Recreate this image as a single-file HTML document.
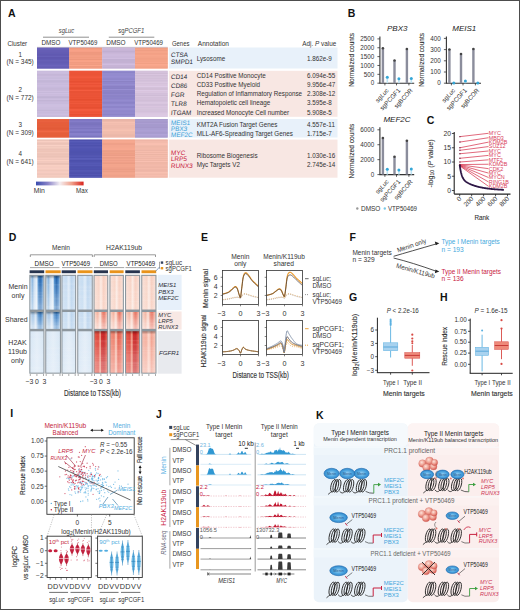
<!DOCTYPE html>
<html><head><meta charset="utf-8"><style>
html,body{margin:0;padding:0;background:#fff;}
svg{display:block;}
svg text{font-family:"Liberation Sans", sans-serif;}
</style></head><body>
<svg width="520" height="610" viewBox="0 0 520 610">
<rect x="0" y="0" width="520" height="610" fill="#fff"/>
<text x="8" y="17" font-size="10.5" fill="#111" font-weight="bold">A</text>
<text x="66.5" y="33" font-size="6.3" fill="#444" text-anchor="middle" font-style="italic" textLength="15.5" lengthAdjust="spacingAndGlyphs">sgLuc</text>
<line x1="43" y1="37.2" x2="89" y2="37.2" stroke="#444" stroke-width="0.6"/>
<text x="131.2" y="32.8" font-size="6.5" fill="#444" text-anchor="middle" textLength="26" lengthAdjust="spacingAndGlyphs">sg<tspan font-style="italic">PCGF1</tspan></text>
<line x1="108.8" y1="37.2" x2="154.3" y2="37.2" stroke="#444" stroke-width="0.6"/>
<text x="7.4" y="46.4" font-size="6.3" fill="#333" textLength="19.8" lengthAdjust="spacingAndGlyphs">Cluster</text>
<text x="41.5" y="45" font-size="6.3" fill="#333" textLength="19" lengthAdjust="spacingAndGlyphs">DMSO</text>
<text x="68.5" y="45" font-size="6.3" fill="#333" textLength="28.9" lengthAdjust="spacingAndGlyphs">VTP50469</text>
<text x="106.3" y="45" font-size="6.3" fill="#333" textLength="19.3" lengthAdjust="spacingAndGlyphs">DMSO</text>
<text x="134.2" y="45" font-size="6.3" fill="#333" textLength="28.8" lengthAdjust="spacingAndGlyphs">VTP50469</text>
<text x="172" y="46" font-size="6.3" fill="#333" textLength="17.4" lengthAdjust="spacingAndGlyphs">Genes</text>
<text x="197.8" y="46" font-size="6.3" fill="#333" textLength="31.2" lengthAdjust="spacingAndGlyphs">Annotation</text>
<text x="302.3" y="46.3" font-size="6.3" fill="#333" textLength="33.9" lengthAdjust="spacingAndGlyphs">Adj. <tspan font-style="italic">P</tspan> value</text>
<text x="20.2" y="56.6" font-size="6.3" fill="#333" text-anchor="middle">1</text>
<text x="20.2" y="63.8" font-size="6.3" fill="#333" text-anchor="middle" textLength="27.2" lengthAdjust="spacingAndGlyphs">(N = 345)</text>
<text x="20.2" y="92.3" font-size="6.3" fill="#333" text-anchor="middle">2</text>
<text x="20.2" y="100" font-size="6.3" fill="#333" text-anchor="middle" textLength="27.2" lengthAdjust="spacingAndGlyphs">(N = 772)</text>
<text x="20.2" y="126.5" font-size="6.3" fill="#333" text-anchor="middle">3</text>
<text x="20.2" y="134.6" font-size="6.3" fill="#333" text-anchor="middle" textLength="27.2" lengthAdjust="spacingAndGlyphs">(N = 309)</text>
<text x="20.2" y="156.2" font-size="6.3" fill="#333" text-anchor="middle">4</text>
<text x="20.2" y="164.4" font-size="6.3" fill="#333" text-anchor="middle" textLength="27.2" lengthAdjust="spacingAndGlyphs">(N = 641)</text>
<rect x="37.00" y="47.50" width="32.30" height="21.00" fill="#665fb6"/>
<rect x="37.00" y="47.50" width="32.30" height="1.00" fill="#6e67be" opacity="0.9"/>
<rect x="37.00" y="48.50" width="32.30" height="1.30" fill="#6962b9" opacity="0.9"/>
<rect x="37.00" y="49.80" width="32.30" height="0.60" fill="#6c65bc" opacity="0.9"/>
<rect x="37.00" y="50.40" width="32.30" height="0.60" fill="#645db4" opacity="0.9"/>
<rect x="37.00" y="51.00" width="32.30" height="0.60" fill="#6d66bd" opacity="0.9"/>
<rect x="37.00" y="51.60" width="32.30" height="0.80" fill="#5e57ae" opacity="0.9"/>
<rect x="37.00" y="52.40" width="32.30" height="1.30" fill="#655eb5" opacity="0.9"/>
<rect x="37.00" y="53.70" width="32.30" height="0.80" fill="#5f58af" opacity="0.9"/>
<rect x="37.00" y="54.50" width="32.30" height="1.30" fill="#5e57ae" opacity="0.9"/>
<rect x="37.00" y="55.80" width="32.30" height="0.60" fill="#6e67be" opacity="0.9"/>
<rect x="37.00" y="56.40" width="32.30" height="0.60" fill="#6760b7" opacity="0.9"/>
<rect x="37.00" y="57.00" width="32.30" height="1.30" fill="#5e57ae" opacity="0.9"/>
<rect x="37.00" y="58.30" width="32.30" height="0.80" fill="#5e57ae" opacity="0.9"/>
<rect x="37.00" y="59.10" width="32.30" height="0.80" fill="#625bb2" opacity="0.9"/>
<rect x="37.00" y="59.90" width="32.30" height="0.80" fill="#6760b7" opacity="0.9"/>
<rect x="37.00" y="60.70" width="32.30" height="1.00" fill="#6760b7" opacity="0.9"/>
<rect x="37.00" y="61.70" width="32.30" height="0.80" fill="#5f58af" opacity="0.9"/>
<rect x="37.00" y="62.50" width="32.30" height="0.80" fill="#645db4" opacity="0.9"/>
<rect x="37.00" y="63.30" width="32.30" height="0.60" fill="#6760b7" opacity="0.9"/>
<rect x="37.00" y="63.90" width="32.30" height="0.80" fill="#665fb6" opacity="0.9"/>
<rect x="37.00" y="64.70" width="32.30" height="1.30" fill="#6b64bb" opacity="0.9"/>
<rect x="37.00" y="66.00" width="32.30" height="1.30" fill="#6861b8" opacity="0.9"/>
<rect x="37.00" y="67.30" width="32.30" height="1.20" fill="#645db4" opacity="0.9"/>
<rect x="69.30" y="47.50" width="33.00" height="21.00" fill="#f49e84"/>
<rect x="69.30" y="47.50" width="33.00" height="0.80" fill="#f9a389" opacity="0.9"/>
<rect x="69.30" y="48.30" width="33.00" height="0.80" fill="#ec967c" opacity="0.9"/>
<rect x="69.30" y="49.10" width="33.00" height="1.00" fill="#f49e84" opacity="0.9"/>
<rect x="69.30" y="50.10" width="33.00" height="1.00" fill="#f8a288" opacity="0.9"/>
<rect x="69.30" y="51.10" width="33.00" height="1.00" fill="#f6a086" opacity="0.9"/>
<rect x="69.30" y="52.10" width="33.00" height="0.60" fill="#ed977d" opacity="0.9"/>
<rect x="69.30" y="52.70" width="33.00" height="1.30" fill="#ee987e" opacity="0.9"/>
<rect x="69.30" y="54.00" width="33.00" height="1.00" fill="#ee987e" opacity="0.9"/>
<rect x="69.30" y="55.00" width="33.00" height="1.30" fill="#f39d83" opacity="0.9"/>
<rect x="69.30" y="56.30" width="33.00" height="0.60" fill="#f9a389" opacity="0.9"/>
<rect x="69.30" y="56.90" width="33.00" height="1.00" fill="#f19b81" opacity="0.9"/>
<rect x="69.30" y="57.90" width="33.00" height="1.00" fill="#f6a086" opacity="0.9"/>
<rect x="69.30" y="58.90" width="33.00" height="1.30" fill="#ec967c" opacity="0.9"/>
<rect x="69.30" y="60.20" width="33.00" height="0.60" fill="#fca68c" opacity="0.9"/>
<rect x="69.30" y="60.80" width="33.00" height="1.30" fill="#f8a288" opacity="0.9"/>
<rect x="69.30" y="62.10" width="33.00" height="0.60" fill="#ec967c" opacity="0.9"/>
<rect x="69.30" y="62.70" width="33.00" height="1.00" fill="#f7a187" opacity="0.9"/>
<rect x="69.30" y="63.70" width="33.00" height="1.30" fill="#f09a80" opacity="0.9"/>
<rect x="69.30" y="65.00" width="33.00" height="1.30" fill="#fba58b" opacity="0.9"/>
<rect x="69.30" y="66.30" width="33.00" height="1.00" fill="#eb957b" opacity="0.9"/>
<rect x="69.30" y="67.30" width="33.00" height="1.20" fill="#f19b81" opacity="0.9"/>
<rect x="102.30" y="47.50" width="32.70" height="21.00" fill="#c8b6d8"/>
<rect x="102.30" y="47.50" width="32.70" height="0.60" fill="#c8b6d8" opacity="0.9"/>
<rect x="102.30" y="48.10" width="32.70" height="0.80" fill="#cdbbdd" opacity="0.9"/>
<rect x="102.30" y="48.90" width="32.70" height="0.80" fill="#ccbadc" opacity="0.9"/>
<rect x="102.30" y="49.70" width="32.70" height="1.30" fill="#c6b4d6" opacity="0.9"/>
<rect x="102.30" y="51.00" width="32.70" height="1.30" fill="#c0aed0" opacity="0.9"/>
<rect x="102.30" y="52.30" width="32.70" height="1.30" fill="#c6b4d6" opacity="0.9"/>
<rect x="102.30" y="53.60" width="32.70" height="1.00" fill="#cfbddf" opacity="0.9"/>
<rect x="102.30" y="54.60" width="32.70" height="1.30" fill="#cfbddf" opacity="0.9"/>
<rect x="102.30" y="55.90" width="32.70" height="1.00" fill="#ccbadc" opacity="0.9"/>
<rect x="102.30" y="56.90" width="32.70" height="1.00" fill="#cbb9db" opacity="0.9"/>
<rect x="102.30" y="57.90" width="32.70" height="1.30" fill="#d0bee0" opacity="0.9"/>
<rect x="102.30" y="59.20" width="32.70" height="0.80" fill="#c0aed0" opacity="0.9"/>
<rect x="102.30" y="60.00" width="32.70" height="0.80" fill="#c3b1d3" opacity="0.9"/>
<rect x="102.30" y="60.80" width="32.70" height="0.80" fill="#bfadcf" opacity="0.9"/>
<rect x="102.30" y="61.60" width="32.70" height="0.80" fill="#c4b2d4" opacity="0.9"/>
<rect x="102.30" y="62.40" width="32.70" height="0.60" fill="#c2b0d2" opacity="0.9"/>
<rect x="102.30" y="63.00" width="32.70" height="1.00" fill="#cab8da" opacity="0.9"/>
<rect x="102.30" y="64.00" width="32.70" height="1.00" fill="#d0bee0" opacity="0.9"/>
<rect x="102.30" y="65.00" width="32.70" height="0.60" fill="#c7b5d7" opacity="0.9"/>
<rect x="102.30" y="65.60" width="32.70" height="1.30" fill="#c6b4d6" opacity="0.9"/>
<rect x="102.30" y="66.90" width="32.70" height="1.30" fill="#c1afd1" opacity="0.9"/>
<rect x="102.30" y="68.20" width="32.70" height="0.30" fill="#c0aed0" opacity="0.9"/>
<rect x="135.00" y="47.50" width="32.70" height="21.00" fill="#f4a388"/>
<rect x="135.00" y="47.50" width="32.70" height="0.60" fill="#fdac91" opacity="0.9"/>
<rect x="135.00" y="48.10" width="32.70" height="1.30" fill="#ee9d82" opacity="0.9"/>
<rect x="135.00" y="49.40" width="32.70" height="1.00" fill="#f6a58a" opacity="0.9"/>
<rect x="135.00" y="50.40" width="32.70" height="0.60" fill="#eb9a7f" opacity="0.9"/>
<rect x="135.00" y="51.00" width="32.70" height="0.80" fill="#f5a489" opacity="0.9"/>
<rect x="135.00" y="51.80" width="32.70" height="1.00" fill="#f6a58a" opacity="0.9"/>
<rect x="135.00" y="52.80" width="32.70" height="0.60" fill="#fbaa8f" opacity="0.9"/>
<rect x="135.00" y="53.40" width="32.70" height="1.30" fill="#ee9d82" opacity="0.9"/>
<rect x="135.00" y="54.70" width="32.70" height="1.00" fill="#fcab90" opacity="0.9"/>
<rect x="135.00" y="55.70" width="32.70" height="1.00" fill="#f4a388" opacity="0.9"/>
<rect x="135.00" y="56.70" width="32.70" height="0.60" fill="#faa98e" opacity="0.9"/>
<rect x="135.00" y="57.30" width="32.70" height="1.30" fill="#f4a388" opacity="0.9"/>
<rect x="135.00" y="58.60" width="32.70" height="1.00" fill="#ed9c81" opacity="0.9"/>
<rect x="135.00" y="59.60" width="32.70" height="0.60" fill="#f8a78c" opacity="0.9"/>
<rect x="135.00" y="60.20" width="32.70" height="1.00" fill="#f4a388" opacity="0.9"/>
<rect x="135.00" y="61.20" width="32.70" height="0.80" fill="#f4a388" opacity="0.9"/>
<rect x="135.00" y="62.00" width="32.70" height="0.80" fill="#fcab90" opacity="0.9"/>
<rect x="135.00" y="62.80" width="32.70" height="1.00" fill="#ee9d82" opacity="0.9"/>
<rect x="135.00" y="63.80" width="32.70" height="0.60" fill="#f9a88d" opacity="0.9"/>
<rect x="135.00" y="64.40" width="32.70" height="1.00" fill="#fdac91" opacity="0.9"/>
<rect x="135.00" y="65.40" width="32.70" height="0.60" fill="#f8a78c" opacity="0.9"/>
<rect x="135.00" y="66.00" width="32.70" height="1.00" fill="#f4a388" opacity="0.9"/>
<rect x="135.00" y="67.00" width="32.70" height="0.80" fill="#f1a085" opacity="0.9"/>
<rect x="135.00" y="67.80" width="32.70" height="0.70" fill="#f5a489" opacity="0.9"/>
<rect x="37.00" y="70.80" width="32.30" height="46.00" fill="#c8badb"/>
<rect x="37.00" y="70.80" width="32.30" height="1.00" fill="#cabcdd" opacity="0.9"/>
<rect x="37.00" y="71.80" width="32.30" height="0.80" fill="#cec0e1" opacity="0.9"/>
<rect x="37.00" y="72.60" width="32.30" height="1.30" fill="#ccbedf" opacity="0.9"/>
<rect x="37.00" y="73.90" width="32.30" height="0.80" fill="#c3b5d6" opacity="0.9"/>
<rect x="37.00" y="74.70" width="32.30" height="1.30" fill="#c5b7d8" opacity="0.9"/>
<rect x="37.00" y="76.00" width="32.30" height="0.60" fill="#d1c3e4" opacity="0.9"/>
<rect x="37.00" y="76.60" width="32.30" height="1.00" fill="#c8badb" opacity="0.9"/>
<rect x="37.00" y="77.60" width="32.30" height="0.80" fill="#cbbdde" opacity="0.9"/>
<rect x="37.00" y="78.40" width="32.30" height="1.00" fill="#c7b9da" opacity="0.9"/>
<rect x="37.00" y="79.40" width="32.30" height="1.00" fill="#d0c2e3" opacity="0.9"/>
<rect x="37.00" y="80.40" width="32.30" height="1.00" fill="#c0b2d3" opacity="0.9"/>
<rect x="37.00" y="81.40" width="32.30" height="0.60" fill="#c3b5d6" opacity="0.9"/>
<rect x="37.00" y="82.00" width="32.30" height="0.80" fill="#c5b7d8" opacity="0.9"/>
<rect x="37.00" y="82.80" width="32.30" height="1.30" fill="#cabcdd" opacity="0.9"/>
<rect x="37.00" y="84.10" width="32.30" height="0.60" fill="#c8badb" opacity="0.9"/>
<rect x="37.00" y="84.70" width="32.30" height="1.00" fill="#cdbfe0" opacity="0.9"/>
<rect x="37.00" y="85.70" width="32.30" height="0.60" fill="#cec0e1" opacity="0.9"/>
<rect x="37.00" y="86.30" width="32.30" height="0.60" fill="#cfc1e2" opacity="0.9"/>
<rect x="37.00" y="86.90" width="32.30" height="0.80" fill="#c8badb" opacity="0.9"/>
<rect x="37.00" y="87.70" width="32.30" height="0.80" fill="#c7b9da" opacity="0.9"/>
<rect x="37.00" y="88.50" width="32.30" height="1.00" fill="#c1b3d4" opacity="0.9"/>
<rect x="37.00" y="89.50" width="32.30" height="1.30" fill="#c7b9da" opacity="0.9"/>
<rect x="37.00" y="90.80" width="32.30" height="0.60" fill="#ccbedf" opacity="0.9"/>
<rect x="37.00" y="91.40" width="32.30" height="0.80" fill="#d1c3e4" opacity="0.9"/>
<rect x="37.00" y="92.20" width="32.30" height="0.60" fill="#c2b4d5" opacity="0.9"/>
<rect x="37.00" y="92.80" width="32.30" height="1.30" fill="#cec0e1" opacity="0.9"/>
<rect x="37.00" y="94.10" width="32.30" height="0.80" fill="#cabcdd" opacity="0.9"/>
<rect x="37.00" y="94.90" width="32.30" height="1.30" fill="#cbbdde" opacity="0.9"/>
<rect x="37.00" y="96.20" width="32.30" height="1.00" fill="#c2b4d5" opacity="0.9"/>
<rect x="37.00" y="97.20" width="32.30" height="0.80" fill="#bfb1d2" opacity="0.9"/>
<rect x="37.00" y="98.00" width="32.30" height="0.60" fill="#c8badb" opacity="0.9"/>
<rect x="37.00" y="98.60" width="32.30" height="0.80" fill="#c7b9da" opacity="0.9"/>
<rect x="37.00" y="99.40" width="32.30" height="0.80" fill="#cec0e1" opacity="0.9"/>
<rect x="37.00" y="100.20" width="32.30" height="0.80" fill="#c0b2d3" opacity="0.9"/>
<rect x="37.00" y="101.00" width="32.30" height="0.80" fill="#c4b6d7" opacity="0.9"/>
<rect x="37.00" y="101.80" width="32.30" height="0.80" fill="#cdbfe0" opacity="0.9"/>
<rect x="37.00" y="102.60" width="32.30" height="1.00" fill="#c4b6d7" opacity="0.9"/>
<rect x="37.00" y="103.60" width="32.30" height="1.30" fill="#cec0e1" opacity="0.9"/>
<rect x="37.00" y="104.90" width="32.30" height="0.60" fill="#cfc1e2" opacity="0.9"/>
<rect x="37.00" y="105.50" width="32.30" height="1.00" fill="#cfc1e2" opacity="0.9"/>
<rect x="37.00" y="106.50" width="32.30" height="1.30" fill="#cec0e1" opacity="0.9"/>
<rect x="37.00" y="107.80" width="32.30" height="0.80" fill="#c9bbdc" opacity="0.9"/>
<rect x="37.00" y="108.60" width="32.30" height="0.60" fill="#cfc1e2" opacity="0.9"/>
<rect x="37.00" y="109.20" width="32.30" height="0.80" fill="#cabcdd" opacity="0.9"/>
<rect x="37.00" y="110.00" width="32.30" height="0.80" fill="#c2b4d5" opacity="0.9"/>
<rect x="37.00" y="110.80" width="32.30" height="1.30" fill="#cabcdd" opacity="0.9"/>
<rect x="37.00" y="112.10" width="32.30" height="0.60" fill="#c9bbdc" opacity="0.9"/>
<rect x="37.00" y="112.70" width="32.30" height="1.00" fill="#cbbdde" opacity="0.9"/>
<rect x="37.00" y="113.70" width="32.30" height="1.30" fill="#cdbfe0" opacity="0.9"/>
<rect x="37.00" y="115.00" width="32.30" height="0.60" fill="#cfc1e2" opacity="0.9"/>
<rect x="37.00" y="115.60" width="32.30" height="0.60" fill="#c3b5d6" opacity="0.9"/>
<rect x="37.00" y="116.20" width="32.30" height="0.60" fill="#c0b2d3" opacity="0.9"/>
<rect x="69.30" y="70.80" width="33.00" height="46.00" fill="#ec5538"/>
<rect x="69.30" y="70.80" width="33.00" height="0.60" fill="#ec5538" opacity="0.9"/>
<rect x="69.30" y="71.40" width="33.00" height="0.60" fill="#f15a3d" opacity="0.9"/>
<rect x="69.30" y="72.00" width="33.00" height="0.60" fill="#eb5437" opacity="0.9"/>
<rect x="69.30" y="72.60" width="33.00" height="0.80" fill="#ef583b" opacity="0.9"/>
<rect x="69.30" y="73.40" width="33.00" height="1.30" fill="#ec5538" opacity="0.9"/>
<rect x="69.30" y="74.70" width="33.00" height="1.30" fill="#ec5538" opacity="0.9"/>
<rect x="69.30" y="76.00" width="33.00" height="0.80" fill="#f0593c" opacity="0.9"/>
<rect x="69.30" y="76.80" width="33.00" height="1.00" fill="#f45d40" opacity="0.9"/>
<rect x="69.30" y="77.80" width="33.00" height="0.80" fill="#f25b3e" opacity="0.9"/>
<rect x="69.30" y="78.60" width="33.00" height="0.80" fill="#ea5336" opacity="0.9"/>
<rect x="69.30" y="79.40" width="33.00" height="1.30" fill="#eb5437" opacity="0.9"/>
<rect x="69.30" y="80.70" width="33.00" height="0.60" fill="#ef583b" opacity="0.9"/>
<rect x="69.30" y="81.30" width="33.00" height="1.30" fill="#e44d30" opacity="0.9"/>
<rect x="69.30" y="82.60" width="33.00" height="1.00" fill="#f15a3d" opacity="0.9"/>
<rect x="69.30" y="83.60" width="33.00" height="0.80" fill="#f45d40" opacity="0.9"/>
<rect x="69.30" y="84.40" width="33.00" height="1.00" fill="#e64f32" opacity="0.9"/>
<rect x="69.30" y="85.40" width="33.00" height="0.80" fill="#f45d40" opacity="0.9"/>
<rect x="69.30" y="86.20" width="33.00" height="0.80" fill="#f0593c" opacity="0.9"/>
<rect x="69.30" y="87.00" width="33.00" height="0.60" fill="#ea5336" opacity="0.9"/>
<rect x="69.30" y="87.60" width="33.00" height="1.30" fill="#e64f32" opacity="0.9"/>
<rect x="69.30" y="88.90" width="33.00" height="0.80" fill="#e64f32" opacity="0.9"/>
<rect x="69.30" y="89.70" width="33.00" height="1.30" fill="#f55e41" opacity="0.9"/>
<rect x="69.30" y="91.00" width="33.00" height="1.30" fill="#e95235" opacity="0.9"/>
<rect x="69.30" y="92.30" width="33.00" height="0.80" fill="#e95235" opacity="0.9"/>
<rect x="69.30" y="93.10" width="33.00" height="0.60" fill="#f0593c" opacity="0.9"/>
<rect x="69.30" y="93.70" width="33.00" height="0.60" fill="#e95235" opacity="0.9"/>
<rect x="69.30" y="94.30" width="33.00" height="1.30" fill="#eb5437" opacity="0.9"/>
<rect x="69.30" y="95.60" width="33.00" height="0.60" fill="#ea5336" opacity="0.9"/>
<rect x="69.30" y="96.20" width="33.00" height="1.00" fill="#ec5538" opacity="0.9"/>
<rect x="69.30" y="97.20" width="33.00" height="0.60" fill="#e54e31" opacity="0.9"/>
<rect x="69.30" y="97.80" width="33.00" height="0.80" fill="#f45d40" opacity="0.9"/>
<rect x="69.30" y="98.60" width="33.00" height="0.60" fill="#e54e31" opacity="0.9"/>
<rect x="69.30" y="99.20" width="33.00" height="1.00" fill="#e44d30" opacity="0.9"/>
<rect x="69.30" y="100.20" width="33.00" height="0.80" fill="#e85134" opacity="0.9"/>
<rect x="69.30" y="101.00" width="33.00" height="0.80" fill="#f25b3e" opacity="0.9"/>
<rect x="69.30" y="101.80" width="33.00" height="1.00" fill="#ea5336" opacity="0.9"/>
<rect x="69.30" y="102.80" width="33.00" height="1.30" fill="#f0593c" opacity="0.9"/>
<rect x="69.30" y="104.10" width="33.00" height="0.60" fill="#e85134" opacity="0.9"/>
<rect x="69.30" y="104.70" width="33.00" height="0.80" fill="#eb5437" opacity="0.9"/>
<rect x="69.30" y="105.50" width="33.00" height="0.60" fill="#e85134" opacity="0.9"/>
<rect x="69.30" y="106.10" width="33.00" height="0.60" fill="#ee573a" opacity="0.9"/>
<rect x="69.30" y="106.70" width="33.00" height="1.00" fill="#e54e31" opacity="0.9"/>
<rect x="69.30" y="107.70" width="33.00" height="0.80" fill="#e44d30" opacity="0.9"/>
<rect x="69.30" y="108.50" width="33.00" height="0.60" fill="#eb5437" opacity="0.9"/>
<rect x="69.30" y="109.10" width="33.00" height="1.00" fill="#f55e41" opacity="0.9"/>
<rect x="69.30" y="110.10" width="33.00" height="1.30" fill="#f45d40" opacity="0.9"/>
<rect x="69.30" y="111.40" width="33.00" height="1.00" fill="#ee573a" opacity="0.9"/>
<rect x="69.30" y="112.40" width="33.00" height="0.60" fill="#ec5538" opacity="0.9"/>
<rect x="69.30" y="113.00" width="33.00" height="0.80" fill="#f45d40" opacity="0.9"/>
<rect x="69.30" y="113.80" width="33.00" height="0.80" fill="#e85134" opacity="0.9"/>
<rect x="69.30" y="114.60" width="33.00" height="0.80" fill="#e75033" opacity="0.9"/>
<rect x="69.30" y="115.40" width="33.00" height="1.00" fill="#ee573a" opacity="0.9"/>
<rect x="69.30" y="116.40" width="33.00" height="0.40" fill="#e85134" opacity="0.9"/>
<rect x="102.30" y="70.80" width="32.70" height="46.00" fill="#9188cc"/>
<rect x="102.30" y="70.80" width="32.70" height="0.80" fill="#8d84c8" opacity="0.9"/>
<rect x="102.30" y="71.60" width="32.70" height="0.60" fill="#9a91d5" opacity="0.9"/>
<rect x="102.30" y="72.20" width="32.70" height="0.60" fill="#887fc3" opacity="0.9"/>
<rect x="102.30" y="72.80" width="32.70" height="0.80" fill="#9188cc" opacity="0.9"/>
<rect x="102.30" y="73.60" width="32.70" height="0.80" fill="#9990d4" opacity="0.9"/>
<rect x="102.30" y="74.40" width="32.70" height="0.60" fill="#948bcf" opacity="0.9"/>
<rect x="102.30" y="75.00" width="32.70" height="1.30" fill="#948bcf" opacity="0.9"/>
<rect x="102.30" y="76.30" width="32.70" height="1.30" fill="#9990d4" opacity="0.9"/>
<rect x="102.30" y="77.60" width="32.70" height="1.00" fill="#948bcf" opacity="0.9"/>
<rect x="102.30" y="78.60" width="32.70" height="0.80" fill="#8e85c9" opacity="0.9"/>
<rect x="102.30" y="79.40" width="32.70" height="0.80" fill="#8f86ca" opacity="0.9"/>
<rect x="102.30" y="80.20" width="32.70" height="1.00" fill="#9a91d5" opacity="0.9"/>
<rect x="102.30" y="81.20" width="32.70" height="0.80" fill="#887fc3" opacity="0.9"/>
<rect x="102.30" y="82.00" width="32.70" height="1.00" fill="#9087cb" opacity="0.9"/>
<rect x="102.30" y="83.00" width="32.70" height="0.60" fill="#8a81c5" opacity="0.9"/>
<rect x="102.30" y="83.60" width="32.70" height="1.30" fill="#988fd3" opacity="0.9"/>
<rect x="102.30" y="84.90" width="32.70" height="1.00" fill="#938ace" opacity="0.9"/>
<rect x="102.30" y="85.90" width="32.70" height="1.00" fill="#8980c4" opacity="0.9"/>
<rect x="102.30" y="86.90" width="32.70" height="0.80" fill="#8b82c6" opacity="0.9"/>
<rect x="102.30" y="87.70" width="32.70" height="1.30" fill="#887fc3" opacity="0.9"/>
<rect x="102.30" y="89.00" width="32.70" height="1.00" fill="#9990d4" opacity="0.9"/>
<rect x="102.30" y="90.00" width="32.70" height="1.00" fill="#8c83c7" opacity="0.9"/>
<rect x="102.30" y="91.00" width="32.70" height="1.00" fill="#8c83c7" opacity="0.9"/>
<rect x="102.30" y="92.00" width="32.70" height="0.80" fill="#887fc3" opacity="0.9"/>
<rect x="102.30" y="92.80" width="32.70" height="1.30" fill="#8a81c5" opacity="0.9"/>
<rect x="102.30" y="94.10" width="32.70" height="1.00" fill="#9188cc" opacity="0.9"/>
<rect x="102.30" y="95.10" width="32.70" height="0.80" fill="#8c83c7" opacity="0.9"/>
<rect x="102.30" y="95.90" width="32.70" height="0.60" fill="#8a81c5" opacity="0.9"/>
<rect x="102.30" y="96.50" width="32.70" height="0.60" fill="#8b82c6" opacity="0.9"/>
<rect x="102.30" y="97.10" width="32.70" height="0.60" fill="#8f86ca" opacity="0.9"/>
<rect x="102.30" y="97.70" width="32.70" height="1.00" fill="#8d84c8" opacity="0.9"/>
<rect x="102.30" y="98.70" width="32.70" height="0.80" fill="#8a81c5" opacity="0.9"/>
<rect x="102.30" y="99.50" width="32.70" height="0.80" fill="#948bcf" opacity="0.9"/>
<rect x="102.30" y="100.30" width="32.70" height="1.30" fill="#968dd1" opacity="0.9"/>
<rect x="102.30" y="101.60" width="32.70" height="1.30" fill="#8b82c6" opacity="0.9"/>
<rect x="102.30" y="102.90" width="32.70" height="0.80" fill="#8980c4" opacity="0.9"/>
<rect x="102.30" y="103.70" width="32.70" height="1.30" fill="#958cd0" opacity="0.9"/>
<rect x="102.30" y="105.00" width="32.70" height="0.80" fill="#988fd3" opacity="0.9"/>
<rect x="102.30" y="105.80" width="32.70" height="0.60" fill="#978ed2" opacity="0.9"/>
<rect x="102.30" y="106.40" width="32.70" height="0.80" fill="#8a81c5" opacity="0.9"/>
<rect x="102.30" y="107.20" width="32.70" height="0.60" fill="#8a81c5" opacity="0.9"/>
<rect x="102.30" y="107.80" width="32.70" height="1.00" fill="#9990d4" opacity="0.9"/>
<rect x="102.30" y="108.80" width="32.70" height="1.30" fill="#978ed2" opacity="0.9"/>
<rect x="102.30" y="110.10" width="32.70" height="0.60" fill="#938ace" opacity="0.9"/>
<rect x="102.30" y="110.70" width="32.70" height="0.80" fill="#9188cc" opacity="0.9"/>
<rect x="102.30" y="111.50" width="32.70" height="0.60" fill="#9087cb" opacity="0.9"/>
<rect x="102.30" y="112.10" width="32.70" height="0.60" fill="#958cd0" opacity="0.9"/>
<rect x="102.30" y="112.70" width="32.70" height="0.60" fill="#948bcf" opacity="0.9"/>
<rect x="102.30" y="113.30" width="32.70" height="0.60" fill="#958cd0" opacity="0.9"/>
<rect x="102.30" y="113.90" width="32.70" height="1.30" fill="#8d84c8" opacity="0.9"/>
<rect x="102.30" y="115.20" width="32.70" height="0.60" fill="#978ed2" opacity="0.9"/>
<rect x="102.30" y="115.80" width="32.70" height="0.80" fill="#958cd0" opacity="0.9"/>
<rect x="135.00" y="70.80" width="32.70" height="46.00" fill="#d6c3dc"/>
<rect x="135.00" y="70.80" width="32.70" height="0.80" fill="#d1bed7" opacity="0.9"/>
<rect x="135.00" y="71.60" width="32.70" height="1.30" fill="#d6c3dc" opacity="0.9"/>
<rect x="135.00" y="72.90" width="32.70" height="1.30" fill="#cebbd4" opacity="0.9"/>
<rect x="135.00" y="74.20" width="32.70" height="1.00" fill="#dbc8e1" opacity="0.9"/>
<rect x="135.00" y="75.20" width="32.70" height="0.80" fill="#cebbd4" opacity="0.9"/>
<rect x="135.00" y="76.00" width="32.70" height="0.80" fill="#d3c0d9" opacity="0.9"/>
<rect x="135.00" y="76.80" width="32.70" height="1.00" fill="#d8c5de" opacity="0.9"/>
<rect x="135.00" y="77.80" width="32.70" height="0.80" fill="#cdbad3" opacity="0.9"/>
<rect x="135.00" y="78.60" width="32.70" height="0.60" fill="#d6c3dc" opacity="0.9"/>
<rect x="135.00" y="79.20" width="32.70" height="0.60" fill="#d9c6df" opacity="0.9"/>
<rect x="135.00" y="79.80" width="32.70" height="1.30" fill="#d2bfd8" opacity="0.9"/>
<rect x="135.00" y="81.10" width="32.70" height="1.00" fill="#d5c2db" opacity="0.9"/>
<rect x="135.00" y="82.10" width="32.70" height="1.30" fill="#dbc8e1" opacity="0.9"/>
<rect x="135.00" y="83.40" width="32.70" height="0.80" fill="#d3c0d9" opacity="0.9"/>
<rect x="135.00" y="84.20" width="32.70" height="0.60" fill="#decbe4" opacity="0.9"/>
<rect x="135.00" y="84.80" width="32.70" height="0.60" fill="#d2bfd8" opacity="0.9"/>
<rect x="135.00" y="85.40" width="32.70" height="0.60" fill="#dcc9e2" opacity="0.9"/>
<rect x="135.00" y="86.00" width="32.70" height="1.30" fill="#dfcce5" opacity="0.9"/>
<rect x="135.00" y="87.30" width="32.70" height="1.30" fill="#d1bed7" opacity="0.9"/>
<rect x="135.00" y="88.60" width="32.70" height="0.80" fill="#cebbd4" opacity="0.9"/>
<rect x="135.00" y="89.40" width="32.70" height="0.60" fill="#d0bdd6" opacity="0.9"/>
<rect x="135.00" y="90.00" width="32.70" height="1.00" fill="#decbe4" opacity="0.9"/>
<rect x="135.00" y="91.00" width="32.70" height="0.80" fill="#d8c5de" opacity="0.9"/>
<rect x="135.00" y="91.80" width="32.70" height="1.00" fill="#ddcae3" opacity="0.9"/>
<rect x="135.00" y="92.80" width="32.70" height="1.00" fill="#d1bed7" opacity="0.9"/>
<rect x="135.00" y="93.80" width="32.70" height="1.30" fill="#d4c1da" opacity="0.9"/>
<rect x="135.00" y="95.10" width="32.70" height="0.80" fill="#cdbad3" opacity="0.9"/>
<rect x="135.00" y="95.90" width="32.70" height="1.30" fill="#d9c6df" opacity="0.9"/>
<rect x="135.00" y="97.20" width="32.70" height="1.30" fill="#d2bfd8" opacity="0.9"/>
<rect x="135.00" y="98.50" width="32.70" height="0.80" fill="#d4c1da" opacity="0.9"/>
<rect x="135.00" y="99.30" width="32.70" height="1.30" fill="#d3c0d9" opacity="0.9"/>
<rect x="135.00" y="100.60" width="32.70" height="1.00" fill="#cdbad3" opacity="0.9"/>
<rect x="135.00" y="101.60" width="32.70" height="1.00" fill="#dcc9e2" opacity="0.9"/>
<rect x="135.00" y="102.60" width="32.70" height="0.60" fill="#decbe4" opacity="0.9"/>
<rect x="135.00" y="103.20" width="32.70" height="0.80" fill="#dac7e0" opacity="0.9"/>
<rect x="135.00" y="104.00" width="32.70" height="1.00" fill="#d2bfd8" opacity="0.9"/>
<rect x="135.00" y="105.00" width="32.70" height="0.60" fill="#d4c1da" opacity="0.9"/>
<rect x="135.00" y="105.60" width="32.70" height="0.60" fill="#d3c0d9" opacity="0.9"/>
<rect x="135.00" y="106.20" width="32.70" height="1.30" fill="#dbc8e1" opacity="0.9"/>
<rect x="135.00" y="107.50" width="32.70" height="0.60" fill="#d2bfd8" opacity="0.9"/>
<rect x="135.00" y="108.10" width="32.70" height="0.60" fill="#dcc9e2" opacity="0.9"/>
<rect x="135.00" y="108.70" width="32.70" height="1.00" fill="#d8c5de" opacity="0.9"/>
<rect x="135.00" y="109.70" width="32.70" height="0.80" fill="#d1bed7" opacity="0.9"/>
<rect x="135.00" y="110.50" width="32.70" height="1.00" fill="#d5c2db" opacity="0.9"/>
<rect x="135.00" y="111.50" width="32.70" height="1.00" fill="#d0bdd6" opacity="0.9"/>
<rect x="135.00" y="112.50" width="32.70" height="1.00" fill="#dbc8e1" opacity="0.9"/>
<rect x="135.00" y="113.50" width="32.70" height="1.30" fill="#ddcae3" opacity="0.9"/>
<rect x="135.00" y="114.80" width="32.70" height="1.30" fill="#ddcae3" opacity="0.9"/>
<rect x="135.00" y="116.10" width="32.70" height="0.70" fill="#dac7e0" opacity="0.9"/>
<rect x="37.00" y="119.00" width="32.30" height="18.50" fill="#e8613e"/>
<rect x="37.00" y="119.00" width="32.30" height="0.60" fill="#f06946" opacity="0.9"/>
<rect x="37.00" y="119.60" width="32.30" height="1.30" fill="#e7603d" opacity="0.9"/>
<rect x="37.00" y="120.90" width="32.30" height="0.80" fill="#eb6441" opacity="0.9"/>
<rect x="37.00" y="121.70" width="32.30" height="1.00" fill="#e8613e" opacity="0.9"/>
<rect x="37.00" y="122.70" width="32.30" height="0.80" fill="#e25b38" opacity="0.9"/>
<rect x="37.00" y="123.50" width="32.30" height="1.30" fill="#e55e3b" opacity="0.9"/>
<rect x="37.00" y="124.80" width="32.30" height="1.00" fill="#e45d3a" opacity="0.9"/>
<rect x="37.00" y="125.80" width="32.30" height="1.00" fill="#e65f3c" opacity="0.9"/>
<rect x="37.00" y="126.80" width="32.30" height="0.80" fill="#e45d3a" opacity="0.9"/>
<rect x="37.00" y="127.60" width="32.30" height="1.30" fill="#e15a37" opacity="0.9"/>
<rect x="37.00" y="128.90" width="32.30" height="0.80" fill="#e05936" opacity="0.9"/>
<rect x="37.00" y="129.70" width="32.30" height="1.30" fill="#e9623f" opacity="0.9"/>
<rect x="37.00" y="131.00" width="32.30" height="1.30" fill="#ef6845" opacity="0.9"/>
<rect x="37.00" y="132.30" width="32.30" height="1.30" fill="#e7603d" opacity="0.9"/>
<rect x="37.00" y="133.60" width="32.30" height="0.80" fill="#e35c39" opacity="0.9"/>
<rect x="37.00" y="134.40" width="32.30" height="0.80" fill="#e55e3b" opacity="0.9"/>
<rect x="37.00" y="135.20" width="32.30" height="0.60" fill="#e55e3b" opacity="0.9"/>
<rect x="37.00" y="135.80" width="32.30" height="1.00" fill="#e45d3a" opacity="0.9"/>
<rect x="37.00" y="136.80" width="32.30" height="0.70" fill="#ef6845" opacity="0.9"/>
<rect x="69.30" y="119.00" width="33.00" height="18.50" fill="#8079c4"/>
<rect x="69.30" y="119.00" width="33.00" height="1.30" fill="#7e77c2" opacity="0.9"/>
<rect x="69.30" y="120.30" width="33.00" height="0.80" fill="#7e77c2" opacity="0.9"/>
<rect x="69.30" y="121.10" width="33.00" height="1.00" fill="#857ec9" opacity="0.9"/>
<rect x="69.30" y="122.10" width="33.00" height="1.30" fill="#7c75c0" opacity="0.9"/>
<rect x="69.30" y="123.40" width="33.00" height="1.00" fill="#7972bd" opacity="0.9"/>
<rect x="69.30" y="124.40" width="33.00" height="0.80" fill="#7972bd" opacity="0.9"/>
<rect x="69.30" y="125.20" width="33.00" height="0.80" fill="#7e77c2" opacity="0.9"/>
<rect x="69.30" y="126.00" width="33.00" height="1.30" fill="#7f78c3" opacity="0.9"/>
<rect x="69.30" y="127.30" width="33.00" height="1.00" fill="#867fca" opacity="0.9"/>
<rect x="69.30" y="128.30" width="33.00" height="0.60" fill="#7972bd" opacity="0.9"/>
<rect x="69.30" y="128.90" width="33.00" height="1.30" fill="#847dc8" opacity="0.9"/>
<rect x="69.30" y="130.20" width="33.00" height="1.30" fill="#8881cc" opacity="0.9"/>
<rect x="69.30" y="131.50" width="33.00" height="1.30" fill="#7770bb" opacity="0.9"/>
<rect x="69.30" y="132.80" width="33.00" height="1.30" fill="#8881cc" opacity="0.9"/>
<rect x="69.30" y="134.10" width="33.00" height="1.30" fill="#8982cd" opacity="0.9"/>
<rect x="69.30" y="135.40" width="33.00" height="0.80" fill="#857ec9" opacity="0.9"/>
<rect x="69.30" y="136.20" width="33.00" height="0.80" fill="#7a73be" opacity="0.9"/>
<rect x="69.30" y="137.00" width="33.00" height="0.50" fill="#8881cc" opacity="0.9"/>
<rect x="102.30" y="119.00" width="32.70" height="18.50" fill="#f0bcad"/>
<rect x="102.30" y="119.00" width="32.70" height="1.30" fill="#e9b5a6" opacity="0.9"/>
<rect x="102.30" y="120.30" width="32.70" height="0.60" fill="#e7b3a4" opacity="0.9"/>
<rect x="102.30" y="120.90" width="32.70" height="0.80" fill="#ebb7a8" opacity="0.9"/>
<rect x="102.30" y="121.70" width="32.70" height="0.60" fill="#f3bfb0" opacity="0.9"/>
<rect x="102.30" y="122.30" width="32.70" height="1.00" fill="#f8c4b5" opacity="0.9"/>
<rect x="102.30" y="123.30" width="32.70" height="1.00" fill="#f1bdae" opacity="0.9"/>
<rect x="102.30" y="124.30" width="32.70" height="1.30" fill="#f4c0b1" opacity="0.9"/>
<rect x="102.30" y="125.60" width="32.70" height="0.60" fill="#e9b5a6" opacity="0.9"/>
<rect x="102.30" y="126.20" width="32.70" height="1.00" fill="#f0bcad" opacity="0.9"/>
<rect x="102.30" y="127.20" width="32.70" height="0.80" fill="#eebaab" opacity="0.9"/>
<rect x="102.30" y="128.00" width="32.70" height="0.80" fill="#f5c1b2" opacity="0.9"/>
<rect x="102.30" y="128.80" width="32.70" height="0.60" fill="#e7b3a4" opacity="0.9"/>
<rect x="102.30" y="129.40" width="32.70" height="1.00" fill="#f9c5b6" opacity="0.9"/>
<rect x="102.30" y="130.40" width="32.70" height="1.00" fill="#f8c4b5" opacity="0.9"/>
<rect x="102.30" y="131.40" width="32.70" height="0.80" fill="#f0bcad" opacity="0.9"/>
<rect x="102.30" y="132.20" width="32.70" height="0.80" fill="#f1bdae" opacity="0.9"/>
<rect x="102.30" y="133.00" width="32.70" height="0.60" fill="#f8c4b5" opacity="0.9"/>
<rect x="102.30" y="133.60" width="32.70" height="1.00" fill="#e8b4a5" opacity="0.9"/>
<rect x="102.30" y="134.60" width="32.70" height="0.80" fill="#f0bcad" opacity="0.9"/>
<rect x="102.30" y="135.40" width="32.70" height="1.30" fill="#e8b4a5" opacity="0.9"/>
<rect x="102.30" y="136.70" width="32.70" height="0.80" fill="#f3bfb0" opacity="0.9"/>
<rect x="135.00" y="119.00" width="32.70" height="18.50" fill="#a99dd0"/>
<rect x="135.00" y="119.00" width="32.70" height="1.00" fill="#a498cb" opacity="0.9"/>
<rect x="135.00" y="120.00" width="32.70" height="0.60" fill="#ada1d4" opacity="0.9"/>
<rect x="135.00" y="120.60" width="32.70" height="1.30" fill="#a79bce" opacity="0.9"/>
<rect x="135.00" y="121.90" width="32.70" height="1.30" fill="#a498cb" opacity="0.9"/>
<rect x="135.00" y="123.20" width="32.70" height="1.00" fill="#ada1d4" opacity="0.9"/>
<rect x="135.00" y="124.20" width="32.70" height="0.60" fill="#a498cb" opacity="0.9"/>
<rect x="135.00" y="124.80" width="32.70" height="0.80" fill="#a69acd" opacity="0.9"/>
<rect x="135.00" y="125.60" width="32.70" height="0.80" fill="#a498cb" opacity="0.9"/>
<rect x="135.00" y="126.40" width="32.70" height="0.80" fill="#a599cc" opacity="0.9"/>
<rect x="135.00" y="127.20" width="32.70" height="1.00" fill="#a296c9" opacity="0.9"/>
<rect x="135.00" y="128.20" width="32.70" height="1.30" fill="#ab9fd2" opacity="0.9"/>
<rect x="135.00" y="129.50" width="32.70" height="0.80" fill="#a99dd0" opacity="0.9"/>
<rect x="135.00" y="130.30" width="32.70" height="0.60" fill="#b1a5d8" opacity="0.9"/>
<rect x="135.00" y="130.90" width="32.70" height="0.80" fill="#b1a5d8" opacity="0.9"/>
<rect x="135.00" y="131.70" width="32.70" height="0.60" fill="#a498cb" opacity="0.9"/>
<rect x="135.00" y="132.30" width="32.70" height="0.80" fill="#a79bce" opacity="0.9"/>
<rect x="135.00" y="133.10" width="32.70" height="0.60" fill="#a397ca" opacity="0.9"/>
<rect x="135.00" y="133.70" width="32.70" height="1.30" fill="#b0a4d7" opacity="0.9"/>
<rect x="135.00" y="135.00" width="32.70" height="1.00" fill="#ada1d4" opacity="0.9"/>
<rect x="135.00" y="136.00" width="32.70" height="0.60" fill="#b1a5d8" opacity="0.9"/>
<rect x="135.00" y="136.60" width="32.70" height="0.90" fill="#a397ca" opacity="0.9"/>
<rect x="37.00" y="139.60" width="32.30" height="38.10" fill="#f2c9bd"/>
<rect x="37.00" y="139.60" width="32.30" height="1.30" fill="#eac1b5" opacity="0.9"/>
<rect x="37.00" y="140.90" width="32.30" height="1.30" fill="#f8cfc3" opacity="0.9"/>
<rect x="37.00" y="142.20" width="32.30" height="1.00" fill="#f1c8bc" opacity="0.9"/>
<rect x="37.00" y="143.20" width="32.30" height="0.60" fill="#e9c0b4" opacity="0.9"/>
<rect x="37.00" y="143.80" width="32.30" height="1.00" fill="#eac1b5" opacity="0.9"/>
<rect x="37.00" y="144.80" width="32.30" height="1.30" fill="#fad1c5" opacity="0.9"/>
<rect x="37.00" y="146.10" width="32.30" height="0.60" fill="#f3cabe" opacity="0.9"/>
<rect x="37.00" y="146.70" width="32.30" height="0.80" fill="#f0c7bb" opacity="0.9"/>
<rect x="37.00" y="147.50" width="32.30" height="1.00" fill="#f8cfc3" opacity="0.9"/>
<rect x="37.00" y="148.50" width="32.30" height="1.30" fill="#ebc2b6" opacity="0.9"/>
<rect x="37.00" y="149.80" width="32.30" height="1.30" fill="#edc4b8" opacity="0.9"/>
<rect x="37.00" y="151.10" width="32.30" height="1.30" fill="#ecc3b7" opacity="0.9"/>
<rect x="37.00" y="152.40" width="32.30" height="1.00" fill="#f6cdc1" opacity="0.9"/>
<rect x="37.00" y="153.40" width="32.30" height="1.30" fill="#eac1b5" opacity="0.9"/>
<rect x="37.00" y="154.70" width="32.30" height="1.30" fill="#edc4b8" opacity="0.9"/>
<rect x="37.00" y="156.00" width="32.30" height="1.30" fill="#eac1b5" opacity="0.9"/>
<rect x="37.00" y="157.30" width="32.30" height="0.60" fill="#f1c8bc" opacity="0.9"/>
<rect x="37.00" y="157.90" width="32.30" height="0.60" fill="#eec5b9" opacity="0.9"/>
<rect x="37.00" y="158.50" width="32.30" height="0.60" fill="#f9d0c4" opacity="0.9"/>
<rect x="37.00" y="159.10" width="32.30" height="1.00" fill="#f0c7bb" opacity="0.9"/>
<rect x="37.00" y="160.10" width="32.30" height="1.00" fill="#fad1c5" opacity="0.9"/>
<rect x="37.00" y="161.10" width="32.30" height="0.60" fill="#eec5b9" opacity="0.9"/>
<rect x="37.00" y="161.70" width="32.30" height="1.00" fill="#fad1c5" opacity="0.9"/>
<rect x="37.00" y="162.70" width="32.30" height="1.00" fill="#e9c0b4" opacity="0.9"/>
<rect x="37.00" y="163.70" width="32.30" height="0.60" fill="#e9c0b4" opacity="0.9"/>
<rect x="37.00" y="164.30" width="32.30" height="0.80" fill="#ebc2b6" opacity="0.9"/>
<rect x="37.00" y="165.10" width="32.30" height="1.30" fill="#fad1c5" opacity="0.9"/>
<rect x="37.00" y="166.40" width="32.30" height="1.30" fill="#f7cec2" opacity="0.9"/>
<rect x="37.00" y="167.70" width="32.30" height="1.30" fill="#f8cfc3" opacity="0.9"/>
<rect x="37.00" y="169.00" width="32.30" height="0.80" fill="#fad1c5" opacity="0.9"/>
<rect x="37.00" y="169.80" width="32.30" height="0.80" fill="#e9c0b4" opacity="0.9"/>
<rect x="37.00" y="170.60" width="32.30" height="1.00" fill="#f8cfc3" opacity="0.9"/>
<rect x="37.00" y="171.60" width="32.30" height="0.80" fill="#f4cbbf" opacity="0.9"/>
<rect x="37.00" y="172.40" width="32.30" height="1.00" fill="#f9d0c4" opacity="0.9"/>
<rect x="37.00" y="173.40" width="32.30" height="1.30" fill="#f0c7bb" opacity="0.9"/>
<rect x="37.00" y="174.70" width="32.30" height="0.60" fill="#f2c9bd" opacity="0.9"/>
<rect x="37.00" y="175.30" width="32.30" height="1.30" fill="#f7cec2" opacity="0.9"/>
<rect x="37.00" y="176.60" width="32.30" height="0.80" fill="#f0c7bb" opacity="0.9"/>
<rect x="69.30" y="139.60" width="33.00" height="38.10" fill="#5357b2"/>
<rect x="69.30" y="139.60" width="33.00" height="0.60" fill="#5357b2" opacity="0.9"/>
<rect x="69.30" y="140.20" width="33.00" height="1.00" fill="#4d51ac" opacity="0.9"/>
<rect x="69.30" y="141.20" width="33.00" height="1.30" fill="#5a5eb9" opacity="0.9"/>
<rect x="69.30" y="142.50" width="33.00" height="0.60" fill="#4f53ae" opacity="0.9"/>
<rect x="69.30" y="143.10" width="33.00" height="0.60" fill="#4e52ad" opacity="0.9"/>
<rect x="69.30" y="143.70" width="33.00" height="1.30" fill="#5357b2" opacity="0.9"/>
<rect x="69.30" y="145.00" width="33.00" height="1.30" fill="#4d51ac" opacity="0.9"/>
<rect x="69.30" y="146.30" width="33.00" height="0.80" fill="#5256b1" opacity="0.9"/>
<rect x="69.30" y="147.10" width="33.00" height="0.80" fill="#575bb6" opacity="0.9"/>
<rect x="69.30" y="147.90" width="33.00" height="0.60" fill="#585cb7" opacity="0.9"/>
<rect x="69.30" y="148.50" width="33.00" height="1.00" fill="#4f53ae" opacity="0.9"/>
<rect x="69.30" y="149.50" width="33.00" height="1.00" fill="#5155b0" opacity="0.9"/>
<rect x="69.30" y="150.50" width="33.00" height="1.00" fill="#4e52ad" opacity="0.9"/>
<rect x="69.30" y="151.50" width="33.00" height="0.80" fill="#4d51ac" opacity="0.9"/>
<rect x="69.30" y="152.30" width="33.00" height="0.80" fill="#4d51ac" opacity="0.9"/>
<rect x="69.30" y="153.10" width="33.00" height="0.80" fill="#5054af" opacity="0.9"/>
<rect x="69.30" y="153.90" width="33.00" height="1.30" fill="#4f53ae" opacity="0.9"/>
<rect x="69.30" y="155.20" width="33.00" height="0.80" fill="#5357b2" opacity="0.9"/>
<rect x="69.30" y="156.00" width="33.00" height="0.80" fill="#565ab5" opacity="0.9"/>
<rect x="69.30" y="156.80" width="33.00" height="0.60" fill="#565ab5" opacity="0.9"/>
<rect x="69.30" y="157.40" width="33.00" height="0.60" fill="#4c50ab" opacity="0.9"/>
<rect x="69.30" y="158.00" width="33.00" height="1.30" fill="#5a5eb9" opacity="0.9"/>
<rect x="69.30" y="159.30" width="33.00" height="0.80" fill="#595db8" opacity="0.9"/>
<rect x="69.30" y="160.10" width="33.00" height="1.00" fill="#4b4faa" opacity="0.9"/>
<rect x="69.30" y="161.10" width="33.00" height="1.00" fill="#4e52ad" opacity="0.9"/>
<rect x="69.30" y="162.10" width="33.00" height="0.60" fill="#4d51ac" opacity="0.9"/>
<rect x="69.30" y="162.70" width="33.00" height="0.80" fill="#5b5fba" opacity="0.9"/>
<rect x="69.30" y="163.50" width="33.00" height="1.00" fill="#5357b2" opacity="0.9"/>
<rect x="69.30" y="164.50" width="33.00" height="0.80" fill="#5256b1" opacity="0.9"/>
<rect x="69.30" y="165.30" width="33.00" height="1.00" fill="#585cb7" opacity="0.9"/>
<rect x="69.30" y="166.30" width="33.00" height="0.60" fill="#4c50ab" opacity="0.9"/>
<rect x="69.30" y="166.90" width="33.00" height="1.00" fill="#4e52ad" opacity="0.9"/>
<rect x="69.30" y="167.90" width="33.00" height="1.00" fill="#5054af" opacity="0.9"/>
<rect x="69.30" y="168.90" width="33.00" height="0.60" fill="#4e52ad" opacity="0.9"/>
<rect x="69.30" y="169.50" width="33.00" height="1.00" fill="#4b4faa" opacity="0.9"/>
<rect x="69.30" y="170.50" width="33.00" height="0.80" fill="#595db8" opacity="0.9"/>
<rect x="69.30" y="171.30" width="33.00" height="1.00" fill="#5155b0" opacity="0.9"/>
<rect x="69.30" y="172.30" width="33.00" height="1.00" fill="#4d51ac" opacity="0.9"/>
<rect x="69.30" y="173.30" width="33.00" height="1.00" fill="#4b4faa" opacity="0.9"/>
<rect x="69.30" y="174.30" width="33.00" height="0.60" fill="#585cb7" opacity="0.9"/>
<rect x="69.30" y="174.90" width="33.00" height="1.30" fill="#4b4faa" opacity="0.9"/>
<rect x="69.30" y="176.20" width="33.00" height="0.60" fill="#585cb7" opacity="0.9"/>
<rect x="69.30" y="176.80" width="33.00" height="0.80" fill="#565ab5" opacity="0.9"/>
<rect x="102.30" y="139.60" width="32.70" height="38.10" fill="#f1a38b"/>
<rect x="102.30" y="139.60" width="32.70" height="0.60" fill="#f4a68e" opacity="0.9"/>
<rect x="102.30" y="140.20" width="32.70" height="1.30" fill="#f5a78f" opacity="0.9"/>
<rect x="102.30" y="141.50" width="32.70" height="1.30" fill="#faac94" opacity="0.9"/>
<rect x="102.30" y="142.80" width="32.70" height="1.00" fill="#f0a28a" opacity="0.9"/>
<rect x="102.30" y="143.80" width="32.70" height="0.60" fill="#eea088" opacity="0.9"/>
<rect x="102.30" y="144.40" width="32.70" height="1.00" fill="#efa189" opacity="0.9"/>
<rect x="102.30" y="145.40" width="32.70" height="0.60" fill="#f8aa92" opacity="0.9"/>
<rect x="102.30" y="146.00" width="32.70" height="1.00" fill="#f4a68e" opacity="0.9"/>
<rect x="102.30" y="147.00" width="32.70" height="1.30" fill="#f5a78f" opacity="0.9"/>
<rect x="102.30" y="148.30" width="32.70" height="0.80" fill="#f9ab93" opacity="0.9"/>
<rect x="102.30" y="149.10" width="32.70" height="1.30" fill="#f8aa92" opacity="0.9"/>
<rect x="102.30" y="150.40" width="32.70" height="1.30" fill="#ea9c84" opacity="0.9"/>
<rect x="102.30" y="151.70" width="32.70" height="0.60" fill="#efa189" opacity="0.9"/>
<rect x="102.30" y="152.30" width="32.70" height="1.00" fill="#f0a28a" opacity="0.9"/>
<rect x="102.30" y="153.30" width="32.70" height="0.80" fill="#ea9c84" opacity="0.9"/>
<rect x="102.30" y="154.10" width="32.70" height="0.60" fill="#f2a48c" opacity="0.9"/>
<rect x="102.30" y="154.70" width="32.70" height="1.30" fill="#ea9c84" opacity="0.9"/>
<rect x="102.30" y="156.00" width="32.70" height="1.00" fill="#f5a78f" opacity="0.9"/>
<rect x="102.30" y="157.00" width="32.70" height="0.80" fill="#eb9d85" opacity="0.9"/>
<rect x="102.30" y="157.80" width="32.70" height="1.00" fill="#eb9d85" opacity="0.9"/>
<rect x="102.30" y="158.80" width="32.70" height="0.80" fill="#f9ab93" opacity="0.9"/>
<rect x="102.30" y="159.60" width="32.70" height="0.60" fill="#efa189" opacity="0.9"/>
<rect x="102.30" y="160.20" width="32.70" height="0.80" fill="#ed9f87" opacity="0.9"/>
<rect x="102.30" y="161.00" width="32.70" height="0.60" fill="#faac94" opacity="0.9"/>
<rect x="102.30" y="161.60" width="32.70" height="1.30" fill="#eea088" opacity="0.9"/>
<rect x="102.30" y="162.90" width="32.70" height="1.30" fill="#ea9c84" opacity="0.9"/>
<rect x="102.30" y="164.20" width="32.70" height="0.80" fill="#f4a68e" opacity="0.9"/>
<rect x="102.30" y="165.00" width="32.70" height="0.80" fill="#f3a58d" opacity="0.9"/>
<rect x="102.30" y="165.80" width="32.70" height="0.80" fill="#f7a991" opacity="0.9"/>
<rect x="102.30" y="166.60" width="32.70" height="0.80" fill="#f2a48c" opacity="0.9"/>
<rect x="102.30" y="167.40" width="32.70" height="0.60" fill="#efa189" opacity="0.9"/>
<rect x="102.30" y="168.00" width="32.70" height="0.80" fill="#efa189" opacity="0.9"/>
<rect x="102.30" y="168.80" width="32.70" height="0.60" fill="#eb9d85" opacity="0.9"/>
<rect x="102.30" y="169.40" width="32.70" height="0.80" fill="#e99b83" opacity="0.9"/>
<rect x="102.30" y="170.20" width="32.70" height="0.60" fill="#f4a68e" opacity="0.9"/>
<rect x="102.30" y="170.80" width="32.70" height="1.00" fill="#ea9c84" opacity="0.9"/>
<rect x="102.30" y="171.80" width="32.70" height="1.30" fill="#f2a48c" opacity="0.9"/>
<rect x="102.30" y="173.10" width="32.70" height="1.00" fill="#f4a68e" opacity="0.9"/>
<rect x="102.30" y="174.10" width="32.70" height="1.00" fill="#f2a48c" opacity="0.9"/>
<rect x="102.30" y="175.10" width="32.70" height="1.30" fill="#efa189" opacity="0.9"/>
<rect x="102.30" y="176.40" width="32.70" height="1.00" fill="#f0a28a" opacity="0.9"/>
<rect x="135.00" y="139.60" width="32.70" height="38.10" fill="#f3bbab"/>
<rect x="135.00" y="139.60" width="32.70" height="1.30" fill="#edb5a5" opacity="0.9"/>
<rect x="135.00" y="140.90" width="32.70" height="0.60" fill="#f5bdad" opacity="0.9"/>
<rect x="135.00" y="141.50" width="32.70" height="1.30" fill="#f2baaa" opacity="0.9"/>
<rect x="135.00" y="142.80" width="32.70" height="1.30" fill="#f8c0b0" opacity="0.9"/>
<rect x="135.00" y="144.10" width="32.70" height="1.30" fill="#f9c1b1" opacity="0.9"/>
<rect x="135.00" y="145.40" width="32.70" height="1.30" fill="#f1b9a9" opacity="0.9"/>
<rect x="135.00" y="146.70" width="32.70" height="0.60" fill="#ecb4a4" opacity="0.9"/>
<rect x="135.00" y="147.30" width="32.70" height="1.30" fill="#f1b9a9" opacity="0.9"/>
<rect x="135.00" y="148.60" width="32.70" height="1.30" fill="#f3bbab" opacity="0.9"/>
<rect x="135.00" y="149.90" width="32.70" height="0.60" fill="#ebb3a3" opacity="0.9"/>
<rect x="135.00" y="150.50" width="32.70" height="0.80" fill="#ebb3a3" opacity="0.9"/>
<rect x="135.00" y="151.30" width="32.70" height="1.00" fill="#f8c0b0" opacity="0.9"/>
<rect x="135.00" y="152.30" width="32.70" height="0.60" fill="#ebb3a3" opacity="0.9"/>
<rect x="135.00" y="152.90" width="32.70" height="1.30" fill="#f6beae" opacity="0.9"/>
<rect x="135.00" y="154.20" width="32.70" height="0.80" fill="#eab2a2" opacity="0.9"/>
<rect x="135.00" y="155.00" width="32.70" height="0.60" fill="#fcc4b4" opacity="0.9"/>
<rect x="135.00" y="155.60" width="32.70" height="0.60" fill="#edb5a5" opacity="0.9"/>
<rect x="135.00" y="156.20" width="32.70" height="1.30" fill="#efb7a7" opacity="0.9"/>
<rect x="135.00" y="157.50" width="32.70" height="0.80" fill="#f6beae" opacity="0.9"/>
<rect x="135.00" y="158.30" width="32.70" height="0.80" fill="#ebb3a3" opacity="0.9"/>
<rect x="135.00" y="159.10" width="32.70" height="1.00" fill="#f5bdad" opacity="0.9"/>
<rect x="135.00" y="160.10" width="32.70" height="1.00" fill="#edb5a5" opacity="0.9"/>
<rect x="135.00" y="161.10" width="32.70" height="1.00" fill="#fac2b2" opacity="0.9"/>
<rect x="135.00" y="162.10" width="32.70" height="1.30" fill="#edb5a5" opacity="0.9"/>
<rect x="135.00" y="163.40" width="32.70" height="1.30" fill="#eeb6a6" opacity="0.9"/>
<rect x="135.00" y="164.70" width="32.70" height="1.00" fill="#f5bdad" opacity="0.9"/>
<rect x="135.00" y="165.70" width="32.70" height="0.80" fill="#f0b8a8" opacity="0.9"/>
<rect x="135.00" y="166.50" width="32.70" height="0.60" fill="#eeb6a6" opacity="0.9"/>
<rect x="135.00" y="167.10" width="32.70" height="1.30" fill="#edb5a5" opacity="0.9"/>
<rect x="135.00" y="168.40" width="32.70" height="1.00" fill="#f6beae" opacity="0.9"/>
<rect x="135.00" y="169.40" width="32.70" height="1.30" fill="#edb5a5" opacity="0.9"/>
<rect x="135.00" y="170.70" width="32.70" height="1.00" fill="#ecb4a4" opacity="0.9"/>
<rect x="135.00" y="171.70" width="32.70" height="0.60" fill="#f5bdad" opacity="0.9"/>
<rect x="135.00" y="172.30" width="32.70" height="1.00" fill="#fbc3b3" opacity="0.9"/>
<rect x="135.00" y="173.30" width="32.70" height="1.30" fill="#f4bcac" opacity="0.9"/>
<rect x="135.00" y="174.60" width="32.70" height="0.60" fill="#efb7a7" opacity="0.9"/>
<rect x="135.00" y="175.20" width="32.70" height="1.30" fill="#f7bfaf" opacity="0.9"/>
<rect x="135.00" y="176.50" width="32.70" height="1.00" fill="#efb7a7" opacity="0.9"/>
<line x1="37" y1="47.3" x2="167.7" y2="47.3" stroke="#b8b4c0" stroke-width="0.6"/>
<rect x="168.80" y="47.50" width="168.70" height="21.00" fill="#e8f1fa"/>
<rect x="168.80" y="70.80" width="168.70" height="46.00" fill="#f8e7e3"/>
<rect x="168.80" y="119.00" width="168.70" height="18.50" fill="#e8f1fa"/>
<rect x="168.80" y="139.60" width="168.70" height="38.10" fill="#f8e7e3"/>
<defs><linearGradient id="cbar" x1="0" x2="1" y1="0" y2="0"><stop offset="0" stop-color="#3a4cae"/><stop offset="0.25" stop-color="#8a84c8"/><stop offset="0.5" stop-color="#f4eef2"/><stop offset="0.75" stop-color="#f0a08a"/><stop offset="1" stop-color="#d8221c"/></linearGradient></defs>
<rect x="36.00" y="181.60" width="47.60" height="3.80" fill="url(#cbar)"/>
<text x="33.8" y="193.2" font-size="6.5" fill="#333" textLength="11" lengthAdjust="spacingAndGlyphs">Min</text>
<text x="76" y="193.2" font-size="6.5" fill="#333" textLength="11.8" lengthAdjust="spacingAndGlyphs">Max</text>
<text x="170.8" y="57.3" font-size="6.4" fill="#2a2c36" transform="translate(170.8 57.3) skewX(-5) translate(-170.8 -57.3)">CTSA</text>
<text x="170.8" y="64.2" font-size="6.4" fill="#2a2c36" transform="translate(170.8 64.2) skewX(-5) translate(-170.8 -64.2)">SMPD1</text>
<text x="196.7" y="60.5" font-size="6.3" fill="#333">Lysosome</text>
<text x="307" y="60.5" font-size="6.3" fill="#333">1.862e-9</text>
<text x="170.8" y="78.6" font-size="6.4" fill="#2a2c36" transform="translate(170.8 78.6) skewX(-5) translate(-170.8 -78.6)">CD14</text>
<text x="196.7" y="78.3" font-size="6.3" fill="#333">CD14 Positive Monocyte</text>
<text x="307" y="78.3" font-size="6.3" fill="#333">6.094e-55</text>
<text x="170.8" y="87.64999999999999" font-size="6.4" fill="#2a2c36" transform="translate(170.8 87.64999999999999) skewX(-5) translate(-170.8 -87.64999999999999)">CD86</text>
<text x="196.7" y="87.35" font-size="6.3" fill="#333">CD33 Positive Myeloid</text>
<text x="307" y="87.35" font-size="6.3" fill="#333">9.956e-47</text>
<text x="170.8" y="96.7" font-size="6.4" fill="#2a2c36" transform="translate(170.8 96.7) skewX(-5) translate(-170.8 -96.7)">FGR</text>
<text x="196.7" y="96.4" font-size="6.3" fill="#333">Regulation of Inflammatory Response</text>
<text x="307" y="96.4" font-size="6.3" fill="#333">2.308e-12</text>
<text x="170.8" y="105.75" font-size="6.4" fill="#2a2c36" transform="translate(170.8 105.75) skewX(-5) translate(-170.8 -105.75)">TLR8</text>
<text x="196.7" y="105.45" font-size="6.3" fill="#333">Hematopoietic cell lineage</text>
<text x="307" y="105.45" font-size="6.3" fill="#333">3.595e-8</text>
<text x="170.8" y="114.8" font-size="6.4" fill="#2a2c36" transform="translate(170.8 114.8) skewX(-5) translate(-170.8 -114.8)">ITGAM</text>
<text x="196.7" y="114.5" font-size="6.3" fill="#333">Increased Monocyte Cell number</text>
<text x="307" y="114.5" font-size="6.3" fill="#333">5.908e-5</text>
<text x="170.8" y="124.7" font-size="6.4" fill="#3ea3d8" transform="translate(170.8 124.7) skewX(-5) translate(-170.8 -124.7)">MEIS1</text>
<text x="170.8" y="130.7" font-size="6.4" fill="#3ea3d8" transform="translate(170.8 130.7) skewX(-5) translate(-170.8 -130.7)">PBX3</text>
<text x="170.8" y="136.7" font-size="6.4" fill="#3ea3d8" transform="translate(170.8 136.7) skewX(-5) translate(-170.8 -136.7)">MEF2C</text>
<text x="196.7" y="126.8" font-size="6.3" fill="#333">KMT2A Fusion Target Genes</text>
<text x="307" y="126.8" font-size="6.3" fill="#333">4.557e-11</text>
<text x="196.7" y="135.8" font-size="6.3" fill="#333">MLL-AF6-Spreading Target Genes</text>
<text x="307" y="135.8" font-size="6.3" fill="#333">1.715e-7</text>
<text x="170.8" y="154.9" font-size="6.4" fill="#c8203e" transform="translate(170.8 154.9) skewX(-5) translate(-170.8 -154.9)">MYC</text>
<text x="170.8" y="161.3" font-size="6.4" fill="#c8203e" transform="translate(170.8 161.3) skewX(-5) translate(-170.8 -161.3)">LRP5</text>
<text x="170.8" y="168.1" font-size="6.4" fill="#c8203e" transform="translate(170.8 168.1) skewX(-5) translate(-170.8 -168.1)">RUNX3</text>
<text x="196.7" y="157.6" font-size="6.3" fill="#333">Ribosome Biogenesis</text>
<text x="307" y="157.6" font-size="6.3" fill="#333">1.030e-16</text>
<text x="196.7" y="166.8" font-size="6.3" fill="#333">Myc Targets V2</text>
<text x="307" y="166.8" font-size="6.3" fill="#333">2.745e-14</text>
<text x="347.8" y="16.5" font-size="10.5" fill="#111" font-weight="bold">B</text>
<text x="387" y="31" font-size="8.0" fill="#222" font-style="italic">PBX3</text>
<line x1="379.9" y1="36.4" x2="379.9" y2="83.2" stroke="#333" stroke-width="1.1"/>
<line x1="379.4" y1="83.2" x2="414.2" y2="83.2" stroke="#333" stroke-width="1.1"/>
<line x1="377.4" y1="83.2" x2="379.9" y2="83.2" stroke="#333" stroke-width="0.8"/>
<text x="374.29999999999995" y="85.4" font-size="6.3" fill="#333" text-anchor="end">0</text>
<line x1="377.4" y1="74.34" x2="379.9" y2="74.34" stroke="#333" stroke-width="0.8"/>
<text x="374.29999999999995" y="76.54" font-size="6.3" fill="#333" text-anchor="end">500</text>
<line x1="377.4" y1="65.48" x2="379.9" y2="65.48" stroke="#333" stroke-width="0.8"/>
<text x="374.29999999999995" y="67.68" font-size="6.3" fill="#333" text-anchor="end">1000</text>
<line x1="377.4" y1="56.62" x2="379.9" y2="56.62" stroke="#333" stroke-width="0.8"/>
<text x="374.29999999999995" y="58.82" font-size="6.3" fill="#333" text-anchor="end">1500</text>
<line x1="377.4" y1="47.76" x2="379.9" y2="47.76" stroke="#333" stroke-width="0.8"/>
<text x="374.29999999999995" y="49.96" font-size="6.3" fill="#333" text-anchor="end">2000</text>
<line x1="377.4" y1="38.9" x2="379.9" y2="38.9" stroke="#333" stroke-width="0.8"/>
<text x="374.29999999999995" y="41.1" font-size="6.3" fill="#333" text-anchor="end">2500</text>
<rect x="381.70" y="47.76" width="2.40" height="35.44" fill="#8b8d9c"/>
<circle cx="382.90" cy="48.16" r="1.25" fill="#444"/>
<rect x="386.50" y="77.35" width="1.60" height="5.85" fill="#bfe3f2"/>
<circle cx="387.30" cy="77.35" r="1.5" fill="#35a6d6"/>
<line x1="384.9" y1="83.2" x2="384.9" y2="85.4" stroke="#333" stroke-width="0.8"/>
<rect x="393.30" y="60.16" width="2.40" height="23.04" fill="#8b8d9c"/>
<circle cx="394.50" cy="60.56" r="1.25" fill="#444"/>
<rect x="398.10" y="78.77" width="1.60" height="4.43" fill="#bfe3f2"/>
<circle cx="398.90" cy="78.77" r="1.5" fill="#35a6d6"/>
<line x1="396.5" y1="83.2" x2="396.5" y2="85.4" stroke="#333" stroke-width="0.8"/>
<rect x="405.70" y="48.65" width="2.40" height="34.55" fill="#8b8d9c"/>
<circle cx="406.90" cy="49.05" r="1.25" fill="#444"/>
<rect x="410.50" y="78.59" width="1.60" height="4.61" fill="#bfe3f2"/>
<circle cx="411.30" cy="78.59" r="1.5" fill="#35a6d6"/>
<line x1="408.9" y1="83.2" x2="408.9" y2="85.4" stroke="#333" stroke-width="0.8"/>
<text x="353.6" y="59.9" font-size="7.0" fill="#333" text-anchor="middle" textLength="53.8" lengthAdjust="spacingAndGlyphs" transform="rotate(-90 353.6 59.9)" stroke="#333" stroke-width="0.1">Normalized counts</text>
<text x="389.09999999999997" y="90.60000000000001" font-size="6.2" fill="#333" text-anchor="end" transform="rotate(-48 389.09999999999997 90.60000000000001)">sg<tspan font-style="italic">Luc</tspan></text>
<text x="400.7" y="90.60000000000001" font-size="6.2" fill="#333" text-anchor="end" transform="rotate(-48 400.7 90.60000000000001)">sgPCGF1</text>
<text x="413.09999999999997" y="90.60000000000001" font-size="6.2" fill="#333" text-anchor="end" transform="rotate(-48 413.09999999999997 90.60000000000001)">sgBCOR</text>
<text x="452.3" y="30.5" font-size="8.0" fill="#222" font-style="italic">MEIS1</text>
<line x1="446.4" y1="36.4" x2="446.4" y2="83.2" stroke="#333" stroke-width="1.1"/>
<line x1="445.9" y1="83.2" x2="481" y2="83.2" stroke="#333" stroke-width="1.1"/>
<line x1="443.9" y1="83.2" x2="446.4" y2="83.2" stroke="#333" stroke-width="0.8"/>
<text x="440.79999999999995" y="85.4" font-size="6.3" fill="#333" text-anchor="end">0</text>
<line x1="443.9" y1="72.0" x2="446.4" y2="72.0" stroke="#333" stroke-width="0.8"/>
<text x="440.79999999999995" y="74.2" font-size="6.3" fill="#333" text-anchor="end">100</text>
<line x1="443.9" y1="60.8" x2="446.4" y2="60.8" stroke="#333" stroke-width="0.8"/>
<text x="440.79999999999995" y="63.0" font-size="6.3" fill="#333" text-anchor="end">200</text>
<line x1="443.9" y1="49.6" x2="446.4" y2="49.6" stroke="#333" stroke-width="0.8"/>
<text x="440.79999999999995" y="51.800000000000004" font-size="6.3" fill="#333" text-anchor="end">300</text>
<line x1="443.9" y1="38.4" x2="446.4" y2="38.4" stroke="#333" stroke-width="0.8"/>
<text x="440.79999999999995" y="40.6" font-size="6.3" fill="#333" text-anchor="end">400</text>
<rect x="448.20" y="49.04" width="2.40" height="34.16" fill="#8b8d9c"/>
<circle cx="449.40" cy="49.44" r="1.25" fill="#444"/>
<rect x="453.00" y="82.98" width="1.60" height="0.22" fill="#bfe3f2"/>
<circle cx="453.80" cy="82.98" r="1.5" fill="#35a6d6"/>
<line x1="451.4" y1="83.2" x2="451.4" y2="85.4" stroke="#333" stroke-width="0.8"/>
<rect x="459.80" y="53.52" width="2.40" height="29.68" fill="#8b8d9c"/>
<circle cx="461.00" cy="53.92" r="1.25" fill="#444"/>
<rect x="464.60" y="80.96" width="1.60" height="2.24" fill="#bfe3f2"/>
<circle cx="465.40" cy="80.96" r="1.5" fill="#35a6d6"/>
<line x1="463.0" y1="83.2" x2="463.0" y2="85.4" stroke="#333" stroke-width="0.8"/>
<rect x="472.20" y="48.48" width="2.40" height="34.72" fill="#8b8d9c"/>
<circle cx="473.40" cy="48.88" r="1.25" fill="#444"/>
<rect x="477.00" y="82.98" width="1.60" height="0.22" fill="#bfe3f2"/>
<circle cx="477.80" cy="82.98" r="1.5" fill="#35a6d6"/>
<line x1="475.4" y1="83.2" x2="475.4" y2="85.4" stroke="#333" stroke-width="0.8"/>
<text x="424.0" y="59.9" font-size="7.0" fill="#333" text-anchor="middle" textLength="53.8" lengthAdjust="spacingAndGlyphs" transform="rotate(-90 424.0 59.9)" stroke="#333" stroke-width="0.1">Normalized counts</text>
<text x="455.59999999999997" y="90.60000000000001" font-size="6.2" fill="#333" text-anchor="end" transform="rotate(-48 455.59999999999997 90.60000000000001)">sg<tspan font-style="italic">Luc</tspan></text>
<text x="467.2" y="90.60000000000001" font-size="6.2" fill="#333" text-anchor="end" transform="rotate(-48 467.2 90.60000000000001)">sgPCGF1</text>
<text x="479.59999999999997" y="90.60000000000001" font-size="6.2" fill="#333" text-anchor="end" transform="rotate(-48 479.59999999999997 90.60000000000001)">sgBCOR</text>
<text x="383.4" y="122.2" font-size="8.0" fill="#222" font-style="italic">MEF2C</text>
<line x1="379.9" y1="127.2" x2="379.9" y2="174.6" stroke="#333" stroke-width="1.1"/>
<line x1="379.4" y1="174.6" x2="414.2" y2="174.6" stroke="#333" stroke-width="1.1"/>
<line x1="377.4" y1="174.6" x2="379.9" y2="174.6" stroke="#333" stroke-width="0.8"/>
<text x="374.29999999999995" y="176.79999999999998" font-size="6.3" fill="#333" text-anchor="end">0</text>
<line x1="377.4" y1="159.66666666666666" x2="379.9" y2="159.66666666666666" stroke="#333" stroke-width="0.8"/>
<text x="374.29999999999995" y="161.86666666666665" font-size="6.3" fill="#333" text-anchor="end">2000</text>
<line x1="377.4" y1="144.73333333333335" x2="379.9" y2="144.73333333333335" stroke="#333" stroke-width="0.8"/>
<text x="374.29999999999995" y="146.93333333333334" font-size="6.3" fill="#333" text-anchor="end">4000</text>
<line x1="377.4" y1="129.8" x2="379.9" y2="129.8" stroke="#333" stroke-width="0.8"/>
<text x="374.29999999999995" y="132.0" font-size="6.3" fill="#333" text-anchor="end">6000</text>
<rect x="381.70" y="137.64" width="2.40" height="36.96" fill="#8b8d9c"/>
<circle cx="382.90" cy="138.04" r="1.25" fill="#444"/>
<rect x="386.50" y="169.37" width="1.60" height="5.23" fill="#bfe3f2"/>
<circle cx="387.30" cy="169.37" r="1.5" fill="#35a6d6"/>
<line x1="384.9" y1="174.6" x2="384.9" y2="176.79999999999998" stroke="#333" stroke-width="0.8"/>
<rect x="393.30" y="156.31" width="2.40" height="18.29" fill="#8b8d9c"/>
<circle cx="394.50" cy="156.71" r="1.25" fill="#444"/>
<rect x="398.10" y="170.12" width="1.60" height="4.48" fill="#bfe3f2"/>
<circle cx="398.90" cy="170.12" r="1.5" fill="#35a6d6"/>
<line x1="396.5" y1="174.6" x2="396.5" y2="176.79999999999998" stroke="#333" stroke-width="0.8"/>
<rect x="405.70" y="140.25" width="2.40" height="34.35" fill="#8b8d9c"/>
<circle cx="406.90" cy="140.65" r="1.25" fill="#444"/>
<rect x="410.50" y="169.00" width="1.60" height="5.60" fill="#bfe3f2"/>
<circle cx="411.30" cy="169.00" r="1.5" fill="#35a6d6"/>
<line x1="408.9" y1="174.6" x2="408.9" y2="176.79999999999998" stroke="#333" stroke-width="0.8"/>
<text x="353.6" y="151.2" font-size="7.0" fill="#333" text-anchor="middle" textLength="54.8" lengthAdjust="spacingAndGlyphs" transform="rotate(-90 353.6 151.2)" stroke="#333" stroke-width="0.1">Normalized counts</text>
<text x="389.09999999999997" y="182.0" font-size="6.2" fill="#333" text-anchor="end" transform="rotate(-48 389.09999999999997 182.0)">sg<tspan font-style="italic">Luc</tspan></text>
<text x="400.7" y="182.0" font-size="6.2" fill="#333" text-anchor="end" transform="rotate(-48 400.7 182.0)">sgPCGF1</text>
<text x="413.09999999999997" y="182.0" font-size="6.2" fill="#333" text-anchor="end" transform="rotate(-48 413.09999999999997 182.0)">sgBCOR</text>
<circle cx="357.30" cy="208.50" r="1.2" fill="#999"/>
<text x="361" y="211" font-size="6.3" fill="#333" textLength="19.4" lengthAdjust="spacingAndGlyphs">DMSO</text>
<circle cx="384.80" cy="208.50" r="1.2" fill="#7cc8e6"/>
<text x="388" y="211" font-size="6.3" fill="#333" textLength="29" lengthAdjust="spacingAndGlyphs">VTP50469</text>
<text x="426.8" y="123.8" font-size="10.5" fill="#111" font-weight="bold">C</text>
<line x1="454.2" y1="132" x2="454.2" y2="194.1" stroke="#222" stroke-width="1.1"/>
<line x1="454.2" y1="194.1" x2="510.5" y2="194.1" stroke="#222" stroke-width="1.1"/>
<line x1="451.9" y1="190.5" x2="454.2" y2="190.5" stroke="#222" stroke-width="0.8"/>
<text x="451.0" y="192.9" font-size="6.8" fill="#333" text-anchor="end">0</text>
<line x1="451.9" y1="176.25" x2="454.2" y2="176.25" stroke="#222" stroke-width="0.8"/>
<text x="451.0" y="178.65" font-size="6.8" fill="#333" text-anchor="end">5</text>
<line x1="451.9" y1="162.0" x2="454.2" y2="162.0" stroke="#222" stroke-width="0.8"/>
<text x="451.0" y="164.4" font-size="6.8" fill="#333" text-anchor="end">10</text>
<line x1="451.9" y1="147.75" x2="454.2" y2="147.75" stroke="#222" stroke-width="0.8"/>
<text x="451.0" y="150.15" font-size="6.8" fill="#333" text-anchor="end">15</text>
<line x1="451.9" y1="133.5" x2="454.2" y2="133.5" stroke="#222" stroke-width="0.8"/>
<text x="451.0" y="135.9" font-size="6.8" fill="#333" text-anchor="end">20</text>
<line x1="459.7" y1="194.1" x2="459.7" y2="196.29999999999998" stroke="#222" stroke-width="0.8"/>
<text x="461.9" y="199.29999999999998" font-size="6.5" fill="#333" text-anchor="end" transform="rotate(-45 461.9 199.29999999999998)">0</text>
<line x1="471.65" y1="194.1" x2="471.65" y2="196.29999999999998" stroke="#222" stroke-width="0.8"/>
<text x="473.84999999999997" y="199.29999999999998" font-size="6.5" fill="#333" text-anchor="end" transform="rotate(-45 473.84999999999997 199.29999999999998)">200</text>
<line x1="483.59999999999997" y1="194.1" x2="483.59999999999997" y2="196.29999999999998" stroke="#222" stroke-width="0.8"/>
<text x="485.79999999999995" y="199.29999999999998" font-size="6.5" fill="#333" text-anchor="end" transform="rotate(-45 485.79999999999995 199.29999999999998)">400</text>
<line x1="495.54999999999995" y1="194.1" x2="495.54999999999995" y2="196.29999999999998" stroke="#222" stroke-width="0.8"/>
<text x="497.74999999999994" y="199.29999999999998" font-size="6.5" fill="#333" text-anchor="end" transform="rotate(-45 497.74999999999994 199.29999999999998)">600</text>
<line x1="507.5" y1="194.1" x2="507.5" y2="196.29999999999998" stroke="#222" stroke-width="0.8"/>
<text x="509.7" y="199.29999999999998" font-size="6.5" fill="#333" text-anchor="end" transform="rotate(-45 509.7 199.29999999999998)">800</text>
<text x="432.6" y="163.4" font-size="8.0" fill="#333" text-anchor="middle" textLength="48" lengthAdjust="spacingAndGlyphs" transform="rotate(-90 432.6 163.4)" stroke="#333" stroke-width="0.1">-log<tspan font-size="5.8" dy="1.6">10</tspan><tspan dy="-1.6"> (</tspan><tspan font-style="italic">P</tspan> value)</text>
<text x="481.9" y="220.2" font-size="8.0" fill="#333" text-anchor="middle" textLength="14.8" lengthAdjust="spacingAndGlyphs" stroke="#333" stroke-width="0.1">Rank</text>
<line x1="459.9" y1="136.635" x2="488.5" y2="133.3" stroke="#d42a45" stroke-width="0.7"/>
<circle cx="459.90" cy="136.63" r="0.7" fill="#6b1a3a"/>
<text x="488.8" y="135.20000000000002" font-size="5.4" fill="#d8405a">MYC</text>
<line x1="459.9" y1="142.05" x2="488.5" y2="137.72" stroke="#d42a45" stroke-width="0.7"/>
<circle cx="459.90" cy="142.05" r="0.7" fill="#6b1a3a"/>
<text x="488.8" y="139.62" font-size="5.4" fill="#d8405a">MBD3</text>
<line x1="459.9" y1="147.75" x2="488.5" y2="142.14000000000001" stroke="#d42a45" stroke-width="0.7"/>
<circle cx="459.90" cy="147.75" r="0.7" fill="#6b1a3a"/>
<text x="488.8" y="144.04000000000002" font-size="5.4" fill="#d8405a">KDM2B</text>
<line x1="459.9" y1="150.315" x2="488.5" y2="146.56" stroke="#d42a45" stroke-width="0.7"/>
<circle cx="459.90" cy="150.31" r="0.7" fill="#6b1a3a"/>
<text x="488.8" y="148.46" font-size="5.4" fill="#d8405a">SUZ12</text>
<line x1="459.9" y1="153.735" x2="488.5" y2="150.98000000000002" stroke="#d42a45" stroke-width="0.7"/>
<circle cx="459.90" cy="153.74" r="0.7" fill="#6b1a3a"/>
<text x="488.8" y="152.88000000000002" font-size="5.4" fill="#d8405a">MYC</text>
<line x1="459.9" y1="158.295" x2="488.5" y2="155.4" stroke="#d42a45" stroke-width="0.7"/>
<circle cx="459.90" cy="158.29" r="0.7" fill="#6b1a3a"/>
<text x="488.8" y="157.3" font-size="5.4" fill="#d8405a">MYC</text>
<line x1="459.9" y1="162.0" x2="488.5" y2="159.82000000000002" stroke="#d42a45" stroke-width="0.7"/>
<circle cx="459.90" cy="162.00" r="0.7" fill="#6b1a3a"/>
<text x="488.8" y="161.72000000000003" font-size="5.4" fill="#d8405a">MTF2</text>
<line x1="459.9" y1="164.565" x2="488.5" y2="164.24" stroke="#d42a45" stroke-width="0.7"/>
<circle cx="459.90" cy="164.56" r="0.7" fill="#6b1a3a"/>
<text x="488.8" y="166.14000000000001" font-size="5.4" fill="#d8405a">KDM2B</text>
<line x1="459.9" y1="164.85" x2="488.5" y2="168.66000000000003" stroke="#d42a45" stroke-width="0.7"/>
<circle cx="459.90" cy="164.85" r="0.7" fill="#6b1a3a"/>
<text x="488.8" y="170.56000000000003" font-size="5.4" fill="#d8405a">CDK2</text>
<line x1="459.9" y1="165.135" x2="488.5" y2="173.08" stroke="#d42a45" stroke-width="0.7"/>
<circle cx="459.90" cy="165.13" r="0.7" fill="#6b1a3a"/>
<text x="488.8" y="174.98000000000002" font-size="5.4" fill="#d8405a">MYC</text>
<line x1="459.9" y1="165.42" x2="488.5" y2="177.5" stroke="#d42a45" stroke-width="0.7"/>
<circle cx="459.90" cy="165.42" r="0.7" fill="#6b1a3a"/>
<text x="488.8" y="179.4" font-size="5.4" fill="#d8405a">MYCN</text>
<line x1="459.9" y1="165.705" x2="488.5" y2="181.92000000000002" stroke="#d42a45" stroke-width="0.7"/>
<circle cx="459.90" cy="165.71" r="0.7" fill="#6b1a3a"/>
<text x="488.8" y="183.82000000000002" font-size="5.4" fill="#d8405a">RING1B</text>
<line x1="459.9" y1="165.99" x2="488.5" y2="186.34" stroke="#d42a45" stroke-width="0.7"/>
<circle cx="459.90" cy="165.99" r="0.7" fill="#6b1a3a"/>
<text x="488.8" y="188.24" font-size="5.4" fill="#d8405a">KDM2B</text>
<path d="M459.70,164.85 L460.14,168.03 L460.58,170.58 L461.03,172.65 L461.47,174.33 L461.91,175.70 L462.35,176.84 L462.80,177.79 L463.24,178.60 L463.68,179.28 L464.12,179.87 L464.56,180.39 L465.01,180.84 L465.45,181.25 L465.89,181.62 L466.33,181.96 L466.77,182.27 L467.22,182.55 L467.66,182.82 L468.10,183.07 L468.54,183.31 L468.99,183.54 L469.43,183.76 L469.87,183.96 L470.31,184.16 L470.75,184.35 L471.20,184.54 L471.64,184.72 L472.08,184.89 L472.52,185.05 L472.96,185.21 L473.41,185.37 L473.85,185.52 L474.29,185.67 L474.73,185.81 L475.18,185.95 L475.62,186.08 L476.06,186.21 L476.50,186.33 L476.94,186.46 L477.39,186.57 L477.83,186.69 L478.27,186.80 L478.71,186.91 L479.15,187.01 L479.60,187.11 L480.04,187.21 L480.48,187.31 L480.92,187.40 L481.37,187.49 L481.81,187.58 L482.25,187.67 L482.69,187.75 L483.13,187.83 L483.58,187.91 L484.02,187.98 L484.46,188.06 L484.90,188.13 L485.34,188.20 L485.79,188.26 L486.23,188.33 L486.67,188.39 L487.11,188.45 L487.56,188.51 L488.00,188.57 L488.44,188.63 L488.88,188.68 L489.32,188.73 L489.77,188.79 L490.21,188.84 L490.65,188.88 L491.09,188.93 L491.53,188.98 L491.98,189.02 L492.42,189.07 L492.86,189.11 L493.30,189.15 L493.75,189.19 L494.19,189.23 L494.63,189.26 L495.07,189.30 L495.51,189.33 L495.96,189.37 L496.40,189.40 L496.84,189.43 L497.28,189.46 L497.72,189.49 L498.17,189.52 L498.61,189.55 L499.05,189.58 L499.49,189.61 L499.94,189.63 L500.38,189.66 L500.82,189.68 L501.26,189.71 L501.70,189.73 L502.15,189.75 L502.59,189.77 L503.03,189.79 L503.47,189.82 L503.91,189.84" fill="none" stroke="#2e1746" stroke-width="1.8"/>
<text x="8.7" y="240.6" font-size="10.5" fill="#111" font-weight="bold">D</text>
<text x="61" y="250.2" font-size="6.5" fill="#333" text-anchor="middle" textLength="18" lengthAdjust="spacingAndGlyphs">Menin</text>
<text x="124" y="250.2" font-size="6.5" fill="#333" text-anchor="middle" textLength="36" lengthAdjust="spacingAndGlyphs">H2AK119ub</text>
<path d="M30.3,257 L30.3,254.8 L92.4,254.8 L92.4,257" fill="none" stroke="#555" stroke-width="0.6"/>
<path d="M94.2,257 L94.2,254.8 L155.5,254.8 L155.5,257" fill="none" stroke="#555" stroke-width="0.6"/>
<text x="34.6" y="265.6" font-size="6.6" fill="#222" textLength="19.1" lengthAdjust="spacingAndGlyphs">DMSO</text>
<text x="61.6" y="265.6" font-size="6.6" fill="#222" textLength="28.4" lengthAdjust="spacingAndGlyphs">VTP50469</text>
<text x="99.7" y="265.6" font-size="6.6" fill="#222" textLength="18.0" lengthAdjust="spacingAndGlyphs">DMSO</text>
<text x="126.6" y="265.6" font-size="6.6" fill="#222" textLength="28.599999999999994" lengthAdjust="spacingAndGlyphs">VTP50469</text>
<line x1="30" y1="267.6" x2="59.5" y2="267.6" stroke="#666" stroke-width="0.6"/>
<line x1="62" y1="267.6" x2="92.4" y2="267.6" stroke="#666" stroke-width="0.6"/>
<line x1="94" y1="267.6" x2="124.2" y2="267.6" stroke="#666" stroke-width="0.6"/>
<line x1="125.5" y1="267.6" x2="156" y2="267.6" stroke="#666" stroke-width="0.6"/>
<rect x="29.60" y="270.30" width="14.60" height="2.90" fill="#27344e"/>
<rect x="45.50" y="270.30" width="15.20" height="2.90" fill="#e8931c"/>
<rect x="61.70" y="270.30" width="14.20" height="2.90" fill="#27344e"/>
<rect x="77.50" y="270.30" width="15.00" height="2.90" fill="#e8931c"/>
<rect x="93.80" y="270.30" width="14.20" height="2.90" fill="#27344e"/>
<rect x="109.70" y="270.30" width="13.90" height="2.90" fill="#e8931c"/>
<rect x="125.30" y="270.30" width="14.60" height="2.90" fill="#27344e"/>
<rect x="141.50" y="270.30" width="14.70" height="2.90" fill="#e8931c"/>
<rect x="29.30" y="274.80" width="15.20" height="98.90" fill="#8e979e"/>
<rect x="45.20" y="274.80" width="15.80" height="98.90" fill="#8e979e"/>
<rect x="61.40" y="274.80" width="14.80" height="98.90" fill="#8e979e"/>
<rect x="77.20" y="274.80" width="15.60" height="98.90" fill="#8e979e"/>
<rect x="93.50" y="274.80" width="14.80" height="98.90" fill="#8e979e"/>
<rect x="109.40" y="274.80" width="14.50" height="98.90" fill="#8e979e"/>
<rect x="125.00" y="274.80" width="15.20" height="98.90" fill="#8e979e"/>
<rect x="141.20" y="274.80" width="15.30" height="98.90" fill="#8e979e"/>
<defs><linearGradient id="hg1" x1="0" x2="1" y1="0" y2="0"><stop offset="0" stop-color="#c4dbf0"/><stop offset="0.16" stop-color="#8ab6e0"/><stop offset="0.3" stop-color="#c8dcf1"/><stop offset="0.5" stop-color="#e6f0fa"/><stop offset="0.6" stop-color="#4a8bcb"/><stop offset="0.74" stop-color="#1b5ea9"/><stop offset="0.88" stop-color="#3a7cc2"/><stop offset="1" stop-color="#9cc0e4"/></linearGradient></defs>
<rect x="30.40" y="275.90" width="13.00" height="33.60" fill="url(#hg1)"/>
<defs><linearGradient id="vg2" x1="0" x2="0" y1="0" y2="1"><stop offset="0" stop-color="#000" stop-opacity="0.35"/><stop offset="1" stop-color="#000" stop-opacity="0"/></linearGradient></defs>
<rect x="30.40" y="275.90" width="13.00" height="3.00" fill="url(#vg2)"/>
<defs><linearGradient id="vg3" x1="0" x2="0" y1="0" y2="1"><stop offset="0" stop-color="#fff" stop-opacity="0.0"/><stop offset="1" stop-color="#fff" stop-opacity="0.45"/></linearGradient></defs>
<rect x="30.40" y="275.90" width="13.00" height="33.60" fill="url(#vg3)"/>
<rect x="30.40" y="276.90" width="13.00" height="1.00" fill="#ffffff" opacity="0.036"/>
<rect x="30.40" y="277.90" width="13.00" height="0.70" fill="#ffffff" opacity="0.082"/>
<rect x="30.40" y="278.60" width="13.00" height="0.70" fill="#ffffff" opacity="0.066"/>
<rect x="30.40" y="282.70" width="13.00" height="1.40" fill="#ffffff" opacity="0.040"/>
<rect x="30.40" y="286.50" width="13.00" height="0.70" fill="#ffffff" opacity="0.046"/>
<rect x="30.40" y="287.20" width="13.00" height="1.40" fill="#ffffff" opacity="0.034"/>
<rect x="30.40" y="288.60" width="13.00" height="1.40" fill="#ffffff" opacity="0.037"/>
<rect x="30.40" y="292.00" width="13.00" height="1.40" fill="#ffffff" opacity="0.056"/>
<rect x="30.40" y="293.40" width="13.00" height="1.00" fill="#ffffff" opacity="0.031"/>
<rect x="30.40" y="295.10" width="13.00" height="1.00" fill="#ffffff" opacity="0.075"/>
<rect x="30.40" y="298.50" width="13.00" height="0.70" fill="#ffffff" opacity="0.087"/>
<rect x="30.40" y="303.00" width="13.00" height="0.70" fill="#ffffff" opacity="0.030"/>
<rect x="30.40" y="304.40" width="13.00" height="1.00" fill="#ffffff" opacity="0.041"/>
<rect x="30.40" y="305.40" width="13.00" height="0.70" fill="#ffffff" opacity="0.069"/>
<rect x="30.40" y="306.10" width="13.00" height="0.70" fill="#ffffff" opacity="0.044"/>
<defs><linearGradient id="hg4" x1="0" x2="1" y1="0" y2="0"><stop offset="0" stop-color="#c4dbf0"/><stop offset="0.16" stop-color="#8ab6e0"/><stop offset="0.3" stop-color="#c8dcf1"/><stop offset="0.5" stop-color="#e6f0fa"/><stop offset="0.6" stop-color="#4a8bcb"/><stop offset="0.74" stop-color="#1b5ea9"/><stop offset="0.88" stop-color="#3a7cc2"/><stop offset="1" stop-color="#9cc0e4"/></linearGradient></defs>
<rect x="46.30" y="275.90" width="13.60" height="33.60" fill="url(#hg4)"/>
<defs><linearGradient id="vg5" x1="0" x2="0" y1="0" y2="1"><stop offset="0" stop-color="#000" stop-opacity="0.35"/><stop offset="1" stop-color="#000" stop-opacity="0"/></linearGradient></defs>
<rect x="46.30" y="275.90" width="13.60" height="3.00" fill="url(#vg5)"/>
<defs><linearGradient id="vg6" x1="0" x2="0" y1="0" y2="1"><stop offset="0" stop-color="#fff" stop-opacity="0.0"/><stop offset="1" stop-color="#fff" stop-opacity="0.45"/></linearGradient></defs>
<rect x="46.30" y="275.90" width="13.60" height="33.60" fill="url(#vg6)"/>
<rect x="46.30" y="275.90" width="13.60" height="1.40" fill="#ffffff" opacity="0.052"/>
<rect x="46.30" y="284.20" width="13.60" height="1.00" fill="#ffffff" opacity="0.100"/>
<rect x="46.30" y="285.20" width="13.60" height="1.00" fill="#ffffff" opacity="0.033"/>
<rect x="46.30" y="294.40" width="13.60" height="0.70" fill="#ffffff" opacity="0.066"/>
<rect x="46.30" y="295.10" width="13.60" height="0.70" fill="#ffffff" opacity="0.047"/>
<rect x="46.30" y="295.80" width="13.60" height="1.40" fill="#ffffff" opacity="0.041"/>
<rect x="46.30" y="297.20" width="13.60" height="1.00" fill="#ffffff" opacity="0.057"/>
<rect x="46.30" y="298.20" width="13.60" height="1.40" fill="#ffffff" opacity="0.094"/>
<rect x="46.30" y="305.90" width="13.60" height="1.40" fill="#ffffff" opacity="0.092"/>
<rect x="46.30" y="307.30" width="13.60" height="0.70" fill="#ffffff" opacity="0.071"/>
<defs><linearGradient id="hg7" x1="0" x2="1" y1="0" y2="0"><stop offset="0" stop-color="#cfe1f3"/><stop offset="0.3" stop-color="#c6dcf1"/><stop offset="0.5" stop-color="#e0ecf8"/><stop offset="0.7" stop-color="#bcd5ee"/><stop offset="1" stop-color="#cfe1f3"/></linearGradient></defs>
<rect x="62.50" y="275.90" width="12.60" height="33.60" fill="url(#hg7)"/>
<defs><linearGradient id="vg8" x1="0" x2="0" y1="0" y2="1"><stop offset="0" stop-color="#fff" stop-opacity="0.0"/><stop offset="1" stop-color="#fff" stop-opacity="0.15"/></linearGradient></defs>
<rect x="62.50" y="275.90" width="12.60" height="33.60" fill="url(#vg8)"/>
<rect x="62.50" y="275.90" width="12.60" height="0.70" fill="#ffffff" opacity="0.038"/>
<rect x="62.50" y="279.00" width="12.60" height="1.40" fill="#ffffff" opacity="0.033"/>
<rect x="62.50" y="282.50" width="12.60" height="1.40" fill="#ffffff" opacity="0.090"/>
<rect x="62.50" y="283.90" width="12.60" height="1.00" fill="#ffffff" opacity="0.097"/>
<rect x="62.50" y="288.40" width="12.60" height="0.70" fill="#ffffff" opacity="0.044"/>
<rect x="62.50" y="289.10" width="12.60" height="0.70" fill="#ffffff" opacity="0.089"/>
<rect x="62.50" y="289.80" width="12.60" height="1.40" fill="#ffffff" opacity="0.083"/>
<rect x="62.50" y="291.20" width="12.60" height="1.40" fill="#ffffff" opacity="0.037"/>
<rect x="62.50" y="293.30" width="12.60" height="1.40" fill="#ffffff" opacity="0.052"/>
<rect x="62.50" y="294.70" width="12.60" height="1.00" fill="#ffffff" opacity="0.055"/>
<rect x="62.50" y="295.70" width="12.60" height="1.00" fill="#ffffff" opacity="0.083"/>
<rect x="62.50" y="301.50" width="12.60" height="0.70" fill="#ffffff" opacity="0.079"/>
<rect x="62.50" y="305.70" width="12.60" height="1.00" fill="#ffffff" opacity="0.030"/>
<rect x="62.50" y="306.70" width="12.60" height="0.70" fill="#ffffff" opacity="0.083"/>
<rect x="62.50" y="307.40" width="12.60" height="0.70" fill="#ffffff" opacity="0.064"/>
<defs><linearGradient id="hg9" x1="0" x2="1" y1="0" y2="0"><stop offset="0" stop-color="#cfe1f3"/><stop offset="0.3" stop-color="#c6dcf1"/><stop offset="0.5" stop-color="#e0ecf8"/><stop offset="0.7" stop-color="#bcd5ee"/><stop offset="1" stop-color="#cfe1f3"/></linearGradient></defs>
<rect x="78.30" y="275.90" width="13.40" height="33.60" fill="url(#hg9)"/>
<defs><linearGradient id="vg10" x1="0" x2="0" y1="0" y2="1"><stop offset="0" stop-color="#fff" stop-opacity="0.0"/><stop offset="1" stop-color="#fff" stop-opacity="0.15"/></linearGradient></defs>
<rect x="78.30" y="275.90" width="13.40" height="33.60" fill="url(#vg10)"/>
<rect x="78.30" y="276.60" width="13.40" height="1.40" fill="#ffffff" opacity="0.088"/>
<rect x="78.30" y="279.00" width="13.40" height="0.70" fill="#ffffff" opacity="0.045"/>
<rect x="78.30" y="279.70" width="13.40" height="1.40" fill="#ffffff" opacity="0.042"/>
<rect x="78.30" y="285.60" width="13.40" height="1.00" fill="#ffffff" opacity="0.095"/>
<rect x="78.30" y="286.60" width="13.40" height="1.40" fill="#ffffff" opacity="0.092"/>
<rect x="78.30" y="288.00" width="13.40" height="0.70" fill="#ffffff" opacity="0.051"/>
<rect x="78.30" y="289.70" width="13.40" height="1.40" fill="#ffffff" opacity="0.099"/>
<rect x="78.30" y="291.10" width="13.40" height="1.40" fill="#ffffff" opacity="0.062"/>
<rect x="78.30" y="295.30" width="13.40" height="1.40" fill="#ffffff" opacity="0.071"/>
<rect x="78.30" y="296.70" width="13.40" height="1.40" fill="#ffffff" opacity="0.089"/>
<rect x="78.30" y="299.50" width="13.40" height="1.00" fill="#ffffff" opacity="0.061"/>
<rect x="78.30" y="301.50" width="13.40" height="0.70" fill="#ffffff" opacity="0.075"/>
<rect x="78.30" y="302.20" width="13.40" height="1.40" fill="#ffffff" opacity="0.043"/>
<rect x="78.30" y="304.60" width="13.40" height="1.40" fill="#ffffff" opacity="0.041"/>
<rect x="78.30" y="308.10" width="13.40" height="0.70" fill="#ffffff" opacity="0.097"/>
<defs><linearGradient id="hg11" x1="0" x2="1" y1="0" y2="0"><stop offset="0" stop-color="#fadfd5"/><stop offset="0.35" stop-color="#f8d4c6"/><stop offset="0.5" stop-color="#fcebe4"/><stop offset="0.7" stop-color="#f7cebf"/><stop offset="1" stop-color="#fadfd5"/></linearGradient></defs>
<rect x="94.60" y="275.90" width="12.60" height="33.60" fill="url(#hg11)"/>
<defs><linearGradient id="vg12" x1="0" x2="0" y1="0" y2="1"><stop offset="0" stop-color="#fff" stop-opacity="0.0"/><stop offset="1" stop-color="#fff" stop-opacity="0.15"/></linearGradient></defs>
<rect x="94.60" y="275.90" width="12.60" height="33.60" fill="url(#vg12)"/>
<rect x="94.60" y="278.00" width="12.60" height="0.70" fill="#ffffff" opacity="0.041"/>
<rect x="94.60" y="279.40" width="12.60" height="1.40" fill="#ffffff" opacity="0.049"/>
<rect x="94.60" y="281.50" width="12.60" height="0.70" fill="#ffffff" opacity="0.092"/>
<rect x="94.60" y="282.20" width="12.60" height="1.00" fill="#ffffff" opacity="0.058"/>
<rect x="94.60" y="286.60" width="12.60" height="0.70" fill="#ffffff" opacity="0.082"/>
<rect x="94.60" y="294.90" width="12.60" height="1.40" fill="#ffffff" opacity="0.060"/>
<rect x="94.60" y="300.10" width="12.60" height="0.70" fill="#ffffff" opacity="0.060"/>
<rect x="94.60" y="300.80" width="12.60" height="1.00" fill="#ffffff" opacity="0.090"/>
<rect x="94.60" y="305.90" width="12.60" height="0.70" fill="#ffffff" opacity="0.068"/>
<defs><linearGradient id="hg13" x1="0" x2="1" y1="0" y2="0"><stop offset="0" stop-color="#fadfd5"/><stop offset="0.35" stop-color="#f8d4c6"/><stop offset="0.5" stop-color="#fcebe4"/><stop offset="0.7" stop-color="#f7cebf"/><stop offset="1" stop-color="#fadfd5"/></linearGradient></defs>
<rect x="110.50" y="275.90" width="12.30" height="33.60" fill="url(#hg13)"/>
<defs><linearGradient id="vg14" x1="0" x2="0" y1="0" y2="1"><stop offset="0" stop-color="#fff" stop-opacity="0.0"/><stop offset="1" stop-color="#fff" stop-opacity="0.15"/></linearGradient></defs>
<rect x="110.50" y="275.90" width="12.30" height="33.60" fill="url(#vg14)"/>
<rect x="110.50" y="280.00" width="12.30" height="1.00" fill="#ffffff" opacity="0.078"/>
<rect x="110.50" y="282.70" width="12.30" height="1.40" fill="#ffffff" opacity="0.034"/>
<rect x="110.50" y="284.10" width="12.30" height="1.00" fill="#ffffff" opacity="0.034"/>
<rect x="110.50" y="286.80" width="12.30" height="1.40" fill="#ffffff" opacity="0.049"/>
<rect x="110.50" y="288.20" width="12.30" height="0.70" fill="#ffffff" opacity="0.058"/>
<rect x="110.50" y="291.30" width="12.30" height="0.70" fill="#ffffff" opacity="0.084"/>
<rect x="110.50" y="292.00" width="12.30" height="1.40" fill="#ffffff" opacity="0.075"/>
<rect x="110.50" y="293.40" width="12.30" height="1.40" fill="#ffffff" opacity="0.097"/>
<rect x="110.50" y="297.80" width="12.30" height="1.40" fill="#ffffff" opacity="0.088"/>
<rect x="110.50" y="300.20" width="12.30" height="0.70" fill="#ffffff" opacity="0.056"/>
<rect x="110.50" y="301.90" width="12.30" height="1.40" fill="#ffffff" opacity="0.030"/>
<rect x="110.50" y="304.70" width="12.30" height="1.00" fill="#ffffff" opacity="0.051"/>
<defs><linearGradient id="hg15" x1="0" x2="1" y1="0" y2="0"><stop offset="0" stop-color="#fadfd5"/><stop offset="0.35" stop-color="#f8d4c6"/><stop offset="0.5" stop-color="#fcebe4"/><stop offset="0.7" stop-color="#f7cebf"/><stop offset="1" stop-color="#fadfd5"/></linearGradient></defs>
<rect x="126.10" y="275.90" width="13.00" height="33.60" fill="url(#hg15)"/>
<defs><linearGradient id="vg16" x1="0" x2="0" y1="0" y2="1"><stop offset="0" stop-color="#fff" stop-opacity="0.0"/><stop offset="1" stop-color="#fff" stop-opacity="0.15"/></linearGradient></defs>
<rect x="126.10" y="275.90" width="13.00" height="33.60" fill="url(#vg16)"/>
<rect x="126.10" y="276.60" width="13.00" height="1.00" fill="#ffffff" opacity="0.088"/>
<rect x="126.10" y="281.70" width="13.00" height="1.40" fill="#ffffff" opacity="0.073"/>
<rect x="126.10" y="283.10" width="13.00" height="1.40" fill="#ffffff" opacity="0.046"/>
<rect x="126.10" y="284.50" width="13.00" height="1.00" fill="#ffffff" opacity="0.041"/>
<rect x="126.10" y="290.70" width="13.00" height="1.00" fill="#ffffff" opacity="0.078"/>
<rect x="126.10" y="291.70" width="13.00" height="1.40" fill="#ffffff" opacity="0.089"/>
<rect x="126.10" y="294.50" width="13.00" height="1.40" fill="#ffffff" opacity="0.059"/>
<rect x="126.10" y="296.60" width="13.00" height="1.40" fill="#ffffff" opacity="0.063"/>
<rect x="126.10" y="300.80" width="13.00" height="1.40" fill="#ffffff" opacity="0.089"/>
<rect x="126.10" y="304.20" width="13.00" height="1.00" fill="#ffffff" opacity="0.059"/>
<rect x="126.10" y="305.20" width="13.00" height="1.40" fill="#ffffff" opacity="0.075"/>
<defs><linearGradient id="hg17" x1="0" x2="1" y1="0" y2="0"><stop offset="0" stop-color="#fadfd5"/><stop offset="0.35" stop-color="#f8d4c6"/><stop offset="0.5" stop-color="#fcebe4"/><stop offset="0.7" stop-color="#f7cebf"/><stop offset="1" stop-color="#fadfd5"/></linearGradient></defs>
<rect x="142.30" y="275.90" width="13.10" height="33.60" fill="url(#hg17)"/>
<defs><linearGradient id="vg18" x1="0" x2="0" y1="0" y2="1"><stop offset="0" stop-color="#fff" stop-opacity="0.0"/><stop offset="1" stop-color="#fff" stop-opacity="0.15"/></linearGradient></defs>
<rect x="142.30" y="275.90" width="13.10" height="33.60" fill="url(#vg18)"/>
<rect x="142.30" y="278.60" width="13.10" height="0.70" fill="#ffffff" opacity="0.080"/>
<rect x="142.30" y="279.30" width="13.10" height="1.40" fill="#ffffff" opacity="0.037"/>
<rect x="142.30" y="280.70" width="13.10" height="1.40" fill="#ffffff" opacity="0.063"/>
<rect x="142.30" y="283.50" width="13.10" height="0.70" fill="#ffffff" opacity="0.054"/>
<rect x="142.30" y="285.20" width="13.10" height="1.00" fill="#ffffff" opacity="0.088"/>
<rect x="142.30" y="286.20" width="13.10" height="1.00" fill="#ffffff" opacity="0.099"/>
<rect x="142.30" y="287.20" width="13.10" height="1.40" fill="#ffffff" opacity="0.044"/>
<rect x="142.30" y="289.60" width="13.10" height="1.00" fill="#ffffff" opacity="0.080"/>
<rect x="142.30" y="291.30" width="13.10" height="1.40" fill="#ffffff" opacity="0.100"/>
<rect x="142.30" y="294.70" width="13.10" height="0.70" fill="#ffffff" opacity="0.038"/>
<rect x="142.30" y="295.40" width="13.10" height="0.70" fill="#ffffff" opacity="0.095"/>
<rect x="142.30" y="299.60" width="13.10" height="1.40" fill="#ffffff" opacity="0.077"/>
<rect x="142.30" y="302.40" width="13.10" height="1.40" fill="#ffffff" opacity="0.033"/>
<rect x="142.30" y="305.20" width="13.10" height="0.70" fill="#ffffff" opacity="0.043"/>
<rect x="142.30" y="307.30" width="13.10" height="1.40" fill="#ffffff" opacity="0.091"/>
<defs><linearGradient id="hg19" x1="0" x2="1" y1="0" y2="0"><stop offset="0" stop-color="#c4daf0"/><stop offset="0.2" stop-color="#9cc0e4"/><stop offset="0.42" stop-color="#dbe8f6"/><stop offset="0.6" stop-color="#5a96d2"/><stop offset="0.76" stop-color="#2f74bc"/><stop offset="0.9" stop-color="#5a96d2"/><stop offset="1" stop-color="#a9c9e8"/></linearGradient></defs>
<rect x="30.40" y="312.00" width="13.00" height="16.80" fill="url(#hg19)"/>
<defs><linearGradient id="vg20" x1="0" x2="0" y1="0" y2="1"><stop offset="0" stop-color="#000" stop-opacity="0.35"/><stop offset="1" stop-color="#000" stop-opacity="0"/></linearGradient></defs>
<rect x="30.40" y="312.00" width="13.00" height="3.00" fill="url(#vg20)"/>
<defs><linearGradient id="vg21" x1="0" x2="0" y1="0" y2="1"><stop offset="0" stop-color="#fff" stop-opacity="0.0"/><stop offset="1" stop-color="#fff" stop-opacity="0.55"/></linearGradient></defs>
<rect x="30.40" y="312.00" width="13.00" height="16.80" fill="url(#vg21)"/>
<rect x="30.40" y="313.40" width="13.00" height="1.00" fill="#ffffff" opacity="0.032"/>
<rect x="30.40" y="317.20" width="13.00" height="1.40" fill="#ffffff" opacity="0.038"/>
<rect x="30.40" y="325.10" width="13.00" height="1.40" fill="#ffffff" opacity="0.075"/>
<rect x="30.40" y="327.20" width="13.00" height="1.40" fill="#ffffff" opacity="0.030"/>
<defs><linearGradient id="hg22" x1="0" x2="1" y1="0" y2="0"><stop offset="0" stop-color="#c4daf0"/><stop offset="0.2" stop-color="#9cc0e4"/><stop offset="0.42" stop-color="#dbe8f6"/><stop offset="0.6" stop-color="#5a96d2"/><stop offset="0.76" stop-color="#2f74bc"/><stop offset="0.9" stop-color="#5a96d2"/><stop offset="1" stop-color="#a9c9e8"/></linearGradient></defs>
<rect x="46.30" y="312.00" width="13.60" height="16.80" fill="url(#hg22)"/>
<defs><linearGradient id="vg23" x1="0" x2="0" y1="0" y2="1"><stop offset="0" stop-color="#000" stop-opacity="0.35"/><stop offset="1" stop-color="#000" stop-opacity="0"/></linearGradient></defs>
<rect x="46.30" y="312.00" width="13.60" height="3.00" fill="url(#vg23)"/>
<defs><linearGradient id="vg24" x1="0" x2="0" y1="0" y2="1"><stop offset="0" stop-color="#fff" stop-opacity="0.0"/><stop offset="1" stop-color="#fff" stop-opacity="0.55"/></linearGradient></defs>
<rect x="46.30" y="312.00" width="13.60" height="16.80" fill="url(#vg24)"/>
<rect x="46.30" y="313.40" width="13.60" height="0.70" fill="#ffffff" opacity="0.038"/>
<rect x="46.30" y="314.10" width="13.60" height="1.00" fill="#ffffff" opacity="0.080"/>
<rect x="46.30" y="315.80" width="13.60" height="1.40" fill="#ffffff" opacity="0.034"/>
<rect x="46.30" y="319.30" width="13.60" height="0.70" fill="#ffffff" opacity="0.069"/>
<rect x="46.30" y="322.70" width="13.60" height="0.70" fill="#ffffff" opacity="0.092"/>
<rect x="46.30" y="324.80" width="13.60" height="0.70" fill="#ffffff" opacity="0.052"/>
<rect x="46.30" y="325.50" width="13.60" height="1.40" fill="#ffffff" opacity="0.090"/>
<rect x="46.30" y="327.90" width="13.60" height="0.90" fill="#ffffff" opacity="0.070"/>
<defs><linearGradient id="hg25" x1="0" x2="1" y1="0" y2="0"><stop offset="0" stop-color="#cfe1f3"/><stop offset="0.3" stop-color="#c6dcf1"/><stop offset="0.5" stop-color="#e0ecf8"/><stop offset="0.7" stop-color="#bcd5ee"/><stop offset="1" stop-color="#cfe1f3"/></linearGradient></defs>
<rect x="62.50" y="312.00" width="12.60" height="16.80" fill="url(#hg25)"/>
<defs><linearGradient id="vg26" x1="0" x2="0" y1="0" y2="1"><stop offset="0" stop-color="#fff" stop-opacity="0.0"/><stop offset="1" stop-color="#fff" stop-opacity="0.15"/></linearGradient></defs>
<rect x="62.50" y="312.00" width="12.60" height="16.80" fill="url(#vg26)"/>
<rect x="62.50" y="313.00" width="12.60" height="0.70" fill="#ffffff" opacity="0.086"/>
<rect x="62.50" y="317.40" width="12.60" height="1.40" fill="#ffffff" opacity="0.050"/>
<rect x="62.50" y="321.60" width="12.60" height="1.40" fill="#ffffff" opacity="0.072"/>
<rect x="62.50" y="326.50" width="12.60" height="0.70" fill="#ffffff" opacity="0.078"/>
<defs><linearGradient id="hg27" x1="0" x2="1" y1="0" y2="0"><stop offset="0" stop-color="#cfe1f3"/><stop offset="0.3" stop-color="#c6dcf1"/><stop offset="0.5" stop-color="#e0ecf8"/><stop offset="0.7" stop-color="#bcd5ee"/><stop offset="1" stop-color="#cfe1f3"/></linearGradient></defs>
<rect x="78.30" y="312.00" width="13.40" height="16.80" fill="url(#hg27)"/>
<defs><linearGradient id="vg28" x1="0" x2="0" y1="0" y2="1"><stop offset="0" stop-color="#fff" stop-opacity="0.0"/><stop offset="1" stop-color="#fff" stop-opacity="0.15"/></linearGradient></defs>
<rect x="78.30" y="312.00" width="13.40" height="16.80" fill="url(#vg28)"/>
<rect x="78.30" y="313.70" width="13.40" height="1.00" fill="#ffffff" opacity="0.060"/>
<rect x="78.30" y="316.10" width="13.40" height="0.70" fill="#ffffff" opacity="0.040"/>
<rect x="78.30" y="316.80" width="13.40" height="1.40" fill="#ffffff" opacity="0.098"/>
<rect x="78.30" y="319.60" width="13.40" height="1.00" fill="#ffffff" opacity="0.036"/>
<rect x="78.30" y="322.00" width="13.40" height="1.00" fill="#ffffff" opacity="0.083"/>
<rect x="78.30" y="323.00" width="13.40" height="0.70" fill="#ffffff" opacity="0.034"/>
<defs><linearGradient id="hg29" x1="0" x2="1" y1="0" y2="0"><stop offset="0" stop-color="#f8d0c2"/><stop offset="0.25" stop-color="#f3b09c"/><stop offset="0.45" stop-color="#fbe0d6"/><stop offset="0.6" stop-color="#ec8a76"/><stop offset="0.75" stop-color="#e66e5c"/><stop offset="1" stop-color="#f6c0b0"/></linearGradient></defs>
<rect x="94.60" y="312.00" width="12.60" height="16.80" fill="url(#hg29)"/>
<defs><linearGradient id="vg30" x1="0" x2="0" y1="0" y2="1"><stop offset="0" stop-color="#fff" stop-opacity="0.0"/><stop offset="1" stop-color="#fff" stop-opacity="0.55"/></linearGradient></defs>
<rect x="94.60" y="312.00" width="12.60" height="16.80" fill="url(#vg30)"/>
<rect x="94.60" y="313.00" width="12.60" height="0.70" fill="#ffffff" opacity="0.066"/>
<rect x="94.60" y="314.70" width="12.60" height="1.40" fill="#ffffff" opacity="0.065"/>
<rect x="94.60" y="316.10" width="12.60" height="0.70" fill="#ffffff" opacity="0.043"/>
<rect x="94.60" y="317.50" width="12.60" height="1.00" fill="#ffffff" opacity="0.070"/>
<rect x="94.60" y="319.50" width="12.60" height="0.70" fill="#ffffff" opacity="0.095"/>
<rect x="94.60" y="320.20" width="12.60" height="1.00" fill="#ffffff" opacity="0.037"/>
<rect x="94.60" y="322.60" width="12.60" height="0.70" fill="#ffffff" opacity="0.072"/>
<rect x="94.60" y="323.30" width="12.60" height="1.00" fill="#ffffff" opacity="0.072"/>
<rect x="94.60" y="324.30" width="12.60" height="0.70" fill="#ffffff" opacity="0.099"/>
<rect x="94.60" y="326.40" width="12.60" height="1.40" fill="#ffffff" opacity="0.095"/>
<defs><linearGradient id="hg31" x1="0" x2="1" y1="0" y2="0"><stop offset="0" stop-color="#f8d0c2"/><stop offset="0.25" stop-color="#f3b09c"/><stop offset="0.45" stop-color="#fbe0d6"/><stop offset="0.6" stop-color="#ec8a76"/><stop offset="0.75" stop-color="#e66e5c"/><stop offset="1" stop-color="#f6c0b0"/></linearGradient></defs>
<rect x="110.50" y="312.00" width="12.30" height="16.80" fill="url(#hg31)"/>
<defs><linearGradient id="vg32" x1="0" x2="0" y1="0" y2="1"><stop offset="0" stop-color="#fff" stop-opacity="0.0"/><stop offset="1" stop-color="#fff" stop-opacity="0.55"/></linearGradient></defs>
<rect x="110.50" y="312.00" width="12.30" height="16.80" fill="url(#vg32)"/>
<rect x="110.50" y="315.40" width="12.30" height="1.00" fill="#ffffff" opacity="0.043"/>
<rect x="110.50" y="316.40" width="12.30" height="0.70" fill="#ffffff" opacity="0.032"/>
<rect x="110.50" y="319.80" width="12.30" height="1.40" fill="#ffffff" opacity="0.038"/>
<rect x="110.50" y="321.20" width="12.30" height="0.70" fill="#ffffff" opacity="0.070"/>
<rect x="110.50" y="321.90" width="12.30" height="1.40" fill="#ffffff" opacity="0.094"/>
<rect x="110.50" y="323.30" width="12.30" height="1.40" fill="#ffffff" opacity="0.061"/>
<rect x="110.50" y="324.70" width="12.30" height="0.70" fill="#ffffff" opacity="0.046"/>
<rect x="110.50" y="325.40" width="12.30" height="1.40" fill="#ffffff" opacity="0.033"/>
<defs><linearGradient id="hg33" x1="0" x2="1" y1="0" y2="0"><stop offset="0" stop-color="#f8d0c2"/><stop offset="0.25" stop-color="#f3b09c"/><stop offset="0.45" stop-color="#fbe0d6"/><stop offset="0.6" stop-color="#ec8a76"/><stop offset="0.75" stop-color="#e66e5c"/><stop offset="1" stop-color="#f6c0b0"/></linearGradient></defs>
<rect x="126.10" y="312.00" width="13.00" height="16.80" fill="url(#hg33)"/>
<defs><linearGradient id="vg34" x1="0" x2="0" y1="0" y2="1"><stop offset="0" stop-color="#fff" stop-opacity="0.0"/><stop offset="1" stop-color="#fff" stop-opacity="0.55"/></linearGradient></defs>
<rect x="126.10" y="312.00" width="13.00" height="16.80" fill="url(#vg34)"/>
<rect x="126.10" y="312.70" width="13.00" height="0.70" fill="#ffffff" opacity="0.066"/>
<rect x="126.10" y="314.80" width="13.00" height="1.00" fill="#ffffff" opacity="0.040"/>
<rect x="126.10" y="319.30" width="13.00" height="1.40" fill="#ffffff" opacity="0.053"/>
<rect x="126.10" y="320.70" width="13.00" height="1.00" fill="#ffffff" opacity="0.056"/>
<rect x="126.10" y="321.70" width="13.00" height="1.00" fill="#ffffff" opacity="0.047"/>
<rect x="126.10" y="325.50" width="13.00" height="0.70" fill="#ffffff" opacity="0.073"/>
<defs><linearGradient id="hg35" x1="0" x2="1" y1="0" y2="0"><stop offset="0" stop-color="#f8d0c2"/><stop offset="0.25" stop-color="#f3b09c"/><stop offset="0.45" stop-color="#fbe0d6"/><stop offset="0.6" stop-color="#ec8a76"/><stop offset="0.75" stop-color="#e66e5c"/><stop offset="1" stop-color="#f6c0b0"/></linearGradient></defs>
<rect x="142.30" y="312.00" width="13.10" height="16.80" fill="url(#hg35)"/>
<defs><linearGradient id="vg36" x1="0" x2="0" y1="0" y2="1"><stop offset="0" stop-color="#fff" stop-opacity="0.0"/><stop offset="1" stop-color="#fff" stop-opacity="0.55"/></linearGradient></defs>
<rect x="142.30" y="312.00" width="13.10" height="16.80" fill="url(#vg36)"/>
<rect x="142.30" y="313.00" width="13.10" height="1.40" fill="#ffffff" opacity="0.098"/>
<rect x="142.30" y="315.40" width="13.10" height="1.00" fill="#ffffff" opacity="0.056"/>
<rect x="142.30" y="316.40" width="13.10" height="1.00" fill="#ffffff" opacity="0.034"/>
<rect x="142.30" y="319.50" width="13.10" height="0.70" fill="#ffffff" opacity="0.059"/>
<rect x="142.30" y="320.20" width="13.10" height="0.70" fill="#ffffff" opacity="0.070"/>
<rect x="142.30" y="320.90" width="13.10" height="1.00" fill="#ffffff" opacity="0.042"/>
<rect x="142.30" y="321.90" width="13.10" height="1.00" fill="#ffffff" opacity="0.062"/>
<rect x="142.30" y="322.90" width="13.10" height="1.00" fill="#ffffff" opacity="0.099"/>
<rect x="142.30" y="327.40" width="13.10" height="1.00" fill="#ffffff" opacity="0.083"/>
<defs><linearGradient id="hg37" x1="0" x2="1" y1="0" y2="0"><stop offset="0" stop-color="#d8e7f5"/><stop offset="0.5" stop-color="#e4eef8"/><stop offset="1" stop-color="#d8e7f5"/></linearGradient></defs>
<rect x="30.40" y="331.30" width="13.00" height="41.30" fill="url(#hg37)"/>
<defs><linearGradient id="vg38" x1="0" x2="0" y1="0" y2="1"><stop offset="0" stop-color="#fff" stop-opacity="0.0"/><stop offset="1" stop-color="#fff" stop-opacity="0.15"/></linearGradient></defs>
<rect x="30.40" y="331.30" width="13.00" height="41.30" fill="url(#vg38)"/>
<rect x="30.40" y="333.30" width="13.00" height="0.70" fill="#ffffff" opacity="0.050"/>
<rect x="30.40" y="334.00" width="13.00" height="0.70" fill="#ffffff" opacity="0.081"/>
<rect x="30.40" y="334.70" width="13.00" height="1.00" fill="#ffffff" opacity="0.075"/>
<rect x="30.40" y="337.70" width="13.00" height="1.00" fill="#ffffff" opacity="0.088"/>
<rect x="30.40" y="338.70" width="13.00" height="1.40" fill="#ffffff" opacity="0.055"/>
<rect x="30.40" y="340.80" width="13.00" height="0.70" fill="#ffffff" opacity="0.043"/>
<rect x="30.40" y="345.70" width="13.00" height="1.00" fill="#ffffff" opacity="0.040"/>
<rect x="30.40" y="348.80" width="13.00" height="0.70" fill="#ffffff" opacity="0.078"/>
<rect x="30.40" y="353.70" width="13.00" height="1.00" fill="#ffffff" opacity="0.075"/>
<rect x="30.40" y="354.70" width="13.00" height="1.00" fill="#ffffff" opacity="0.059"/>
<rect x="30.40" y="355.70" width="13.00" height="1.00" fill="#ffffff" opacity="0.077"/>
<rect x="30.40" y="356.70" width="13.00" height="0.70" fill="#ffffff" opacity="0.088"/>
<rect x="30.40" y="357.40" width="13.00" height="1.00" fill="#ffffff" opacity="0.079"/>
<rect x="30.40" y="359.80" width="13.00" height="0.70" fill="#ffffff" opacity="0.095"/>
<rect x="30.40" y="360.50" width="13.00" height="1.40" fill="#ffffff" opacity="0.055"/>
<rect x="30.40" y="364.60" width="13.00" height="0.70" fill="#ffffff" opacity="0.038"/>
<rect x="30.40" y="366.70" width="13.00" height="1.40" fill="#ffffff" opacity="0.086"/>
<rect x="30.40" y="368.10" width="13.00" height="0.70" fill="#ffffff" opacity="0.098"/>
<rect x="30.40" y="369.50" width="13.00" height="0.70" fill="#ffffff" opacity="0.048"/>
<rect x="30.40" y="370.20" width="13.00" height="0.70" fill="#ffffff" opacity="0.095"/>
<rect x="30.40" y="370.90" width="13.00" height="1.40" fill="#ffffff" opacity="0.031"/>
<defs><linearGradient id="hg39" x1="0" x2="1" y1="0" y2="0"><stop offset="0" stop-color="#d8e7f5"/><stop offset="0.5" stop-color="#e4eef8"/><stop offset="1" stop-color="#d8e7f5"/></linearGradient></defs>
<rect x="46.30" y="331.30" width="13.60" height="41.30" fill="url(#hg39)"/>
<defs><linearGradient id="vg40" x1="0" x2="0" y1="0" y2="1"><stop offset="0" stop-color="#fff" stop-opacity="0.0"/><stop offset="1" stop-color="#fff" stop-opacity="0.15"/></linearGradient></defs>
<rect x="46.30" y="331.30" width="13.60" height="41.30" fill="url(#vg40)"/>
<rect x="46.30" y="336.10" width="13.60" height="1.40" fill="#ffffff" opacity="0.049"/>
<rect x="46.30" y="339.90" width="13.60" height="0.70" fill="#ffffff" opacity="0.058"/>
<rect x="46.30" y="347.50" width="13.60" height="1.40" fill="#ffffff" opacity="0.098"/>
<rect x="46.30" y="354.00" width="13.60" height="1.40" fill="#ffffff" opacity="0.066"/>
<rect x="46.30" y="358.90" width="13.60" height="1.00" fill="#ffffff" opacity="0.043"/>
<rect x="46.30" y="362.30" width="13.60" height="0.70" fill="#ffffff" opacity="0.098"/>
<rect x="46.30" y="364.00" width="13.60" height="0.70" fill="#ffffff" opacity="0.075"/>
<rect x="46.30" y="365.70" width="13.60" height="1.40" fill="#ffffff" opacity="0.068"/>
<rect x="46.30" y="367.80" width="13.60" height="1.00" fill="#ffffff" opacity="0.031"/>
<rect x="46.30" y="369.50" width="13.60" height="1.00" fill="#ffffff" opacity="0.054"/>
<rect x="46.30" y="370.50" width="13.60" height="0.70" fill="#ffffff" opacity="0.072"/>
<defs><linearGradient id="hg41" x1="0" x2="1" y1="0" y2="0"><stop offset="0" stop-color="#d8e7f5"/><stop offset="0.5" stop-color="#e4eef8"/><stop offset="1" stop-color="#d8e7f5"/></linearGradient></defs>
<rect x="62.50" y="331.30" width="12.60" height="41.30" fill="url(#hg41)"/>
<defs><linearGradient id="vg42" x1="0" x2="0" y1="0" y2="1"><stop offset="0" stop-color="#fff" stop-opacity="0.0"/><stop offset="1" stop-color="#fff" stop-opacity="0.15"/></linearGradient></defs>
<rect x="62.50" y="331.30" width="12.60" height="41.30" fill="url(#vg42)"/>
<rect x="62.50" y="333.40" width="12.60" height="1.00" fill="#ffffff" opacity="0.039"/>
<rect x="62.50" y="335.40" width="12.60" height="1.40" fill="#ffffff" opacity="0.047"/>
<rect x="62.50" y="342.30" width="12.60" height="1.40" fill="#ffffff" opacity="0.063"/>
<rect x="62.50" y="343.70" width="12.60" height="1.00" fill="#ffffff" opacity="0.053"/>
<rect x="62.50" y="346.40" width="12.60" height="1.00" fill="#ffffff" opacity="0.055"/>
<rect x="62.50" y="347.40" width="12.60" height="0.70" fill="#ffffff" opacity="0.053"/>
<rect x="62.50" y="348.10" width="12.60" height="1.00" fill="#ffffff" opacity="0.099"/>
<rect x="62.50" y="349.10" width="12.60" height="1.00" fill="#ffffff" opacity="0.032"/>
<rect x="62.50" y="350.10" width="12.60" height="1.40" fill="#ffffff" opacity="0.091"/>
<rect x="62.50" y="352.50" width="12.60" height="1.40" fill="#ffffff" opacity="0.061"/>
<rect x="62.50" y="355.30" width="12.60" height="1.40" fill="#ffffff" opacity="0.097"/>
<rect x="62.50" y="358.10" width="12.60" height="1.00" fill="#ffffff" opacity="0.055"/>
<rect x="62.50" y="359.10" width="12.60" height="1.40" fill="#ffffff" opacity="0.073"/>
<rect x="62.50" y="361.50" width="12.60" height="1.40" fill="#ffffff" opacity="0.090"/>
<rect x="62.50" y="362.90" width="12.60" height="1.00" fill="#ffffff" opacity="0.074"/>
<rect x="62.50" y="366.00" width="12.60" height="0.70" fill="#ffffff" opacity="0.084"/>
<rect x="62.50" y="366.70" width="12.60" height="1.40" fill="#ffffff" opacity="0.058"/>
<rect x="62.50" y="368.10" width="12.60" height="1.40" fill="#ffffff" opacity="0.089"/>
<rect x="62.50" y="370.50" width="12.60" height="1.40" fill="#ffffff" opacity="0.090"/>
<defs><linearGradient id="hg43" x1="0" x2="1" y1="0" y2="0"><stop offset="0" stop-color="#d8e7f5"/><stop offset="0.5" stop-color="#e4eef8"/><stop offset="1" stop-color="#d8e7f5"/></linearGradient></defs>
<rect x="78.30" y="331.30" width="13.40" height="41.30" fill="url(#hg43)"/>
<defs><linearGradient id="vg44" x1="0" x2="0" y1="0" y2="1"><stop offset="0" stop-color="#fff" stop-opacity="0.0"/><stop offset="1" stop-color="#fff" stop-opacity="0.15"/></linearGradient></defs>
<rect x="78.30" y="331.30" width="13.40" height="41.30" fill="url(#vg44)"/>
<rect x="78.30" y="331.30" width="13.40" height="1.40" fill="#ffffff" opacity="0.055"/>
<rect x="78.30" y="335.80" width="13.40" height="1.00" fill="#ffffff" opacity="0.051"/>
<rect x="78.30" y="336.80" width="13.40" height="1.40" fill="#ffffff" opacity="0.040"/>
<rect x="78.30" y="338.20" width="13.40" height="1.40" fill="#ffffff" opacity="0.046"/>
<rect x="78.30" y="339.60" width="13.40" height="1.00" fill="#ffffff" opacity="0.089"/>
<rect x="78.30" y="342.00" width="13.40" height="0.70" fill="#ffffff" opacity="0.048"/>
<rect x="78.30" y="342.70" width="13.40" height="1.00" fill="#ffffff" opacity="0.068"/>
<rect x="78.30" y="347.10" width="13.40" height="1.00" fill="#ffffff" opacity="0.055"/>
<rect x="78.30" y="350.50" width="13.40" height="1.40" fill="#ffffff" opacity="0.046"/>
<rect x="78.30" y="351.90" width="13.40" height="1.00" fill="#ffffff" opacity="0.058"/>
<rect x="78.30" y="357.00" width="13.40" height="1.40" fill="#ffffff" opacity="0.067"/>
<rect x="78.30" y="358.40" width="13.40" height="0.70" fill="#ffffff" opacity="0.052"/>
<rect x="78.30" y="359.80" width="13.40" height="1.40" fill="#ffffff" opacity="0.076"/>
<rect x="78.30" y="364.60" width="13.40" height="1.40" fill="#ffffff" opacity="0.066"/>
<rect x="78.30" y="367.40" width="13.40" height="1.00" fill="#ffffff" opacity="0.074"/>
<rect x="78.30" y="368.40" width="13.40" height="1.40" fill="#ffffff" opacity="0.070"/>
<defs><linearGradient id="hg45" x1="0" x2="1" y1="0" y2="0"><stop offset="0" stop-color="#e45040"/><stop offset="0.3" stop-color="#dc3c30"/><stop offset="0.45" stop-color="#f4a890"/><stop offset="0.55" stop-color="#cc2220"/><stop offset="0.75" stop-color="#c41c1c"/><stop offset="1" stop-color="#e2604e"/></linearGradient></defs>
<rect x="94.60" y="331.30" width="12.60" height="41.30" fill="url(#hg45)"/>
<defs><linearGradient id="vg46" x1="0" x2="0" y1="0" y2="1"><stop offset="0" stop-color="#000" stop-opacity="0.35"/><stop offset="1" stop-color="#000" stop-opacity="0"/></linearGradient></defs>
<rect x="94.60" y="331.30" width="12.60" height="3.00" fill="url(#vg46)"/>
<defs><linearGradient id="vg47" x1="0" x2="0" y1="0" y2="1"><stop offset="0" stop-color="#fff" stop-opacity="0.0"/><stop offset="1" stop-color="#fff" stop-opacity="0.42"/></linearGradient></defs>
<rect x="94.60" y="331.30" width="12.60" height="41.30" fill="url(#vg47)"/>
<rect x="94.60" y="332.30" width="12.60" height="1.40" fill="#ffffff" opacity="0.051"/>
<rect x="94.60" y="334.40" width="12.60" height="1.40" fill="#ffffff" opacity="0.042"/>
<rect x="94.60" y="340.00" width="12.60" height="1.40" fill="#ffffff" opacity="0.072"/>
<rect x="94.60" y="341.40" width="12.60" height="0.70" fill="#ffffff" opacity="0.083"/>
<rect x="94.60" y="342.10" width="12.60" height="0.70" fill="#ffffff" opacity="0.035"/>
<rect x="94.60" y="347.30" width="12.60" height="1.00" fill="#ffffff" opacity="0.047"/>
<rect x="94.60" y="348.30" width="12.60" height="1.00" fill="#ffffff" opacity="0.049"/>
<rect x="94.60" y="350.00" width="12.60" height="1.40" fill="#ffffff" opacity="0.043"/>
<rect x="94.60" y="351.40" width="12.60" height="1.40" fill="#ffffff" opacity="0.034"/>
<rect x="94.60" y="354.50" width="12.60" height="1.40" fill="#ffffff" opacity="0.046"/>
<rect x="94.60" y="356.60" width="12.60" height="0.70" fill="#ffffff" opacity="0.093"/>
<rect x="94.60" y="357.30" width="12.60" height="1.00" fill="#ffffff" opacity="0.072"/>
<rect x="94.60" y="359.30" width="12.60" height="0.70" fill="#ffffff" opacity="0.057"/>
<rect x="94.60" y="361.40" width="12.60" height="1.00" fill="#ffffff" opacity="0.091"/>
<rect x="94.60" y="362.40" width="12.60" height="1.00" fill="#ffffff" opacity="0.091"/>
<rect x="94.60" y="363.40" width="12.60" height="0.70" fill="#ffffff" opacity="0.055"/>
<rect x="94.60" y="364.10" width="12.60" height="0.70" fill="#ffffff" opacity="0.092"/>
<rect x="94.60" y="365.80" width="12.60" height="0.70" fill="#ffffff" opacity="0.091"/>
<rect x="94.60" y="370.20" width="12.60" height="1.00" fill="#ffffff" opacity="0.050"/>
<defs><linearGradient id="hg48" x1="0" x2="1" y1="0" y2="0"><stop offset="0" stop-color="#ef8a76"/><stop offset="0.3" stop-color="#ec7a66"/><stop offset="0.45" stop-color="#f9cfc0"/><stop offset="0.6" stop-color="#e45a48"/><stop offset="0.8" stop-color="#e86a58"/><stop offset="1" stop-color="#f2a290"/></linearGradient></defs>
<rect x="110.50" y="331.30" width="12.30" height="41.30" fill="url(#hg48)"/>
<defs><linearGradient id="vg49" x1="0" x2="0" y1="0" y2="1"><stop offset="0" stop-color="#000" stop-opacity="0.35"/><stop offset="1" stop-color="#000" stop-opacity="0"/></linearGradient></defs>
<rect x="110.50" y="331.30" width="12.30" height="3.00" fill="url(#vg49)"/>
<defs><linearGradient id="vg50" x1="0" x2="0" y1="0" y2="1"><stop offset="0" stop-color="#fff" stop-opacity="0.0"/><stop offset="1" stop-color="#fff" stop-opacity="0.42"/></linearGradient></defs>
<rect x="110.50" y="331.30" width="12.30" height="41.30" fill="url(#vg50)"/>
<rect x="110.50" y="333.00" width="12.30" height="0.70" fill="#ffffff" opacity="0.068"/>
<rect x="110.50" y="335.40" width="12.30" height="0.70" fill="#ffffff" opacity="0.055"/>
<rect x="110.50" y="338.90" width="12.30" height="0.70" fill="#ffffff" opacity="0.063"/>
<rect x="110.50" y="339.60" width="12.30" height="0.70" fill="#ffffff" opacity="0.062"/>
<rect x="110.50" y="345.00" width="12.30" height="0.70" fill="#ffffff" opacity="0.083"/>
<rect x="110.50" y="349.90" width="12.30" height="1.00" fill="#ffffff" opacity="0.080"/>
<rect x="110.50" y="350.90" width="12.30" height="0.70" fill="#ffffff" opacity="0.057"/>
<rect x="110.50" y="352.30" width="12.30" height="0.70" fill="#ffffff" opacity="0.076"/>
<rect x="110.50" y="353.00" width="12.30" height="0.70" fill="#ffffff" opacity="0.094"/>
<rect x="110.50" y="355.10" width="12.30" height="0.70" fill="#ffffff" opacity="0.052"/>
<rect x="110.50" y="355.80" width="12.30" height="0.70" fill="#ffffff" opacity="0.087"/>
<rect x="110.50" y="356.50" width="12.30" height="1.00" fill="#ffffff" opacity="0.058"/>
<rect x="110.50" y="360.60" width="12.30" height="0.70" fill="#ffffff" opacity="0.078"/>
<rect x="110.50" y="362.70" width="12.30" height="1.00" fill="#ffffff" opacity="0.079"/>
<rect x="110.50" y="363.70" width="12.30" height="1.00" fill="#ffffff" opacity="0.089"/>
<rect x="110.50" y="365.70" width="12.30" height="0.70" fill="#ffffff" opacity="0.038"/>
<rect x="110.50" y="369.20" width="12.30" height="1.00" fill="#ffffff" opacity="0.041"/>
<rect x="110.50" y="370.90" width="12.30" height="0.70" fill="#ffffff" opacity="0.033"/>
<defs><linearGradient id="hg51" x1="0" x2="1" y1="0" y2="0"><stop offset="0" stop-color="#e45040"/><stop offset="0.3" stop-color="#dc3c30"/><stop offset="0.45" stop-color="#f4a890"/><stop offset="0.55" stop-color="#cc2220"/><stop offset="0.75" stop-color="#c41c1c"/><stop offset="1" stop-color="#e2604e"/></linearGradient></defs>
<rect x="126.10" y="331.30" width="13.00" height="41.30" fill="url(#hg51)"/>
<defs><linearGradient id="vg52" x1="0" x2="0" y1="0" y2="1"><stop offset="0" stop-color="#000" stop-opacity="0.35"/><stop offset="1" stop-color="#000" stop-opacity="0"/></linearGradient></defs>
<rect x="126.10" y="331.30" width="13.00" height="3.00" fill="url(#vg52)"/>
<defs><linearGradient id="vg53" x1="0" x2="0" y1="0" y2="1"><stop offset="0" stop-color="#fff" stop-opacity="0.0"/><stop offset="1" stop-color="#fff" stop-opacity="0.42"/></linearGradient></defs>
<rect x="126.10" y="331.30" width="13.00" height="41.30" fill="url(#vg53)"/>
<rect x="126.10" y="335.10" width="13.00" height="1.40" fill="#ffffff" opacity="0.030"/>
<rect x="126.10" y="336.50" width="13.00" height="1.40" fill="#ffffff" opacity="0.033"/>
<rect x="126.10" y="340.00" width="13.00" height="1.40" fill="#ffffff" opacity="0.085"/>
<rect x="126.10" y="343.80" width="13.00" height="1.40" fill="#ffffff" opacity="0.082"/>
<rect x="126.10" y="345.20" width="13.00" height="0.70" fill="#ffffff" opacity="0.036"/>
<rect x="126.10" y="350.70" width="13.00" height="1.40" fill="#ffffff" opacity="0.079"/>
<rect x="126.10" y="353.80" width="13.00" height="0.70" fill="#ffffff" opacity="0.079"/>
<rect x="126.10" y="354.50" width="13.00" height="1.40" fill="#ffffff" opacity="0.068"/>
<rect x="126.10" y="355.90" width="13.00" height="1.40" fill="#ffffff" opacity="0.048"/>
<rect x="126.10" y="357.30" width="13.00" height="0.70" fill="#ffffff" opacity="0.054"/>
<rect x="126.10" y="358.00" width="13.00" height="0.70" fill="#ffffff" opacity="0.052"/>
<rect x="126.10" y="361.80" width="13.00" height="1.00" fill="#ffffff" opacity="0.075"/>
<rect x="126.10" y="362.80" width="13.00" height="1.40" fill="#ffffff" opacity="0.092"/>
<rect x="126.10" y="364.90" width="13.00" height="0.70" fill="#ffffff" opacity="0.087"/>
<rect x="126.10" y="371.10" width="13.00" height="0.70" fill="#ffffff" opacity="0.044"/>
<defs><linearGradient id="hg54" x1="0" x2="1" y1="0" y2="0"><stop offset="0" stop-color="#f6b8a8"/><stop offset="0.3" stop-color="#f4aa98"/><stop offset="0.5" stop-color="#fbd6ca"/><stop offset="0.7" stop-color="#f29c88"/><stop offset="1" stop-color="#f7c0b0"/></linearGradient></defs>
<rect x="142.30" y="331.30" width="13.10" height="41.30" fill="url(#hg54)"/>
<defs><linearGradient id="vg55" x1="0" x2="0" y1="0" y2="1"><stop offset="0" stop-color="#000" stop-opacity="0.35"/><stop offset="1" stop-color="#000" stop-opacity="0"/></linearGradient></defs>
<rect x="142.30" y="331.30" width="13.10" height="3.00" fill="url(#vg55)"/>
<defs><linearGradient id="vg56" x1="0" x2="0" y1="0" y2="1"><stop offset="0" stop-color="#fff" stop-opacity="0.0"/><stop offset="1" stop-color="#fff" stop-opacity="0.42"/></linearGradient></defs>
<rect x="142.30" y="331.30" width="13.10" height="41.30" fill="url(#vg56)"/>
<rect x="142.30" y="331.30" width="13.10" height="1.00" fill="#ffffff" opacity="0.079"/>
<rect x="142.30" y="333.30" width="13.10" height="0.70" fill="#ffffff" opacity="0.063"/>
<rect x="142.30" y="334.00" width="13.10" height="1.00" fill="#ffffff" opacity="0.069"/>
<rect x="142.30" y="335.00" width="13.10" height="0.70" fill="#ffffff" opacity="0.099"/>
<rect x="142.30" y="335.70" width="13.10" height="1.00" fill="#ffffff" opacity="0.080"/>
<rect x="142.30" y="339.80" width="13.10" height="1.40" fill="#ffffff" opacity="0.055"/>
<rect x="142.30" y="345.70" width="13.10" height="0.70" fill="#ffffff" opacity="0.032"/>
<rect x="142.30" y="347.40" width="13.10" height="1.00" fill="#ffffff" opacity="0.097"/>
<rect x="142.30" y="349.80" width="13.10" height="1.40" fill="#ffffff" opacity="0.085"/>
<rect x="142.30" y="352.20" width="13.10" height="1.00" fill="#ffffff" opacity="0.075"/>
<rect x="142.30" y="353.20" width="13.10" height="1.00" fill="#ffffff" opacity="0.056"/>
<rect x="142.30" y="355.60" width="13.10" height="1.00" fill="#ffffff" opacity="0.033"/>
<rect x="142.30" y="361.10" width="13.10" height="1.40" fill="#ffffff" opacity="0.051"/>
<rect x="142.30" y="364.60" width="13.10" height="0.70" fill="#ffffff" opacity="0.075"/>
<rect x="142.30" y="365.30" width="13.10" height="1.00" fill="#ffffff" opacity="0.033"/>
<rect x="142.30" y="368.00" width="13.10" height="0.70" fill="#ffffff" opacity="0.073"/>
<rect x="142.30" y="370.10" width="13.10" height="1.00" fill="#ffffff" opacity="0.034"/>
<rect x="157.60" y="274.80" width="24.00" height="35.20" fill="#e7f0fa"/>
<rect x="157.60" y="311.50" width="24.00" height="18.10" fill="#f8e8e4"/>
<rect x="157.60" y="331.00" width="24.00" height="42.70" fill="#e8eaee"/>
<text x="158.3" y="287.0" font-size="6.0" fill="#2c2e38" font-style="italic">MEIS1</text>
<text x="158.3" y="293.6" font-size="6.0" fill="#2c2e38" font-style="italic">PBX3</text>
<text x="158.3" y="300.2" font-size="6.0" fill="#2c2e38" font-style="italic">MEF2C</text>
<text x="158.3" y="317.2" font-size="5.8" fill="#2c2e38" font-style="italic">MYC</text>
<text x="158.3" y="322.9" font-size="5.8" fill="#2c2e38" font-style="italic">LRP5</text>
<text x="158.3" y="328.6" font-size="5.8" fill="#2c2e38" font-style="italic">RUNX3</text>
<text x="158.9" y="354.6" font-size="6.2" fill="#2c2e38" font-style="italic">FGFR1</text>
<text x="18" y="289.4" font-size="7.0" fill="#333" text-anchor="middle">Menin</text>
<text x="18" y="298.0" font-size="7.0" fill="#333" text-anchor="middle">only</text>
<text x="16.3" y="322.4" font-size="7.0" fill="#333" text-anchor="middle">Shared</text>
<text x="17.5" y="345.4" font-size="7.0" fill="#333" text-anchor="middle">H2AK</text>
<text x="17.5" y="354.2" font-size="7.0" fill="#333" text-anchor="middle">119ub</text>
<text x="17.5" y="363.0" font-size="7.0" fill="#333" text-anchor="middle">only</text>
<line x1="30.3" y1="374.0" x2="30.3" y2="376.0" stroke="#555" stroke-width="0.5"/>
<line x1="36.9" y1="374.0" x2="36.9" y2="376.0" stroke="#555" stroke-width="0.5"/>
<line x1="43.5" y1="374.0" x2="43.5" y2="376.0" stroke="#555" stroke-width="0.5"/>
<line x1="46.2" y1="374.0" x2="46.2" y2="376.0" stroke="#555" stroke-width="0.5"/>
<line x1="53.1" y1="374.0" x2="53.1" y2="376.0" stroke="#555" stroke-width="0.5"/>
<line x1="60.0" y1="374.0" x2="60.0" y2="376.0" stroke="#555" stroke-width="0.5"/>
<line x1="62.4" y1="374.0" x2="62.4" y2="376.0" stroke="#555" stroke-width="0.5"/>
<line x1="68.8" y1="374.0" x2="68.8" y2="376.0" stroke="#555" stroke-width="0.5"/>
<line x1="75.2" y1="374.0" x2="75.2" y2="376.0" stroke="#555" stroke-width="0.5"/>
<line x1="78.2" y1="374.0" x2="78.2" y2="376.0" stroke="#555" stroke-width="0.5"/>
<line x1="85.0" y1="374.0" x2="85.0" y2="376.0" stroke="#555" stroke-width="0.5"/>
<line x1="91.8" y1="374.0" x2="91.8" y2="376.0" stroke="#555" stroke-width="0.5"/>
<line x1="94.5" y1="374.0" x2="94.5" y2="376.0" stroke="#555" stroke-width="0.5"/>
<line x1="100.9" y1="374.0" x2="100.9" y2="376.0" stroke="#555" stroke-width="0.5"/>
<line x1="107.3" y1="374.0" x2="107.3" y2="376.0" stroke="#555" stroke-width="0.5"/>
<line x1="110.4" y1="374.0" x2="110.4" y2="376.0" stroke="#555" stroke-width="0.5"/>
<line x1="116.65" y1="374.0" x2="116.65" y2="376.0" stroke="#555" stroke-width="0.5"/>
<line x1="122.9" y1="374.0" x2="122.9" y2="376.0" stroke="#555" stroke-width="0.5"/>
<line x1="126.0" y1="374.0" x2="126.0" y2="376.0" stroke="#555" stroke-width="0.5"/>
<line x1="132.6" y1="374.0" x2="132.6" y2="376.0" stroke="#555" stroke-width="0.5"/>
<line x1="139.2" y1="374.0" x2="139.2" y2="376.0" stroke="#555" stroke-width="0.5"/>
<line x1="142.2" y1="374.0" x2="142.2" y2="376.0" stroke="#555" stroke-width="0.5"/>
<line x1="148.85" y1="374.0" x2="148.85" y2="376.0" stroke="#555" stroke-width="0.5"/>
<line x1="155.5" y1="374.0" x2="155.5" y2="376.0" stroke="#555" stroke-width="0.5"/>
<text x="29.3" y="384.2" font-size="6.9" fill="#333" text-anchor="middle">−3</text>
<text x="36.9" y="384.2" font-size="6.9" fill="#333" text-anchor="middle">0</text>
<text x="44.5" y="384.2" font-size="6.9" fill="#333" text-anchor="middle">3</text>
<text x="93.5" y="384.2" font-size="6.9" fill="#333" text-anchor="middle">−3</text>
<text x="100.9" y="384.2" font-size="6.9" fill="#333" text-anchor="middle">0</text>
<text x="108.3" y="384.2" font-size="6.9" fill="#333" text-anchor="middle">3</text>
<text x="64" y="396.2" font-size="8.4" fill="#333" textLength="57" lengthAdjust="spacingAndGlyphs" stroke="#333" stroke-width="0.14">Distance to TSS(kb)</text>
<rect x="160.80" y="261.40" width="2.40" height="2.40" fill="#33425e"/>
<text x="165.6" y="264.6" font-size="6.7" fill="#333" textLength="16.5" lengthAdjust="spacingAndGlyphs">sgLuc</text>
<rect x="160.80" y="267.00" width="2.40" height="2.40" fill="#e8961f"/>
<text x="165.6" y="270.8" font-size="6.7" fill="#333" textLength="26.3" lengthAdjust="spacingAndGlyphs">sgPCGF1</text>
<path d="M160.2,262 L159.5,262 L159.5,268.5 L160.2,268.5" fill="none" stroke="#555" stroke-width="0.5"/>
<line x1="159.5" y1="267" x2="155.5" y2="271.5" stroke="#3a6fb0" stroke-width="0.6"/>
<text x="200.9" y="240.9" font-size="10.5" fill="#111" font-weight="bold">E</text>
<text x="240.3" y="258.8" font-size="6.7" fill="#333" text-anchor="middle">Menin</text>
<text x="240.3" y="266.0" font-size="6.7" fill="#333" text-anchor="middle">only</text>
<text x="284.0" y="258.8" font-size="7.0" fill="#333" text-anchor="middle" textLength="41.5" lengthAdjust="spacingAndGlyphs">Menin/K119ub</text>
<text x="283.8" y="266.0" font-size="6.7" fill="#333" text-anchor="middle">shared</text>
<defs><clipPath id="clipE0"><rect x="222.5" y="270.5" width="36.0" height="34.0"/></clipPath></defs>
<g clip-path="url(#clipE0)">
<path d="M222.50,299.97 L222.80,299.93 L223.10,299.88 L223.40,299.84 L223.70,299.80 L224.00,299.75 L224.30,299.71 L224.60,299.67 L224.90,299.63 L225.20,299.59 L225.50,299.55 L225.80,299.50 L226.10,299.46 L226.40,299.41 L226.70,299.37 L227.00,299.32 L227.30,299.27 L227.60,299.22 L227.90,299.17 L228.20,299.12 L228.50,299.06 L228.80,299.01 L229.10,298.94 L229.40,298.88 L229.70,298.81 L230.00,298.74 L230.30,298.66 L230.60,298.59 L230.90,298.51 L231.20,298.44 L231.50,298.36 L231.80,298.28 L232.10,298.21 L232.40,298.14 L232.70,298.06 L233.00,298.00 L233.30,297.93 L233.60,297.87 L233.90,297.81 L234.20,297.75 L234.50,297.70 L234.80,297.66 L235.10,297.62 L235.40,297.57 L235.70,297.54 L236.00,297.50 L236.30,297.47 L236.60,297.45 L236.90,297.43 L237.20,297.42 L237.50,297.42 L237.80,297.42 L238.10,297.43 L238.40,297.45 L238.70,297.48 L239.00,297.59 L239.30,297.82 L239.60,298.08 L239.90,298.32 L240.20,298.44 L240.50,298.38 L240.80,298.09 L241.10,297.61 L241.40,297.02 L241.70,296.40 L242.00,295.85 L242.30,295.44 L242.60,295.15 L242.90,294.89 L243.20,294.67 L243.50,294.48 L243.80,294.32 L244.10,294.20 L244.40,294.12 L244.70,294.08 L245.00,294.07 L245.30,294.09 L245.60,294.14 L245.90,294.20 L246.20,294.28 L246.50,294.37 L246.80,294.47 L247.10,294.58 L247.40,294.69 L247.70,294.79 L248.00,294.89 L248.30,294.99 L248.60,295.08 L248.90,295.17 L249.20,295.27 L249.50,295.37 L249.80,295.47 L250.10,295.58 L250.40,295.68 L250.70,295.78 L251.00,295.88 L251.30,295.98 L251.60,296.08 L251.90,296.17 L252.20,296.26 L252.50,296.35 L252.80,296.42 L253.10,296.50 L253.40,296.58 L253.70,296.65 L254.00,296.72 L254.30,296.79 L254.60,296.86 L254.90,296.92 L255.20,296.99 L255.50,297.06 L255.80,297.12 L256.10,297.18 L256.40,297.25 L256.70,297.31 L257.00,297.38 L257.30,297.44 L257.60,297.51 L257.90,297.57 L258.20,297.64 L258.50,297.70" fill="none" stroke="#9a8e8a" stroke-width="0.8" stroke-dasharray="1,1.2" stroke-linejoin="round"/>
<path d="M222.50,299.65 L222.80,299.61 L223.10,299.56 L223.40,299.52 L223.70,299.48 L224.00,299.43 L224.30,299.39 L224.60,299.35 L224.90,299.31 L225.20,299.26 L225.50,299.22 L225.80,299.18 L226.10,299.13 L226.40,299.09 L226.70,299.04 L227.00,298.99 L227.30,298.94 L227.60,298.89 L227.90,298.84 L228.20,298.79 L228.50,298.73 L228.80,298.67 L229.10,298.60 L229.40,298.54 L229.70,298.47 L230.00,298.39 L230.30,298.32 L230.60,298.24 L230.90,298.17 L231.20,298.09 L231.50,298.01 L231.80,297.93 L232.10,297.86 L232.40,297.78 L232.70,297.71 L233.00,297.64 L233.30,297.57 L233.60,297.51 L233.90,297.45 L234.20,297.39 L234.50,297.34 L234.80,297.30 L235.10,297.25 L235.40,297.21 L235.70,297.17 L236.00,297.14 L236.30,297.11 L236.60,297.08 L236.90,297.06 L237.20,297.05 L237.50,297.05 L237.80,297.05 L238.10,297.06 L238.40,297.08 L238.70,297.11 L239.00,297.23 L239.30,297.46 L239.60,297.73 L239.90,297.97 L240.20,298.09 L240.50,298.04 L240.80,297.74 L241.10,297.24 L241.40,296.64 L241.70,296.01 L242.00,295.45 L242.30,295.03 L242.60,294.74 L242.90,294.47 L243.20,294.24 L243.50,294.05 L243.80,293.89 L244.10,293.77 L244.40,293.69 L244.70,293.65 L245.00,293.64 L245.30,293.66 L245.60,293.70 L245.90,293.77 L246.20,293.85 L246.50,293.94 L246.80,294.04 L247.10,294.15 L247.40,294.26 L247.70,294.37 L248.00,294.48 L248.30,294.57 L248.60,294.66 L248.90,294.76 L249.20,294.86 L249.50,294.96 L249.80,295.06 L250.10,295.17 L250.40,295.28 L250.70,295.38 L251.00,295.49 L251.30,295.59 L251.60,295.69 L251.90,295.78 L252.20,295.87 L252.50,295.96 L252.80,296.04 L253.10,296.11 L253.40,296.19 L253.70,296.26 L254.00,296.34 L254.30,296.41 L254.60,296.48 L254.90,296.55 L255.20,296.61 L255.50,296.68 L255.80,296.75 L256.10,296.81 L256.40,296.88 L256.70,296.94 L257.00,297.01 L257.30,297.07 L257.60,297.14 L257.90,297.21 L258.20,297.27 L258.50,297.34" fill="none" stroke="#eb9a2c" stroke-width="0.6" stroke-dasharray="1,1.4" stroke-linejoin="round"/>
<path d="M222.50,294.08 L222.80,293.98 L223.10,293.89 L223.40,293.80 L223.70,293.71 L224.00,293.62 L224.30,293.54 L224.60,293.45 L224.90,293.37 L225.20,293.28 L225.50,293.20 L225.80,293.11 L226.10,293.01 L226.40,292.92 L226.70,292.81 L227.00,292.70 L227.30,292.59 L227.60,292.46 L227.90,292.33 L228.20,292.19 L228.50,292.04 L228.80,291.87 L229.10,291.68 L229.40,291.46 L229.70,291.22 L230.00,290.97 L230.30,290.71 L230.60,290.44 L230.90,290.16 L231.20,289.89 L231.50,289.62 L231.80,289.35 L232.10,289.10 L232.40,288.83 L232.70,288.54 L233.00,288.23 L233.30,287.92 L233.60,287.61 L233.90,287.32 L234.20,287.07 L234.50,286.85 L234.80,286.70 L235.10,286.61 L235.40,286.58 L235.70,286.62 L236.00,286.74 L236.30,286.94 L236.60,287.25 L236.90,287.66 L237.20,288.19 L237.50,288.91 L237.80,289.81 L238.10,290.85 L238.40,291.95 L238.70,293.04 L239.00,294.08 L239.30,294.99 L239.60,295.96 L239.90,296.96 L240.20,297.53 L240.50,297.25 L240.80,295.78 L241.10,293.43 L241.40,290.72 L241.70,288.19 L242.00,285.77 L242.30,283.19 L242.60,280.69 L242.90,278.50 L243.20,276.87 L243.50,275.72 L243.80,274.82 L244.10,274.14 L244.40,273.63 L244.70,273.26 L245.00,272.99 L245.30,272.79 L245.60,272.67 L245.90,272.68 L246.20,272.78 L246.50,272.97 L246.80,273.22 L247.10,273.51 L247.40,273.83 L247.70,274.15 L248.00,274.48 L248.30,274.84 L248.60,275.21 L248.90,275.61 L249.20,276.01 L249.50,276.43 L249.80,276.85 L250.10,277.28 L250.40,277.71 L250.70,278.14 L251.00,278.56 L251.30,278.98 L251.60,279.38 L251.90,279.77 L252.20,280.14 L252.50,280.49 L252.80,280.83 L253.10,281.15 L253.40,281.47 L253.70,281.78 L254.00,282.09 L254.30,282.39 L254.60,282.69 L254.90,282.98 L255.20,283.26 L255.50,283.55 L255.80,283.83 L256.10,284.11 L256.40,284.39 L256.70,284.67 L257.00,284.95 L257.30,285.23 L257.60,285.51 L257.90,285.80 L258.20,286.09 L258.50,286.38" fill="none" stroke="#eb9a2c" stroke-width="1.1" stroke-linejoin="round"/>
<path d="M222.50,294.39 L222.80,294.30 L223.10,294.21 L223.40,294.12 L223.70,294.03 L224.00,293.95 L224.30,293.87 L224.60,293.78 L224.90,293.70 L225.20,293.62 L225.50,293.54 L225.80,293.45 L226.10,293.36 L226.40,293.26 L226.70,293.16 L227.00,293.06 L227.30,292.95 L227.60,292.83 L227.90,292.70 L228.20,292.56 L228.50,292.42 L228.80,292.25 L229.10,292.06 L229.40,291.85 L229.70,291.62 L230.00,291.38 L230.30,291.12 L230.60,290.86 L230.90,290.59 L231.20,290.33 L231.50,290.06 L231.80,289.81 L232.10,289.56 L232.40,289.30 L232.70,289.02 L233.00,288.72 L233.30,288.41 L233.60,288.12 L233.90,287.84 L234.20,287.59 L234.50,287.38 L234.80,287.23 L235.10,287.14 L235.40,287.12 L235.70,287.16 L236.00,287.27 L236.30,287.47 L236.60,287.76 L236.90,288.16 L237.20,288.68 L237.50,289.38 L237.80,290.25 L238.10,291.26 L238.40,292.32 L238.70,293.39 L239.00,294.39 L239.30,295.27 L239.60,296.22 L239.90,297.18 L240.20,297.74 L240.50,297.47 L240.80,296.04 L241.10,293.76 L241.40,291.14 L241.70,288.68 L242.00,286.33 L242.30,283.83 L242.60,281.40 L242.90,279.28 L243.20,277.70 L243.50,276.58 L243.80,275.71 L244.10,275.05 L244.40,274.56 L244.70,274.20 L245.00,273.94 L245.30,273.74 L245.60,273.63 L245.90,273.63 L246.20,273.73 L246.50,273.91 L246.80,274.15 L247.10,274.44 L247.40,274.75 L247.70,275.06 L248.00,275.38 L248.30,275.73 L248.60,276.09 L248.90,276.47 L249.20,276.87 L249.50,277.27 L249.80,277.68 L250.10,278.10 L250.40,278.52 L250.70,278.93 L251.00,279.34 L251.30,279.74 L251.60,280.13 L251.90,280.51 L252.20,280.87 L252.50,281.21 L252.80,281.54 L253.10,281.85 L253.40,282.16 L253.70,282.47 L254.00,282.76 L254.30,283.05 L254.60,283.34 L254.90,283.62 L255.20,283.90 L255.50,284.18 L255.80,284.45 L256.10,284.72 L256.40,284.99 L256.70,285.27 L257.00,285.54 L257.30,285.81 L257.60,286.08 L257.90,286.36 L258.20,286.64 L258.50,286.92" fill="none" stroke="#4a4040" stroke-width="0.8" stroke-linejoin="round"/>
</g>
<rect x="222.5" y="270.5" width="36.0" height="34.0" fill="none" stroke="#333" stroke-width="0.8"/>
<line x1="220.7" y1="295.44" x2="222.5" y2="295.44" stroke="#333" stroke-width="0.6"/>
<text x="217.5" y="297.84" font-size="6.9" fill="#333" text-anchor="end">2</text>
<line x1="220.7" y1="286.38" x2="222.5" y2="286.38" stroke="#333" stroke-width="0.6"/>
<text x="217.5" y="288.78" font-size="6.9" fill="#333" text-anchor="end">4</text>
<line x1="220.7" y1="277.32" x2="222.5" y2="277.32" stroke="#333" stroke-width="0.6"/>
<text x="217.5" y="279.71999999999997" font-size="6.9" fill="#333" text-anchor="end">6</text>
<line x1="222.5" y1="304.5" x2="222.5" y2="306.3" stroke="#333" stroke-width="0.6"/>
<line x1="240.5" y1="304.5" x2="240.5" y2="306.3" stroke="#333" stroke-width="0.6"/>
<line x1="258.5" y1="304.5" x2="258.5" y2="306.3" stroke="#333" stroke-width="0.6"/>
<text x="221.3" y="316.3" font-size="7.2" fill="#333" text-anchor="middle">−3</text>
<text x="240.5" y="316.3" font-size="7.2" fill="#333" text-anchor="middle">0</text>
<text x="258.5" y="316.3" font-size="7.2" fill="#333" text-anchor="middle">3</text>
<defs><clipPath id="clipE1"><rect x="266.5" y="270.5" width="36.0" height="34.0"/></clipPath></defs>
<g clip-path="url(#clipE1)">
<path d="M266.50,299.97 L266.80,299.93 L267.10,299.88 L267.40,299.84 L267.70,299.80 L268.00,299.75 L268.30,299.71 L268.60,299.67 L268.90,299.63 L269.20,299.59 L269.50,299.55 L269.80,299.50 L270.10,299.46 L270.40,299.41 L270.70,299.37 L271.00,299.32 L271.30,299.27 L271.60,299.22 L271.90,299.17 L272.20,299.12 L272.50,299.06 L272.80,299.01 L273.10,298.94 L273.40,298.88 L273.70,298.81 L274.00,298.74 L274.30,298.66 L274.60,298.59 L274.90,298.51 L275.20,298.44 L275.50,298.36 L275.80,298.28 L276.10,298.21 L276.40,298.14 L276.70,298.06 L277.00,298.00 L277.30,297.93 L277.60,297.87 L277.90,297.81 L278.20,297.75 L278.50,297.70 L278.80,297.66 L279.10,297.62 L279.40,297.57 L279.70,297.54 L280.00,297.50 L280.30,297.47 L280.60,297.45 L280.90,297.43 L281.20,297.42 L281.50,297.42 L281.80,297.42 L282.10,297.43 L282.40,297.45 L282.70,297.48 L283.00,297.59 L283.30,297.82 L283.60,298.08 L283.90,298.32 L284.20,298.44 L284.50,298.38 L284.80,298.09 L285.10,297.61 L285.40,297.02 L285.70,296.40 L286.00,295.85 L286.30,295.44 L286.60,295.15 L286.90,294.89 L287.20,294.67 L287.50,294.48 L287.80,294.32 L288.10,294.20 L288.40,294.12 L288.70,294.08 L289.00,294.07 L289.30,294.09 L289.60,294.14 L289.90,294.20 L290.20,294.28 L290.50,294.37 L290.80,294.47 L291.10,294.58 L291.40,294.69 L291.70,294.79 L292.00,294.89 L292.30,294.99 L292.60,295.08 L292.90,295.17 L293.20,295.27 L293.50,295.37 L293.80,295.47 L294.10,295.58 L294.40,295.68 L294.70,295.78 L295.00,295.88 L295.30,295.98 L295.60,296.08 L295.90,296.17 L296.20,296.26 L296.50,296.35 L296.80,296.42 L297.10,296.50 L297.40,296.58 L297.70,296.65 L298.00,296.72 L298.30,296.79 L298.60,296.86 L298.90,296.92 L299.20,296.99 L299.50,297.06 L299.80,297.12 L300.10,297.18 L300.40,297.25 L300.70,297.31 L301.00,297.38 L301.30,297.44 L301.60,297.51 L301.90,297.57 L302.20,297.64 L302.50,297.70" fill="none" stroke="#9a8e8a" stroke-width="0.8" stroke-dasharray="1,1.2" stroke-linejoin="round"/>
<path d="M266.50,299.52 L266.80,299.47 L267.10,299.43 L267.40,299.39 L267.70,299.34 L268.00,299.30 L268.30,299.26 L268.60,299.22 L268.90,299.18 L269.20,299.13 L269.50,299.09 L269.80,299.05 L270.10,299.01 L270.40,298.96 L270.70,298.92 L271.00,298.87 L271.30,298.82 L271.60,298.77 L271.90,298.72 L272.20,298.67 L272.50,298.61 L272.80,298.55 L273.10,298.49 L273.40,298.42 L273.70,298.35 L274.00,298.28 L274.30,298.21 L274.60,298.13 L274.90,298.06 L275.20,297.98 L275.50,297.91 L275.80,297.83 L276.10,297.76 L276.40,297.68 L276.70,297.61 L277.00,297.54 L277.30,297.48 L277.60,297.41 L277.90,297.36 L278.20,297.30 L278.50,297.25 L278.80,297.21 L279.10,297.16 L279.40,297.12 L279.70,297.08 L280.00,297.05 L280.30,297.02 L280.60,297.00 L280.90,296.98 L281.20,296.97 L281.50,296.96 L281.80,296.97 L282.10,296.98 L282.40,297.00 L282.70,297.03 L283.00,297.14 L283.30,297.37 L283.60,297.63 L283.90,297.86 L284.20,297.99 L284.50,297.93 L284.80,297.64 L285.10,297.15 L285.40,296.56 L285.70,295.95 L286.00,295.39 L286.30,294.99 L286.60,294.70 L286.90,294.44 L287.20,294.21 L287.50,294.02 L287.80,293.87 L288.10,293.75 L288.40,293.67 L288.70,293.63 L289.00,293.62 L289.30,293.64 L289.60,293.68 L289.90,293.75 L290.20,293.82 L290.50,293.92 L290.80,294.02 L291.10,294.12 L291.40,294.23 L291.70,294.34 L292.00,294.44 L292.30,294.53 L292.60,294.62 L292.90,294.72 L293.20,294.82 L293.50,294.92 L293.80,295.02 L294.10,295.12 L294.40,295.23 L294.70,295.33 L295.00,295.43 L295.30,295.53 L295.60,295.63 L295.90,295.72 L296.20,295.81 L296.50,295.89 L296.80,295.97 L297.10,296.05 L297.40,296.12 L297.70,296.20 L298.00,296.27 L298.30,296.34 L298.60,296.40 L298.90,296.47 L299.20,296.54 L299.50,296.60 L299.80,296.67 L300.10,296.73 L300.40,296.80 L300.70,296.86 L301.00,296.92 L301.30,296.99 L301.60,297.05 L301.90,297.12 L302.20,297.18 L302.50,297.25" fill="none" stroke="#eb9a2c" stroke-width="0.6" stroke-dasharray="1,1.4" stroke-linejoin="round"/>
<path d="M266.50,295.44 L266.80,295.35 L267.10,295.27 L267.40,295.19 L267.70,295.11 L268.00,295.03 L268.30,294.96 L268.60,294.89 L268.90,294.81 L269.20,294.74 L269.50,294.66 L269.80,294.58 L270.10,294.50 L270.40,294.41 L270.70,294.32 L271.00,294.22 L271.30,294.12 L271.60,294.01 L271.90,293.89 L272.20,293.76 L272.50,293.63 L272.80,293.47 L273.10,293.29 L273.40,293.09 L273.70,292.86 L274.00,292.63 L274.30,292.38 L274.60,292.13 L274.90,291.87 L275.20,291.62 L275.50,291.37 L275.80,291.13 L276.10,290.91 L276.40,290.68 L276.70,290.44 L277.00,290.19 L277.30,289.93 L277.60,289.69 L277.90,289.46 L278.20,289.25 L278.50,289.08 L278.80,288.95 L279.10,288.87 L279.40,288.84 L279.70,288.86 L280.00,288.94 L280.30,289.09 L280.60,289.31 L280.90,289.61 L281.20,290.00 L281.50,290.53 L281.80,291.20 L282.10,291.97 L282.40,292.78 L282.70,293.59 L283.00,294.34 L283.30,294.99 L283.60,295.68 L283.90,296.38 L284.20,296.72 L284.50,296.35 L284.80,295.01 L285.10,292.95 L285.40,290.55 L285.70,288.19 L286.00,285.74 L286.30,283.04 L286.60,280.37 L286.90,278.07 L287.20,276.41 L287.50,275.32 L287.80,274.46 L288.10,273.81 L288.40,273.32 L288.70,272.96 L289.00,272.70 L289.30,272.50 L289.60,272.34 L289.90,272.23 L290.20,272.23 L290.50,272.31 L290.80,272.45 L291.10,272.66 L291.40,272.90 L291.70,273.16 L292.00,273.43 L292.30,273.70 L292.60,273.96 L292.90,274.25 L293.20,274.56 L293.50,274.88 L293.80,275.21 L294.10,275.55 L294.40,275.90 L294.70,276.25 L295.00,276.59 L295.30,276.94 L295.60,277.28 L295.90,277.61 L296.20,277.92 L296.50,278.23 L296.80,278.52 L297.10,278.80 L297.40,279.09 L297.70,279.37 L298.00,279.64 L298.30,279.92 L298.60,280.19 L298.90,280.46 L299.20,280.73 L299.50,281.00 L299.80,281.26 L300.10,281.53 L300.40,281.79 L300.70,282.06 L301.00,282.32 L301.30,282.59 L301.60,282.85 L301.90,283.12 L302.20,283.39 L302.50,283.66" fill="none" stroke="#eb9a2c" stroke-width="1.1" stroke-linejoin="round"/>
<path d="M266.50,295.44 L266.80,295.35 L267.10,295.27 L267.40,295.18 L267.70,295.11 L268.00,295.03 L268.30,294.95 L268.60,294.88 L268.90,294.80 L269.20,294.72 L269.50,294.64 L269.80,294.56 L270.10,294.48 L270.40,294.39 L270.70,294.30 L271.00,294.20 L271.30,294.10 L271.60,293.99 L271.90,293.88 L272.20,293.76 L272.50,293.63 L272.80,293.48 L273.10,293.31 L273.40,293.12 L273.70,292.92 L274.00,292.70 L274.30,292.47 L274.60,292.24 L274.90,292.01 L275.20,291.78 L275.50,291.56 L275.80,291.34 L276.10,291.14 L276.40,290.93 L276.70,290.71 L277.00,290.48 L277.30,290.26 L277.60,290.04 L277.90,289.83 L278.20,289.65 L278.50,289.50 L278.80,289.39 L279.10,289.32 L279.40,289.31 L279.70,289.34 L280.00,289.43 L280.30,289.59 L280.60,289.80 L280.90,290.09 L281.20,290.46 L281.50,290.94 L281.80,291.55 L282.10,292.24 L282.40,292.98 L282.70,293.71 L283.00,294.39 L283.30,294.99 L283.60,295.64 L283.90,296.30 L284.20,296.65 L284.50,296.35 L284.80,295.18 L285.10,293.36 L285.40,291.22 L285.70,289.10 L286.00,286.85 L286.30,284.34 L286.60,281.86 L286.90,279.73 L287.20,278.23 L287.50,277.28 L287.80,276.57 L288.10,276.05 L288.40,275.69 L288.70,275.45 L289.00,275.30 L289.30,275.18 L289.60,275.06 L289.90,274.96 L290.20,274.93 L290.50,274.97 L290.80,275.05 L291.10,275.18 L291.40,275.35 L291.70,275.54 L292.00,275.75 L292.30,275.96 L292.60,276.19 L292.90,276.44 L293.20,276.70 L293.50,276.98 L293.80,277.28 L294.10,277.58 L294.40,277.89 L294.70,278.20 L295.00,278.52 L295.30,278.84 L295.60,279.15 L295.90,279.45 L296.20,279.75 L296.50,280.04 L296.80,280.32 L297.10,280.59 L297.40,280.87 L297.70,281.15 L298.00,281.42 L298.30,281.69 L298.60,281.96 L298.90,282.24 L299.20,282.51 L299.50,282.78 L299.80,283.05 L300.10,283.31 L300.40,283.58 L300.70,283.85 L301.00,284.12 L301.30,284.39 L301.60,284.66 L301.90,284.93 L302.20,285.20 L302.50,285.47" fill="none" stroke="#4a4040" stroke-width="0.8" stroke-linejoin="round"/>
</g>
<rect x="266.5" y="270.5" width="36.0" height="34.0" fill="none" stroke="#333" stroke-width="0.8"/>
<line x1="264.7" y1="295.44" x2="266.5" y2="295.44" stroke="#333" stroke-width="0.6"/>
<line x1="264.7" y1="286.38" x2="266.5" y2="286.38" stroke="#333" stroke-width="0.6"/>
<line x1="264.7" y1="277.32" x2="266.5" y2="277.32" stroke="#333" stroke-width="0.6"/>
<line x1="266.5" y1="304.5" x2="266.5" y2="306.3" stroke="#333" stroke-width="0.6"/>
<line x1="284.5" y1="304.5" x2="284.5" y2="306.3" stroke="#333" stroke-width="0.6"/>
<line x1="302.5" y1="304.5" x2="302.5" y2="306.3" stroke="#333" stroke-width="0.6"/>
<text x="265.3" y="316.3" font-size="7.2" fill="#333" text-anchor="middle">−3</text>
<text x="284.5" y="316.3" font-size="7.2" fill="#333" text-anchor="middle">0</text>
<text x="302.5" y="316.3" font-size="7.2" fill="#333" text-anchor="middle">3</text>
<defs><clipPath id="clipE2"><rect x="222.5" y="320.5" width="36.0" height="34.0"/></clipPath></defs>
<g clip-path="url(#clipE2)">
<path d="M222.50,351.80 L222.80,351.78 L223.10,351.76 L223.40,351.74 L223.70,351.72 L224.00,351.71 L224.30,351.69 L224.60,351.68 L224.90,351.66 L225.20,351.64 L225.50,351.63 L225.80,351.61 L226.10,351.59 L226.40,351.57 L226.70,351.55 L227.00,351.52 L227.30,351.49 L227.60,351.46 L227.90,351.43 L228.20,351.39 L228.50,351.35 L228.80,351.30 L229.10,351.25 L229.40,351.20 L229.70,351.14 L230.00,351.07 L230.30,351.01 L230.60,350.94 L230.90,350.86 L231.20,350.79 L231.50,350.71 L231.80,350.63 L232.10,350.55 L232.40,350.47 L232.70,350.39 L233.00,350.31 L233.30,350.23 L233.60,350.13 L233.90,350.02 L234.20,349.90 L234.50,349.77 L234.80,349.63 L235.10,349.50 L235.40,349.38 L235.70,349.26 L236.00,349.17 L236.30,349.10 L236.60,349.06 L236.90,349.06 L237.20,349.10 L237.50,349.20 L237.80,349.36 L238.10,349.58 L238.40,349.83 L238.70,350.12 L239.00,350.45 L239.30,350.96 L239.60,351.67 L239.90,352.40 L240.20,352.96 L240.50,353.15 L240.80,352.74 L241.10,351.85 L241.40,350.82 L241.70,350.00 L242.00,349.39 L242.30,348.79 L242.60,348.28 L242.90,347.89 L243.20,347.70 L243.50,347.71 L243.80,347.85 L244.10,348.08 L244.40,348.37 L244.70,348.66 L245.00,348.92 L245.30,349.10 L245.60,349.23 L245.90,349.35 L246.20,349.47 L246.50,349.58 L246.80,349.69 L247.10,349.80 L247.40,349.90 L247.70,349.99 L248.00,350.08 L248.30,350.16 L248.60,350.24 L248.90,350.32 L249.20,350.39 L249.50,350.45 L249.80,350.51 L250.10,350.57 L250.40,350.62 L250.70,350.68 L251.00,350.73 L251.30,350.78 L251.60,350.83 L251.90,350.88 L252.20,350.93 L252.50,350.97 L252.80,351.02 L253.10,351.06 L253.40,351.10 L253.70,351.15 L254.00,351.19 L254.30,351.23 L254.60,351.27 L254.90,351.31 L255.20,351.35 L255.50,351.39 L255.80,351.43 L256.10,351.47 L256.40,351.51 L256.70,351.55 L257.00,351.59 L257.30,351.63 L257.60,351.67 L257.90,351.71 L258.20,351.76 L258.50,351.80" fill="none" stroke="#eb9a2c" stroke-width="0.6" stroke-dasharray="1,1.2" stroke-linejoin="round"/>
<path d="M222.50,351.80 L222.80,351.78 L223.10,351.76 L223.40,351.74 L223.70,351.72 L224.00,351.71 L224.30,351.69 L224.60,351.68 L224.90,351.66 L225.20,351.64 L225.50,351.63 L225.80,351.61 L226.10,351.59 L226.40,351.57 L226.70,351.55 L227.00,351.52 L227.30,351.49 L227.60,351.46 L227.90,351.43 L228.20,351.39 L228.50,351.35 L228.80,351.31 L229.10,351.26 L229.40,351.21 L229.70,351.15 L230.00,351.10 L230.30,351.04 L230.60,350.98 L230.90,350.91 L231.20,350.84 L231.50,350.76 L231.80,350.69 L232.10,350.60 L232.40,350.52 L232.70,350.42 L233.00,350.33 L233.30,350.23 L233.60,350.10 L233.90,349.94 L234.20,349.76 L234.50,349.56 L234.80,349.36 L235.10,349.15 L235.40,348.95 L235.70,348.78 L236.00,348.63 L236.30,348.51 L236.60,348.44 L236.90,348.43 L237.20,348.50 L237.50,348.68 L237.80,348.94 L238.10,349.28 L238.40,349.65 L238.70,350.05 L239.00,350.45 L239.30,350.99 L239.60,351.71 L239.90,352.42 L240.20,352.96 L240.50,353.15 L240.80,352.76 L241.10,351.89 L241.40,350.86 L241.70,350.00 L242.00,349.28 L242.30,348.52 L242.60,347.83 L242.90,347.32 L243.20,347.07 L243.50,347.11 L243.80,347.33 L244.10,347.68 L244.40,348.09 L244.70,348.50 L245.00,348.86 L245.30,349.10 L245.60,349.25 L245.90,349.40 L246.20,349.53 L246.50,349.65 L246.80,349.76 L247.10,349.86 L247.40,349.95 L247.70,350.03 L248.00,350.11 L248.30,350.19 L248.60,350.26 L248.90,350.32 L249.20,350.39 L249.50,350.45 L249.80,350.51 L250.10,350.57 L250.40,350.62 L250.70,350.68 L251.00,350.73 L251.30,350.78 L251.60,350.83 L251.90,350.88 L252.20,350.93 L252.50,350.97 L252.80,351.02 L253.10,351.06 L253.40,351.10 L253.70,351.15 L254.00,351.19 L254.30,351.23 L254.60,351.27 L254.90,351.31 L255.20,351.35 L255.50,351.39 L255.80,351.43 L256.10,351.47 L256.40,351.51 L256.70,351.55 L257.00,351.59 L257.30,351.63 L257.60,351.67 L257.90,351.71 L258.20,351.76 L258.50,351.80" fill="none" stroke="#eb9a2c" stroke-width="0.9" stroke-linejoin="round"/>
<path d="M222.50,351.80 L222.80,351.78 L223.10,351.76 L223.40,351.74 L223.70,351.72 L224.00,351.71 L224.30,351.69 L224.60,351.68 L224.90,351.66 L225.20,351.64 L225.50,351.63 L225.80,351.61 L226.10,351.59 L226.40,351.57 L226.70,351.55 L227.00,351.52 L227.30,351.49 L227.60,351.46 L227.90,351.43 L228.20,351.39 L228.50,351.35 L228.80,351.30 L229.10,351.26 L229.40,351.20 L229.70,351.15 L230.00,351.09 L230.30,351.02 L230.60,350.96 L230.90,350.89 L231.20,350.81 L231.50,350.74 L231.80,350.66 L232.10,350.58 L232.40,350.49 L232.70,350.41 L233.00,350.32 L233.30,350.23 L233.60,350.12 L233.90,349.98 L234.20,349.83 L234.50,349.66 L234.80,349.49 L235.10,349.32 L235.40,349.17 L235.70,349.02 L236.00,348.90 L236.30,348.81 L236.60,348.75 L236.90,348.74 L237.20,348.80 L237.50,348.94 L237.80,349.15 L238.10,349.43 L238.40,349.74 L238.70,350.09 L239.00,350.45 L239.30,350.97 L239.60,351.69 L239.90,352.41 L240.20,352.96 L240.50,353.15 L240.80,352.75 L241.10,351.87 L241.40,350.84 L241.70,350.00 L242.00,349.33 L242.30,348.66 L242.60,348.06 L242.90,347.61 L243.20,347.39 L243.50,347.41 L243.80,347.59 L244.10,347.88 L244.40,348.23 L244.70,348.58 L245.00,348.89 L245.30,349.10 L245.60,349.24 L245.90,349.37 L246.20,349.50 L246.50,349.61 L246.80,349.72 L247.10,349.83 L247.40,349.92 L247.70,350.01 L248.00,350.10 L248.30,350.18 L248.60,350.25 L248.90,350.32 L249.20,350.39 L249.50,350.45 L249.80,350.51 L250.10,350.57 L250.40,350.62 L250.70,350.68 L251.00,350.73 L251.30,350.78 L251.60,350.83 L251.90,350.88 L252.20,350.93 L252.50,350.97 L252.80,351.02 L253.10,351.06 L253.40,351.10 L253.70,351.15 L254.00,351.19 L254.30,351.23 L254.60,351.27 L254.90,351.31 L255.20,351.35 L255.50,351.39 L255.80,351.43 L256.10,351.47 L256.40,351.51 L256.70,351.55 L257.00,351.59 L257.30,351.63 L257.60,351.67 L257.90,351.71 L258.20,351.76 L258.50,351.80" fill="none" stroke="#4a4040" stroke-width="0.7" stroke-linejoin="round"/>
</g>
<rect x="222.5" y="320.5" width="36.0" height="34.0" fill="none" stroke="#333" stroke-width="0.8"/>
<line x1="220.7" y1="345.5" x2="222.5" y2="345.5" stroke="#333" stroke-width="0.6"/>
<text x="217.5" y="347.9" font-size="6.9" fill="#333" text-anchor="end">2</text>
<line x1="220.7" y1="336.5" x2="222.5" y2="336.5" stroke="#333" stroke-width="0.6"/>
<text x="217.5" y="338.9" font-size="6.9" fill="#333" text-anchor="end">4</text>
<line x1="220.7" y1="327.5" x2="222.5" y2="327.5" stroke="#333" stroke-width="0.6"/>
<text x="217.5" y="329.9" font-size="6.9" fill="#333" text-anchor="end">6</text>
<line x1="222.5" y1="354.5" x2="222.5" y2="356.3" stroke="#333" stroke-width="0.6"/>
<line x1="240.5" y1="354.5" x2="240.5" y2="356.3" stroke="#333" stroke-width="0.6"/>
<line x1="258.5" y1="354.5" x2="258.5" y2="356.3" stroke="#333" stroke-width="0.6"/>
<text x="221.3" y="365.6" font-size="7.2" fill="#333" text-anchor="middle">−3</text>
<text x="240.5" y="365.6" font-size="7.2" fill="#333" text-anchor="middle">0</text>
<text x="258.5" y="365.6" font-size="7.2" fill="#333" text-anchor="middle">3</text>
<defs><clipPath id="clipE3"><rect x="266.5" y="320.5" width="36.0" height="34.0"/></clipPath></defs>
<g clip-path="url(#clipE3)">
<path d="M266.50,350.00 L266.80,349.93 L267.10,349.86 L267.40,349.79 L267.70,349.72 L268.00,349.65 L268.30,349.58 L268.60,349.52 L268.90,349.45 L269.20,349.38 L269.50,349.31 L269.80,349.24 L270.10,349.17 L270.40,349.10 L270.70,349.03 L271.00,348.96 L271.30,348.89 L271.60,348.81 L271.90,348.74 L272.20,348.66 L272.50,348.58 L272.80,348.50 L273.10,348.42 L273.40,348.34 L273.70,348.25 L274.00,348.17 L274.30,348.08 L274.60,347.99 L274.90,347.90 L275.20,347.81 L275.50,347.72 L275.80,347.63 L276.10,347.54 L276.40,347.45 L276.70,347.35 L277.00,347.26 L277.30,347.17 L277.60,347.06 L277.90,346.93 L278.20,346.79 L278.50,346.64 L278.80,346.49 L279.10,346.34 L279.40,346.21 L279.70,346.09 L280.00,346.00 L280.30,345.94 L280.60,345.92 L280.90,345.95 L281.20,346.06 L281.50,346.28 L281.80,346.60 L282.10,347.01 L282.40,347.51 L282.70,348.09 L283.00,348.97 L283.30,350.19 L283.60,351.42 L283.90,352.36 L284.20,352.70 L284.50,352.05 L284.80,350.61 L285.10,348.90 L285.40,347.48 L285.70,346.34 L286.00,345.19 L286.30,344.15 L286.60,343.31 L286.90,342.80 L287.20,342.63 L287.50,342.72 L287.80,342.98 L288.10,343.33 L288.40,343.69 L288.70,343.97 L289.00,344.20 L289.30,344.46 L289.60,344.73 L289.90,345.00 L290.20,345.28 L290.50,345.54 L290.80,345.78 L291.10,346.00 L291.40,346.17 L291.70,346.31 L292.00,346.41 L292.30,346.49 L292.60,346.55 L292.90,346.59 L293.20,346.63 L293.50,346.65 L293.80,346.66 L294.10,346.67 L294.40,346.68 L294.70,346.68 L295.00,346.69 L295.30,346.70 L295.60,346.72 L295.90,346.75 L296.20,346.79 L296.50,346.85 L296.80,346.92 L297.10,346.99 L297.40,347.07 L297.70,347.15 L298.00,347.23 L298.30,347.32 L298.60,347.41 L298.90,347.50 L299.20,347.59 L299.50,347.69 L299.80,347.78 L300.10,347.88 L300.40,347.98 L300.70,348.08 L301.00,348.18 L301.30,348.27 L301.60,348.37 L301.90,348.47 L302.20,348.56 L302.50,348.65" fill="none" stroke="#eb9a2c" stroke-width="0.7" stroke-dasharray="1,1.2" stroke-linejoin="round"/>
<path d="M266.50,349.55 L266.80,349.46 L267.10,349.38 L267.40,349.29 L267.70,349.21 L268.00,349.13 L268.30,349.04 L268.60,348.96 L268.90,348.88 L269.20,348.79 L269.50,348.71 L269.80,348.62 L270.10,348.54 L270.40,348.45 L270.70,348.37 L271.00,348.28 L271.30,348.19 L271.60,348.10 L271.90,348.01 L272.20,347.91 L272.50,347.82 L272.80,347.72 L273.10,347.62 L273.40,347.52 L273.70,347.42 L274.00,347.31 L274.30,347.21 L274.60,347.10 L274.90,346.99 L275.20,346.88 L275.50,346.77 L275.80,346.65 L276.10,346.54 L276.40,346.43 L276.70,346.31 L277.00,346.20 L277.30,346.08 L277.60,345.96 L277.90,345.80 L278.20,345.63 L278.50,345.45 L278.80,345.26 L279.10,345.09 L279.40,344.93 L279.70,344.79 L280.00,344.67 L280.30,344.60 L280.60,344.57 L280.90,344.60 L281.20,344.72 L281.50,344.97 L281.80,345.34 L282.10,345.82 L282.40,346.40 L282.70,347.07 L283.00,348.12 L283.30,349.56 L283.60,351.02 L283.90,352.11 L284.20,352.48 L284.50,351.62 L284.80,349.79 L285.10,347.64 L285.40,345.86 L285.70,344.44 L286.00,343.03 L286.30,341.75 L286.60,340.73 L286.90,340.10 L287.20,339.90 L287.50,340.00 L287.80,340.32 L288.10,340.75 L288.40,341.19 L288.70,341.54 L289.00,341.82 L289.30,342.13 L289.60,342.45 L289.90,342.78 L290.20,343.11 L290.50,343.42 L290.80,343.72 L291.10,343.99 L291.40,344.23 L291.70,344.42 L292.00,344.58 L292.30,344.73 L292.60,344.85 L292.90,344.97 L293.20,345.08 L293.50,345.17 L293.80,345.26 L294.10,345.34 L294.40,345.42 L294.70,345.49 L295.00,345.56 L295.30,345.63 L295.60,345.70 L295.90,345.78 L296.20,345.86 L296.50,345.95 L296.80,346.04 L297.10,346.13 L297.40,346.23 L297.70,346.32 L298.00,346.41 L298.30,346.50 L298.60,346.59 L298.90,346.68 L299.20,346.77 L299.50,346.86 L299.80,346.95 L300.10,347.03 L300.40,347.12 L300.70,347.21 L301.00,347.30 L301.30,347.39 L301.60,347.48 L301.90,347.57 L302.20,347.66 L302.50,347.75" fill="none" stroke="#9a8e8a" stroke-width="0.7" stroke-dasharray="1,1.2" stroke-linejoin="round"/>
<path d="M266.50,349.55 L266.80,349.45 L267.10,349.35 L267.40,349.25 L267.70,349.15 L268.00,349.05 L268.30,348.95 L268.60,348.85 L268.90,348.75 L269.20,348.65 L269.50,348.55 L269.80,348.45 L270.10,348.35 L270.40,348.25 L270.70,348.15 L271.00,348.05 L271.30,347.94 L271.60,347.83 L271.90,347.73 L272.20,347.62 L272.50,347.50 L272.80,347.39 L273.10,347.27 L273.40,347.15 L273.70,347.03 L274.00,346.90 L274.30,346.78 L274.60,346.65 L274.90,346.52 L275.20,346.39 L275.50,346.26 L275.80,346.13 L276.10,346.00 L276.40,345.86 L276.70,345.73 L277.00,345.59 L277.30,345.45 L277.60,345.30 L277.90,345.12 L278.20,344.92 L278.50,344.71 L278.80,344.50 L279.10,344.30 L279.40,344.11 L279.70,343.94 L280.00,343.81 L280.30,343.72 L280.60,343.68 L280.90,343.70 L281.20,343.82 L281.50,344.08 L281.80,344.48 L282.10,345.00 L282.40,345.64 L282.70,346.40 L283.00,347.59 L283.30,349.25 L283.60,350.94 L283.90,352.23 L284.20,352.70 L284.50,351.81 L284.80,349.82 L285.10,347.50 L285.40,345.59 L285.70,344.11 L286.00,342.65 L286.30,341.34 L286.60,340.29 L286.90,339.65 L287.20,339.44 L287.50,339.55 L287.80,339.88 L288.10,340.32 L288.40,340.78 L288.70,341.13 L289.00,341.43 L289.30,341.75 L289.60,342.08 L289.90,342.42 L290.20,342.76 L290.50,343.09 L290.80,343.39 L291.10,343.67 L291.40,343.91 L291.70,344.11 L292.00,344.26 L292.30,344.40 L292.60,344.53 L292.90,344.63 L293.20,344.73 L293.50,344.82 L293.80,344.89 L294.10,344.96 L294.40,345.03 L294.70,345.09 L295.00,345.15 L295.30,345.21 L295.60,345.27 L295.90,345.34 L296.20,345.42 L296.50,345.50 L296.80,345.59 L297.10,345.68 L297.40,345.77 L297.70,345.86 L298.00,345.95 L298.30,346.04 L298.60,346.13 L298.90,346.22 L299.20,346.31 L299.50,346.40 L299.80,346.49 L300.10,346.58 L300.40,346.67 L300.70,346.76 L301.00,346.85 L301.30,346.94 L301.60,347.03 L301.90,347.12 L302.20,347.21 L302.50,347.30" fill="none" stroke="#eb9a2c" stroke-width="0.9" stroke-linejoin="round"/>
<path d="M266.50,349.10 L266.80,348.99 L267.10,348.88 L267.40,348.77 L267.70,348.67 L268.00,348.56 L268.30,348.45 L268.60,348.35 L268.90,348.24 L269.20,348.14 L269.50,348.03 L269.80,347.92 L270.10,347.81 L270.40,347.70 L270.70,347.59 L271.00,347.48 L271.30,347.37 L271.60,347.25 L271.90,347.14 L272.20,347.02 L272.50,346.89 L272.80,346.77 L273.10,346.64 L273.40,346.52 L273.70,346.38 L274.00,346.25 L274.30,346.12 L274.60,345.98 L274.90,345.84 L275.20,345.70 L275.50,345.56 L275.80,345.42 L276.10,345.27 L276.40,345.13 L276.70,344.98 L277.00,344.84 L277.30,344.69 L277.60,344.53 L277.90,344.33 L278.20,344.12 L278.50,343.89 L278.80,343.66 L279.10,343.44 L279.40,343.24 L279.70,343.06 L280.00,342.92 L280.30,342.82 L280.60,342.78 L280.90,342.80 L281.20,342.93 L281.50,343.22 L281.80,343.65 L282.10,344.21 L282.40,344.91 L282.70,345.73 L283.00,347.02 L283.30,348.83 L283.60,350.66 L283.90,352.04 L284.20,352.48 L284.50,351.36 L284.80,348.99 L285.10,346.23 L285.40,343.97 L285.70,342.21 L286.00,340.49 L286.30,338.94 L286.60,337.71 L286.90,336.95 L287.20,336.70 L287.50,336.83 L287.80,337.22 L288.10,337.74 L288.40,338.28 L288.70,338.70 L289.00,339.05 L289.30,339.42 L289.60,339.80 L289.90,340.20 L290.20,340.59 L290.50,340.97 L290.80,341.33 L291.10,341.67 L291.40,341.96 L291.70,342.21 L292.00,342.43 L292.30,342.64 L292.60,342.83 L292.90,343.01 L293.20,343.18 L293.50,343.34 L293.80,343.49 L294.10,343.63 L294.40,343.76 L294.70,343.89 L295.00,344.02 L295.30,344.14 L295.60,344.25 L295.90,344.37 L296.20,344.48 L296.50,344.60 L296.80,344.71 L297.10,344.82 L297.40,344.93 L297.70,345.03 L298.00,345.12 L298.30,345.22 L298.60,345.31 L298.90,345.40 L299.20,345.48 L299.50,345.57 L299.80,345.65 L300.10,345.73 L300.40,345.81 L300.70,345.89 L301.00,345.97 L301.30,346.06 L301.60,346.14 L301.90,346.22 L302.20,346.31 L302.50,346.40" fill="none" stroke="#4a4040" stroke-width="0.8" stroke-linejoin="round"/>
<path d="M266.50,348.65 L266.80,348.52 L267.10,348.38 L267.40,348.25 L267.70,348.12 L268.00,347.99 L268.30,347.87 L268.60,347.74 L268.90,347.61 L269.20,347.48 L269.50,347.35 L269.80,347.22 L270.10,347.09 L270.40,346.95 L270.70,346.82 L271.00,346.68 L271.30,346.55 L271.60,346.41 L271.90,346.26 L272.20,346.12 L272.50,345.97 L272.80,345.82 L273.10,345.67 L273.40,345.51 L273.70,345.35 L274.00,345.19 L274.30,345.03 L274.60,344.86 L274.90,344.69 L275.20,344.52 L275.50,344.35 L275.80,344.18 L276.10,344.00 L276.40,343.83 L276.70,343.65 L277.00,343.47 L277.30,343.30 L277.60,343.10 L277.90,342.86 L278.20,342.60 L278.50,342.33 L278.80,342.06 L279.10,341.79 L279.40,341.55 L279.70,341.33 L280.00,341.16 L280.30,341.04 L280.60,340.98 L280.90,341.00 L281.20,341.15 L281.50,341.47 L281.80,341.97 L282.10,342.62 L282.40,343.42 L282.70,344.38 L283.00,345.92 L283.30,348.09 L283.60,350.28 L283.90,351.87 L284.20,352.25 L284.50,350.60 L284.80,347.31 L285.10,343.54 L285.40,340.46 L285.70,338.08 L286.00,335.78 L286.30,333.73 L286.60,332.11 L286.90,331.10 L287.20,330.77 L287.50,330.94 L287.80,331.46 L288.10,332.16 L288.40,332.87 L288.70,333.44 L289.00,333.89 L289.30,334.36 L289.60,334.85 L289.90,335.34 L290.20,335.84 L290.50,336.33 L290.80,336.81 L291.10,337.27 L291.40,337.71 L291.70,338.12 L292.00,338.52 L292.30,338.92 L292.60,339.32 L292.90,339.73 L293.20,340.13 L293.50,340.52 L293.80,340.91 L294.10,341.29 L294.40,341.66 L294.70,342.01 L295.00,342.35 L295.30,342.66 L295.60,342.96 L295.90,343.23 L296.20,343.48 L296.50,343.70 L296.80,343.89 L297.10,344.07 L297.40,344.22 L297.70,344.35 L298.00,344.47 L298.30,344.58 L298.60,344.67 L298.90,344.75 L299.20,344.82 L299.50,344.89 L299.80,344.95 L300.10,345.00 L300.40,345.05 L300.70,345.10 L301.00,345.16 L301.30,345.21 L301.60,345.27 L301.90,345.34 L302.20,345.42 L302.50,345.50" fill="none" stroke="#8090a8" stroke-width="0.9" stroke-linejoin="round"/>
</g>
<rect x="266.5" y="320.5" width="36.0" height="34.0" fill="none" stroke="#333" stroke-width="0.8"/>
<line x1="264.7" y1="345.5" x2="266.5" y2="345.5" stroke="#333" stroke-width="0.6"/>
<line x1="264.7" y1="336.5" x2="266.5" y2="336.5" stroke="#333" stroke-width="0.6"/>
<line x1="264.7" y1="327.5" x2="266.5" y2="327.5" stroke="#333" stroke-width="0.6"/>
<line x1="266.5" y1="354.5" x2="266.5" y2="356.3" stroke="#333" stroke-width="0.6"/>
<line x1="284.5" y1="354.5" x2="284.5" y2="356.3" stroke="#333" stroke-width="0.6"/>
<line x1="302.5" y1="354.5" x2="302.5" y2="356.3" stroke="#333" stroke-width="0.6"/>
<text x="265.3" y="365.6" font-size="7.2" fill="#333" text-anchor="middle">−3</text>
<text x="284.5" y="365.6" font-size="7.2" fill="#333" text-anchor="middle">0</text>
<text x="302.5" y="365.6" font-size="7.2" fill="#333" text-anchor="middle">3</text>
<text x="208.0" y="288.5" font-size="8.0" fill="#333" text-anchor="middle" textLength="39" lengthAdjust="spacingAndGlyphs" transform="rotate(-90 208.0 288.5)" stroke="#333" stroke-width="0.14">Menin signal</text>
<text x="206.0" y="341" font-size="8.0" fill="#333" text-anchor="middle" textLength="53" lengthAdjust="spacingAndGlyphs" transform="rotate(-90 206.0 341)" stroke="#333" stroke-width="0.14">H2AK119ub signal</text>
<text x="232.5" y="378.2" font-size="8.4" fill="#333" textLength="56.3" lengthAdjust="spacingAndGlyphs" stroke="#333" stroke-width="0.14">Distance to TSS(kb)</text>
<line x1="305" y1="278.7" x2="308.6" y2="278.7" stroke="#555" stroke-width="0.9"/>
<text x="312.5" y="280.6" font-size="6.3" fill="#333">sg<tspan font-style="italic">Luc</tspan>;</text>
<text x="312.5" y="288.0" font-size="6.3" fill="#333">DMSO</text>
<line x1="305" y1="294.6" x2="308.6" y2="294.6" stroke="#888" stroke-width="0.9" stroke-dasharray="1,1"/>
<text x="312.5" y="296.6" font-size="6.3" fill="#333">sg<tspan font-style="italic">Luc</tspan>;</text>
<text x="312.5" y="304.0" font-size="6.3" fill="#333" textLength="29.5" lengthAdjust="spacingAndGlyphs">VTP50469</text>
<line x1="305" y1="328.7" x2="308.6" y2="328.7" stroke="#eb9a2c" stroke-width="0.9"/>
<text x="312.5" y="330.5" font-size="6.3" fill="#333" textLength="31.5" lengthAdjust="spacingAndGlyphs">sgPCGF1;</text>
<text x="312.5" y="337.5" font-size="6.3" fill="#333">DMSO</text>
<line x1="305" y1="345.2" x2="308.6" y2="345.2" stroke="#eb9a2c" stroke-width="0.9" stroke-dasharray="1,1"/>
<text x="312.5" y="347.0" font-size="6.3" fill="#333" textLength="31.5" lengthAdjust="spacingAndGlyphs">sgPCGF1;</text>
<text x="312.5" y="353.7" font-size="6.3" fill="#333" textLength="29.5" lengthAdjust="spacingAndGlyphs">VTP50469</text>
<text x="349.6" y="240.5" font-size="10.5" fill="#111" font-weight="bold">F</text>
<text x="352.4" y="255.4" font-size="6.6" fill="#333" textLength="39.3" lengthAdjust="spacingAndGlyphs">Menin targets</text>
<text x="352.4" y="262.0" font-size="6.6" fill="#333">n = 329</text>
<path d="M393.6,256.3 Q410,251.5 437,243.7" fill="none" stroke="#222" stroke-width="0.8"/>
<path d="M439.3,243.2 L434.8,241.6 L435.8,245.3 Z" fill="#222" stroke="none" stroke-width="0.6"/>
<path d="M393.6,258.0 Q412,262.5 437,271.5" fill="none" stroke="#222" stroke-width="0.8"/>
<path d="M439.3,271.6 L434.9,273.3 L435.5,269.5 Z" fill="#222" stroke="none" stroke-width="0.6"/>
<text x="412.3" y="247.6" font-size="6.6" fill="#333" text-anchor="middle" textLength="30.5" lengthAdjust="spacingAndGlyphs" transform="rotate(-19 412.3 247.6)">Menin only</text>
<text x="415.0" y="273.0" font-size="6.6" fill="#333" text-anchor="middle" textLength="40" lengthAdjust="spacingAndGlyphs" transform="rotate(16 415.0 273.0)">Menin/K119ub</text>
<text x="441.5" y="244.4" font-size="6.6" fill="#45a9dd" textLength="58.3" lengthAdjust="spacingAndGlyphs">Type I Menin targets</text>
<text x="441.5" y="251.6" font-size="6.6" fill="#45a9dd">n = 193</text>
<text x="441.5" y="273.8" font-size="6.6" fill="#c8213f" textLength="59.5" lengthAdjust="spacingAndGlyphs">Type II Menin targets</text>
<text x="441.5" y="280.5" font-size="6.6" fill="#c8213f">n = 136</text>
<text x="349" y="300.7" font-size="10.5" fill="#111" font-weight="bold">G</text>
<text x="386.8" y="313" font-size="6.3" fill="#333" textLength="32" lengthAdjust="spacingAndGlyphs"><tspan font-style="italic">P</tspan> &lt; 2.2e-16</text>
<line x1="377.4" y1="317.7" x2="377.4" y2="372.7" stroke="#222" stroke-width="1.0"/>
<line x1="376.9" y1="372.7" x2="429.5" y2="372.7" stroke="#222" stroke-width="1.0"/>
<line x1="375.2" y1="330" x2="377.4" y2="330" stroke="#222" stroke-width="0.8"/>
<text x="374.0" y="332.2" font-size="6.3" fill="#333" text-anchor="end">6</text>
<line x1="375.2" y1="343.4" x2="377.4" y2="343.4" stroke="#222" stroke-width="0.8"/>
<text x="374.0" y="345.59999999999997" font-size="6.3" fill="#333" text-anchor="end">3</text>
<line x1="375.2" y1="356.7" x2="377.4" y2="356.7" stroke="#222" stroke-width="0.8"/>
<text x="374.0" y="358.9" font-size="6.3" fill="#333" text-anchor="end">0</text>
<line x1="375.2" y1="370.3" x2="377.4" y2="370.3" stroke="#222" stroke-width="0.8"/>
<text x="374.0" y="372.5" font-size="6.3" fill="#333" text-anchor="end">−3</text>
<line x1="390.6" y1="372.7" x2="390.6" y2="374.7" stroke="#222" stroke-width="0.8"/>
<line x1="412.3" y1="372.7" x2="412.3" y2="374.7" stroke="#222" stroke-width="0.8"/>
<line x1="390.6" y1="326.2" x2="390.6" y2="342.8" stroke="#5ab0e0" stroke-width="0.9"/>
<line x1="390.6" y1="350.7" x2="390.6" y2="357.5" stroke="#5ab0e0" stroke-width="0.9"/>
<rect x="383.40" y="342.80" width="14.40" height="7.90" fill="#a8d2ef" stroke="#5ab0e0" stroke-width="0.5"/>
<line x1="383.40000000000003" y1="347" x2="397.8" y2="347" stroke="#5aa8da" stroke-width="1.0"/>
<circle cx="390.60" cy="319.60" r="1.0" fill="#5ab0e0"/>
<circle cx="390.60" cy="320.70" r="1.0" fill="#5ab0e0"/>
<circle cx="390.60" cy="321.80" r="1.0" fill="#5ab0e0"/>
<circle cx="390.60" cy="322.90" r="1.0" fill="#5ab0e0"/>
<circle cx="390.60" cy="324.00" r="1.0" fill="#5ab0e0"/>
<circle cx="390.60" cy="325.10" r="1.0" fill="#5ab0e0"/>
<line x1="412.3" y1="345.0" x2="412.3" y2="352.6" stroke="#d84a44" stroke-width="0.9"/>
<line x1="412.3" y1="358.2" x2="412.3" y2="365.8" stroke="#d84a44" stroke-width="0.9"/>
<rect x="404.80" y="352.60" width="15.00" height="5.60" fill="#ee8a7a" stroke="#d84a44" stroke-width="0.5"/>
<line x1="404.8" y1="355.4" x2="419.8" y2="355.4" stroke="#c83a38" stroke-width="1.0"/>
<circle cx="412.30" cy="334.70" r="1.1" fill="#d84a44"/>
<circle cx="412.30" cy="338.50" r="1.1" fill="#d84a44"/>
<circle cx="412.30" cy="341.30" r="1.1" fill="#d84a44"/>
<circle cx="412.30" cy="343.20" r="1.0" fill="#d84a44"/>
<circle cx="412.30" cy="370.50" r="1.1" fill="#d84a44"/>
<text x="383" y="385.2" font-size="6.6" fill="#333" textLength="15.8" lengthAdjust="spacingAndGlyphs">Type I</text>
<text x="403.2" y="385.2" font-size="6.6" fill="#333" textLength="18.8" lengthAdjust="spacingAndGlyphs">Type II</text>
<text x="403.9" y="395.8" font-size="7.5" fill="#333" text-anchor="middle" textLength="41.8" lengthAdjust="spacingAndGlyphs" stroke="#333" stroke-width="0.14">Menin targets</text>
<text x="357.0" y="345" font-size="7.6" fill="#333" text-anchor="middle" textLength="62" lengthAdjust="spacingAndGlyphs" transform="rotate(-90 357.0 345)" stroke="#333" stroke-width="0.14">log<tspan font-size="5.4" dy="1.5">2</tspan><tspan dy="-1.5">(Menin/K119ub)</tspan></text>
<text x="440" y="301.1" font-size="10.5" fill="#111" font-weight="bold">H</text>
<text x="474.4" y="313" font-size="6.3" fill="#333" textLength="33.2" lengthAdjust="spacingAndGlyphs"><tspan font-style="italic">P</tspan> = 1.6e-15</text>
<line x1="470.2" y1="318.6" x2="470.2" y2="373.3" stroke="#222" stroke-width="1.0"/>
<line x1="469.7" y1="373.3" x2="512.7" y2="373.3" stroke="#222" stroke-width="1.0"/>
<line x1="468.0" y1="320.2" x2="470.2" y2="320.2" stroke="#222" stroke-width="0.8"/>
<text x="466.8" y="322.4" font-size="6.3" fill="#333" text-anchor="end">1.00</text>
<line x1="468.0" y1="331.3" x2="470.2" y2="331.3" stroke="#222" stroke-width="0.8"/>
<text x="466.8" y="333.5" font-size="6.3" fill="#333" text-anchor="end">0.75</text>
<line x1="468.0" y1="342.2" x2="470.2" y2="342.2" stroke="#222" stroke-width="0.8"/>
<text x="466.8" y="344.4" font-size="6.3" fill="#333" text-anchor="end">0.50</text>
<line x1="468.0" y1="353.1" x2="470.2" y2="353.1" stroke="#222" stroke-width="0.8"/>
<text x="466.8" y="355.3" font-size="6.3" fill="#333" text-anchor="end">0.25</text>
<line x1="468.0" y1="364.3" x2="470.2" y2="364.3" stroke="#222" stroke-width="0.8"/>
<text x="466.8" y="366.5" font-size="6.3" fill="#333" text-anchor="end">0.00</text>
<line x1="482.1" y1="373.3" x2="482.1" y2="375.3" stroke="#222" stroke-width="0.8"/>
<line x1="501.5" y1="373.3" x2="501.5" y2="375.3" stroke="#222" stroke-width="0.8"/>
<line x1="482.1" y1="334.7" x2="482.1" y2="347.3" stroke="#5ab0e0" stroke-width="0.9"/>
<line x1="482.1" y1="355.4" x2="482.1" y2="371.4" stroke="#5ab0e0" stroke-width="0.9"/>
<rect x="475.50" y="347.30" width="13.20" height="8.10" fill="#a8d2ef" stroke="#5ab0e0" stroke-width="0.5"/>
<line x1="475.5" y1="351.2" x2="488.70000000000005" y2="351.2" stroke="#5aa8da" stroke-width="1.0"/>
<circle cx="482.10" cy="330.50" r="1.0" fill="#5ab0e0"/>
<line x1="501.5" y1="329.0" x2="501.5" y2="341.8" stroke="#d84a44" stroke-width="0.9"/>
<line x1="501.5" y1="349.4" x2="501.5" y2="359.2" stroke="#d84a44" stroke-width="0.9"/>
<rect x="494.70" y="341.80" width="13.60" height="7.60" fill="#ee8a7a" stroke="#d84a44" stroke-width="0.5"/>
<line x1="494.7" y1="345.5" x2="508.3" y2="345.5" stroke="#c83a38" stroke-width="1.0"/>
<circle cx="501.50" cy="320.20" r="1.1" fill="#d84a44"/>
<circle cx="501.50" cy="328.60" r="1.1" fill="#d84a44"/>
<circle cx="501.50" cy="363.90" r="1.1" fill="#d84a44"/>
<text x="474.4" y="385.2" font-size="6.6" fill="#333" textLength="15.8" lengthAdjust="spacingAndGlyphs">Type I</text>
<text x="492.0" y="385.2" font-size="6.6" fill="#333" textLength="18.8" lengthAdjust="spacingAndGlyphs">Type II</text>
<text x="491.9" y="395.8" font-size="7.5" fill="#333" text-anchor="middle" textLength="41.8" lengthAdjust="spacingAndGlyphs" stroke="#333" stroke-width="0.14">Menin targets</text>
<text x="446.6" y="346.4" font-size="7.6" fill="#333" text-anchor="middle" textLength="38.8" lengthAdjust="spacingAndGlyphs" transform="rotate(-90 446.6 346.4)" stroke="#333" stroke-width="0.14">Rescue index</text>
<text x="10.3" y="417.3" font-size="10.5" fill="#111" font-weight="bold">I</text>
<text x="65.3" y="427.6" font-size="6.6" fill="#c51f3d" text-anchor="middle" textLength="41.8" lengthAdjust="spacingAndGlyphs">Menin/K119ub</text>
<text x="65.3" y="435.3" font-size="6.6" fill="#c51f3d" text-anchor="middle" textLength="25.5" lengthAdjust="spacingAndGlyphs">Balanced</text>
<text x="121.6" y="427.6" font-size="6.6" fill="#52ade0" text-anchor="middle" textLength="17.5" lengthAdjust="spacingAndGlyphs">Menin</text>
<text x="121.7" y="435.0" font-size="6.6" fill="#52ade0" text-anchor="middle" textLength="27" lengthAdjust="spacingAndGlyphs">Dominant</text>
<line x1="91.5" y1="430.3" x2="102.5" y2="430.3" stroke="#111" stroke-width="0.7"/>
<path d="M90.2,430.3 L92.8,428.8 L92.8,431.8 Z" fill="#111" stroke="none" stroke-width="0.6"/>
<path d="M103.8,430.3 L101.2,428.8 L101.2,431.8 Z" fill="#111" stroke="none" stroke-width="0.6"/>
<defs><clipPath id="clipI"><rect x="46.9" y="437.8" width="87.29999999999998" height="76.49999999999994"/></clipPath></defs>
<g clip-path="url(#clipI)">
<circle cx="75.44" cy="481.08" r="0.65" fill="#52ade0" opacity="0.7"/>
<circle cx="101.24" cy="487.53" r="0.65" fill="#52ade0" opacity="0.7"/>
<circle cx="74.22" cy="484.29" r="0.65" fill="#52ade0" opacity="0.7"/>
<circle cx="95.23" cy="475.87" r="0.65" fill="#52ade0" opacity="0.7"/>
<circle cx="75.54" cy="493.17" r="0.65" fill="#52ade0" opacity="0.7"/>
<circle cx="97.88" cy="480.38" r="0.65" fill="#52ade0" opacity="0.7"/>
<circle cx="107.51" cy="476.70" r="0.65" fill="#52ade0" opacity="0.7"/>
<circle cx="88.49" cy="485.80" r="0.65" fill="#52ade0" opacity="0.7"/>
<circle cx="119.56" cy="485.90" r="0.65" fill="#52ade0" opacity="0.7"/>
<circle cx="80.55" cy="492.05" r="0.65" fill="#52ade0" opacity="0.7"/>
<circle cx="90.78" cy="482.76" r="0.65" fill="#52ade0" opacity="0.7"/>
<circle cx="85.66" cy="484.26" r="0.65" fill="#52ade0" opacity="0.7"/>
<circle cx="92.85" cy="478.80" r="0.65" fill="#52ade0" opacity="0.7"/>
<circle cx="102.43" cy="482.29" r="0.65" fill="#52ade0" opacity="0.7"/>
<circle cx="68.86" cy="478.74" r="0.65" fill="#52ade0" opacity="0.7"/>
<circle cx="73.17" cy="485.05" r="0.65" fill="#52ade0" opacity="0.7"/>
<circle cx="72.54" cy="483.80" r="0.65" fill="#52ade0" opacity="0.7"/>
<circle cx="80.62" cy="482.27" r="0.65" fill="#52ade0" opacity="0.7"/>
<circle cx="128.05" cy="484.16" r="0.65" fill="#52ade0" opacity="0.7"/>
<circle cx="99.47" cy="493.39" r="0.65" fill="#52ade0" opacity="0.7"/>
<circle cx="86.32" cy="479.02" r="0.65" fill="#52ade0" opacity="0.7"/>
<circle cx="88.60" cy="481.13" r="0.65" fill="#52ade0" opacity="0.7"/>
<circle cx="90.88" cy="491.09" r="0.65" fill="#52ade0" opacity="0.7"/>
<circle cx="96.23" cy="489.69" r="0.65" fill="#52ade0" opacity="0.7"/>
<circle cx="111.44" cy="487.47" r="0.65" fill="#52ade0" opacity="0.7"/>
<circle cx="97.65" cy="483.80" r="0.65" fill="#52ade0" opacity="0.7"/>
<circle cx="100.75" cy="488.17" r="0.65" fill="#52ade0" opacity="0.7"/>
<circle cx="101.29" cy="484.71" r="0.65" fill="#52ade0" opacity="0.7"/>
<circle cx="104.36" cy="479.30" r="0.65" fill="#52ade0" opacity="0.7"/>
<circle cx="91.32" cy="489.46" r="0.65" fill="#52ade0" opacity="0.7"/>
<circle cx="98.60" cy="480.43" r="0.65" fill="#52ade0" opacity="0.7"/>
<circle cx="108.77" cy="486.54" r="0.65" fill="#52ade0" opacity="0.7"/>
<circle cx="96.12" cy="480.14" r="0.65" fill="#52ade0" opacity="0.7"/>
<circle cx="92.96" cy="482.30" r="0.65" fill="#52ade0" opacity="0.7"/>
<circle cx="91.79" cy="488.14" r="0.65" fill="#52ade0" opacity="0.7"/>
<circle cx="77.88" cy="486.68" r="0.65" fill="#52ade0" opacity="0.7"/>
<circle cx="96.54" cy="472.88" r="0.65" fill="#52ade0" opacity="0.7"/>
<circle cx="101.04" cy="476.19" r="0.65" fill="#52ade0" opacity="0.7"/>
<circle cx="98.71" cy="478.76" r="0.65" fill="#52ade0" opacity="0.7"/>
<circle cx="91.81" cy="478.23" r="0.65" fill="#52ade0" opacity="0.7"/>
<circle cx="110.30" cy="486.18" r="0.65" fill="#52ade0" opacity="0.7"/>
<circle cx="81.61" cy="469.63" r="0.65" fill="#52ade0" opacity="0.7"/>
<circle cx="92.52" cy="476.79" r="0.65" fill="#52ade0" opacity="0.7"/>
<circle cx="99.84" cy="492.03" r="0.65" fill="#52ade0" opacity="0.7"/>
<circle cx="117.97" cy="470.96" r="0.65" fill="#52ade0" opacity="0.7"/>
<circle cx="91.73" cy="478.37" r="0.65" fill="#52ade0" opacity="0.7"/>
<circle cx="91.15" cy="490.21" r="0.65" fill="#52ade0" opacity="0.7"/>
<circle cx="88.37" cy="481.11" r="0.65" fill="#52ade0" opacity="0.7"/>
<circle cx="102.65" cy="478.68" r="0.65" fill="#52ade0" opacity="0.7"/>
<circle cx="90.37" cy="474.01" r="0.65" fill="#52ade0" opacity="0.7"/>
<circle cx="80.83" cy="478.08" r="0.65" fill="#52ade0" opacity="0.7"/>
<circle cx="102.61" cy="485.93" r="0.65" fill="#52ade0" opacity="0.7"/>
<circle cx="68.85" cy="490.37" r="0.65" fill="#52ade0" opacity="0.7"/>
<circle cx="92.43" cy="479.99" r="0.65" fill="#52ade0" opacity="0.7"/>
<circle cx="107.68" cy="491.08" r="0.65" fill="#52ade0" opacity="0.7"/>
<circle cx="89.70" cy="479.12" r="0.65" fill="#52ade0" opacity="0.7"/>
<circle cx="87.84" cy="500.96" r="0.65" fill="#52ade0" opacity="0.7"/>
<circle cx="99.05" cy="467.08" r="0.65" fill="#52ade0" opacity="0.7"/>
<circle cx="101.35" cy="490.45" r="0.65" fill="#52ade0" opacity="0.7"/>
<circle cx="84.88" cy="482.21" r="0.65" fill="#52ade0" opacity="0.7"/>
<circle cx="118.62" cy="479.35" r="0.65" fill="#52ade0" opacity="0.7"/>
<circle cx="91.00" cy="472.54" r="0.65" fill="#52ade0" opacity="0.7"/>
<circle cx="88.72" cy="470.34" r="0.65" fill="#52ade0" opacity="0.7"/>
<circle cx="81.71" cy="487.25" r="0.65" fill="#52ade0" opacity="0.7"/>
<circle cx="98.06" cy="473.51" r="0.65" fill="#52ade0" opacity="0.7"/>
<circle cx="97.28" cy="481.63" r="0.65" fill="#52ade0" opacity="0.7"/>
<circle cx="68.49" cy="488.97" r="0.65" fill="#52ade0" opacity="0.7"/>
<circle cx="82.57" cy="487.67" r="0.65" fill="#52ade0" opacity="0.7"/>
<circle cx="96.49" cy="486.24" r="0.65" fill="#52ade0" opacity="0.7"/>
<circle cx="98.83" cy="483.22" r="0.65" fill="#52ade0" opacity="0.7"/>
<circle cx="85.80" cy="482.96" r="0.65" fill="#52ade0" opacity="0.7"/>
<circle cx="94.66" cy="477.60" r="0.65" fill="#52ade0" opacity="0.7"/>
<circle cx="84.12" cy="485.50" r="0.65" fill="#52ade0" opacity="0.7"/>
<circle cx="73.82" cy="472.21" r="0.65" fill="#52ade0" opacity="0.7"/>
<circle cx="106.56" cy="485.11" r="0.65" fill="#52ade0" opacity="0.7"/>
<circle cx="84.11" cy="492.76" r="0.65" fill="#52ade0" opacity="0.7"/>
<circle cx="91.65" cy="482.32" r="0.65" fill="#52ade0" opacity="0.7"/>
<circle cx="115.04" cy="482.03" r="0.65" fill="#52ade0" opacity="0.7"/>
<circle cx="80.63" cy="501.50" r="0.65" fill="#52ade0" opacity="0.7"/>
<circle cx="106.06" cy="482.44" r="0.65" fill="#52ade0" opacity="0.7"/>
<circle cx="70.96" cy="482.51" r="0.65" fill="#52ade0" opacity="0.7"/>
<circle cx="70.97" cy="458.63" r="0.65" fill="#52ade0" opacity="0.7"/>
<circle cx="102.69" cy="479.67" r="0.65" fill="#52ade0" opacity="0.7"/>
<circle cx="87.64" cy="499.30" r="0.65" fill="#52ade0" opacity="0.7"/>
<circle cx="88.20" cy="495.06" r="0.65" fill="#52ade0" opacity="0.7"/>
<circle cx="96.61" cy="499.29" r="0.65" fill="#52ade0" opacity="0.7"/>
<circle cx="79.12" cy="474.99" r="0.65" fill="#52ade0" opacity="0.7"/>
<circle cx="108.79" cy="492.36" r="0.65" fill="#52ade0" opacity="0.7"/>
<circle cx="71.84" cy="477.45" r="0.65" fill="#52ade0" opacity="0.7"/>
<circle cx="99.59" cy="490.95" r="0.65" fill="#52ade0" opacity="0.7"/>
<circle cx="81.60" cy="488.83" r="0.65" fill="#52ade0" opacity="0.7"/>
<circle cx="75.84" cy="488.73" r="0.65" fill="#52ade0" opacity="0.7"/>
<circle cx="104.22" cy="478.82" r="0.65" fill="#52ade0" opacity="0.7"/>
<circle cx="113.59" cy="484.44" r="0.65" fill="#52ade0" opacity="0.7"/>
<circle cx="88.10" cy="490.92" r="0.65" fill="#52ade0" opacity="0.7"/>
<circle cx="88.23" cy="493.31" r="0.65" fill="#52ade0" opacity="0.7"/>
<circle cx="69.01" cy="478.77" r="0.65" fill="#52ade0" opacity="0.7"/>
<circle cx="106.42" cy="477.76" r="0.65" fill="#52ade0" opacity="0.7"/>
<circle cx="105.17" cy="481.99" r="0.65" fill="#52ade0" opacity="0.7"/>
<circle cx="81.32" cy="483.19" r="0.65" fill="#52ade0" opacity="0.7"/>
<circle cx="85.32" cy="491.86" r="0.65" fill="#52ade0" opacity="0.7"/>
<circle cx="69.99" cy="494.54" r="0.65" fill="#52ade0" opacity="0.7"/>
<circle cx="89.61" cy="482.72" r="0.65" fill="#52ade0" opacity="0.7"/>
<circle cx="84.16" cy="473.47" r="0.65" fill="#52ade0" opacity="0.7"/>
<circle cx="91.76" cy="479.60" r="0.65" fill="#52ade0" opacity="0.7"/>
<circle cx="103.84" cy="489.75" r="0.65" fill="#52ade0" opacity="0.7"/>
<circle cx="66.77" cy="478.37" r="0.65" fill="#52ade0" opacity="0.7"/>
<circle cx="81.67" cy="474.33" r="0.65" fill="#52ade0" opacity="0.7"/>
<circle cx="93.60" cy="476.53" r="0.65" fill="#52ade0" opacity="0.7"/>
<circle cx="98.55" cy="498.87" r="0.65" fill="#52ade0" opacity="0.7"/>
<circle cx="98.04" cy="488.68" r="0.65" fill="#52ade0" opacity="0.7"/>
<circle cx="80.88" cy="486.96" r="0.65" fill="#52ade0" opacity="0.7"/>
<circle cx="98.61" cy="477.41" r="0.65" fill="#52ade0" opacity="0.7"/>
<circle cx="101.43" cy="495.82" r="0.65" fill="#52ade0" opacity="0.7"/>
<circle cx="82.81" cy="501.00" r="0.65" fill="#52ade0" opacity="0.7"/>
<circle cx="88.49" cy="479.47" r="0.65" fill="#52ade0" opacity="0.7"/>
<circle cx="80.79" cy="482.04" r="0.65" fill="#52ade0" opacity="0.7"/>
<circle cx="92.36" cy="476.52" r="0.65" fill="#52ade0" opacity="0.7"/>
<circle cx="80.12" cy="489.81" r="0.65" fill="#52ade0" opacity="0.7"/>
<circle cx="80.80" cy="471.13" r="0.65" fill="#52ade0" opacity="0.7"/>
<circle cx="102.36" cy="484.71" r="0.65" fill="#52ade0" opacity="0.7"/>
<circle cx="92.30" cy="482.99" r="0.65" fill="#52ade0" opacity="0.7"/>
<circle cx="92.03" cy="485.32" r="0.65" fill="#52ade0" opacity="0.7"/>
<circle cx="85.79" cy="492.91" r="0.65" fill="#52ade0" opacity="0.7"/>
<circle cx="82.21" cy="471.87" r="0.65" fill="#52ade0" opacity="0.7"/>
<circle cx="95.91" cy="483.34" r="0.65" fill="#52ade0" opacity="0.7"/>
<circle cx="87.18" cy="483.36" r="0.65" fill="#52ade0" opacity="0.7"/>
<circle cx="93.78" cy="488.49" r="0.65" fill="#52ade0" opacity="0.7"/>
<circle cx="91.96" cy="482.08" r="0.65" fill="#52ade0" opacity="0.7"/>
<circle cx="80.97" cy="489.52" r="0.65" fill="#52ade0" opacity="0.7"/>
<circle cx="78.06" cy="491.51" r="0.65" fill="#52ade0" opacity="0.7"/>
<circle cx="100.02" cy="500.89" r="0.65" fill="#52ade0" opacity="0.7"/>
<circle cx="86.57" cy="488.24" r="0.65" fill="#52ade0" opacity="0.7"/>
<circle cx="82.47" cy="483.11" r="0.65" fill="#52ade0" opacity="0.7"/>
<circle cx="102.79" cy="483.26" r="0.65" fill="#52ade0" opacity="0.7"/>
<circle cx="88.04" cy="488.24" r="0.65" fill="#52ade0" opacity="0.7"/>
<circle cx="88.17" cy="477.21" r="0.65" fill="#52ade0" opacity="0.7"/>
<circle cx="85.09" cy="492.11" r="0.65" fill="#52ade0" opacity="0.7"/>
<circle cx="74.97" cy="491.82" r="0.65" fill="#52ade0" opacity="0.7"/>
<circle cx="73.51" cy="475.86" r="0.65" fill="#52ade0" opacity="0.7"/>
<circle cx="93.80" cy="485.53" r="0.65" fill="#52ade0" opacity="0.7"/>
<circle cx="106.65" cy="488.57" r="0.65" fill="#52ade0" opacity="0.7"/>
<circle cx="98.43" cy="478.02" r="0.65" fill="#52ade0" opacity="0.7"/>
<circle cx="71.69" cy="495.08" r="0.65" fill="#52ade0" opacity="0.7"/>
<circle cx="78.89" cy="477.25" r="0.65" fill="#52ade0" opacity="0.7"/>
<circle cx="104.75" cy="492.70" r="0.65" fill="#52ade0" opacity="0.7"/>
<circle cx="101.87" cy="486.58" r="0.65" fill="#52ade0" opacity="0.7"/>
<circle cx="85.10" cy="487.80" r="0.65" fill="#52ade0" opacity="0.7"/>
<circle cx="85.91" cy="496.97" r="0.65" fill="#52ade0" opacity="0.7"/>
<circle cx="78.03" cy="492.75" r="0.65" fill="#52ade0" opacity="0.7"/>
<circle cx="95.38" cy="468.70" r="0.65" fill="#52ade0" opacity="0.7"/>
<circle cx="121.44" cy="486.25" r="0.65" fill="#52ade0" opacity="0.7"/>
<circle cx="69.66" cy="486.76" r="0.65" fill="#52ade0" opacity="0.7"/>
<circle cx="78.75" cy="469.46" r="0.65" fill="#52ade0" opacity="0.7"/>
<circle cx="96.31" cy="489.09" r="0.65" fill="#52ade0" opacity="0.7"/>
<circle cx="100.56" cy="479.94" r="0.65" fill="#52ade0" opacity="0.7"/>
<circle cx="70.78" cy="487.66" r="0.65" fill="#52ade0" opacity="0.7"/>
<circle cx="86.89" cy="483.68" r="0.65" fill="#52ade0" opacity="0.7"/>
<circle cx="91.21" cy="486.27" r="0.65" fill="#52ade0" opacity="0.7"/>
<circle cx="91.88" cy="488.05" r="0.65" fill="#52ade0" opacity="0.7"/>
<circle cx="79.25" cy="472.84" r="0.65" fill="#52ade0" opacity="0.7"/>
<circle cx="93.86" cy="480.64" r="0.65" fill="#52ade0" opacity="0.7"/>
<circle cx="71.13" cy="485.02" r="0.65" fill="#52ade0" opacity="0.7"/>
<circle cx="99.20" cy="493.16" r="0.65" fill="#52ade0" opacity="0.7"/>
<circle cx="102.44" cy="486.63" r="0.65" fill="#52ade0" opacity="0.7"/>
<circle cx="94.36" cy="484.78" r="0.65" fill="#52ade0" opacity="0.7"/>
<circle cx="92.21" cy="475.11" r="0.65" fill="#52ade0" opacity="0.7"/>
<circle cx="84.98" cy="472.49" r="0.65" fill="#52ade0" opacity="0.7"/>
<circle cx="80.58" cy="490.55" r="0.65" fill="#52ade0" opacity="0.7"/>
<circle cx="97.94" cy="491.53" r="0.65" fill="#52ade0" opacity="0.7"/>
<circle cx="85.37" cy="477.25" r="0.65" fill="#52ade0" opacity="0.7"/>
<circle cx="103.75" cy="496.66" r="0.65" fill="#52ade0" opacity="0.7"/>
<circle cx="95.56" cy="470.18" r="0.65" fill="#52ade0" opacity="0.7"/>
<circle cx="103.57" cy="485.55" r="0.65" fill="#52ade0" opacity="0.7"/>
<circle cx="82.69" cy="485.96" r="0.65" fill="#52ade0" opacity="0.7"/>
<circle cx="76.27" cy="485.73" r="0.65" fill="#52ade0" opacity="0.7"/>
<circle cx="87.50" cy="484.87" r="0.65" fill="#52ade0" opacity="0.7"/>
<circle cx="103.42" cy="485.48" r="0.65" fill="#52ade0" opacity="0.7"/>
<circle cx="72.72" cy="476.21" r="0.65" fill="#52ade0" opacity="0.7"/>
<circle cx="77.20" cy="487.05" r="0.65" fill="#52ade0" opacity="0.7"/>
<circle cx="88.12" cy="486.30" r="0.65" fill="#52ade0" opacity="0.7"/>
<circle cx="78.01" cy="485.61" r="0.65" fill="#52ade0" opacity="0.7"/>
<circle cx="115.07" cy="488.20" r="0.65" fill="#52ade0" opacity="0.7"/>
<circle cx="88.09" cy="475.68" r="0.65" fill="#52ade0" opacity="0.7"/>
<circle cx="98.33" cy="478.29" r="0.65" fill="#52ade0" opacity="0.7"/>
<circle cx="99.70" cy="498.05" r="0.65" fill="#52ade0" opacity="0.7"/>
<circle cx="79.63" cy="482.88" r="0.65" fill="#52ade0" opacity="0.7"/>
<circle cx="95.47" cy="474.45" r="0.65" fill="#52ade0" opacity="0.7"/>
<circle cx="95.13" cy="485.54" r="0.65" fill="#52ade0" opacity="0.7"/>
<circle cx="90.13" cy="485.34" r="0.65" fill="#52ade0" opacity="0.7"/>
<circle cx="92.55" cy="478.93" r="0.65" fill="#52ade0" opacity="0.7"/>
<circle cx="85.72" cy="489.70" r="0.65" fill="#52ade0" opacity="0.7"/>
<circle cx="79.74" cy="475.88" r="0.65" fill="#52ade0" opacity="0.7"/>
<circle cx="90.10" cy="466.39" r="0.65" fill="#c51f3d" opacity="0.7"/>
<circle cx="86.53" cy="467.63" r="0.65" fill="#c51f3d" opacity="0.7"/>
<circle cx="79.32" cy="468.96" r="0.65" fill="#c51f3d" opacity="0.7"/>
<circle cx="70.50" cy="475.76" r="0.65" fill="#c51f3d" opacity="0.7"/>
<circle cx="73.18" cy="468.47" r="0.65" fill="#c51f3d" opacity="0.7"/>
<circle cx="74.47" cy="475.01" r="0.65" fill="#c51f3d" opacity="0.7"/>
<circle cx="82.70" cy="463.55" r="0.65" fill="#c51f3d" opacity="0.7"/>
<circle cx="72.69" cy="481.52" r="0.65" fill="#c51f3d" opacity="0.7"/>
<circle cx="86.20" cy="482.84" r="0.65" fill="#c51f3d" opacity="0.7"/>
<circle cx="83.14" cy="478.63" r="0.65" fill="#c51f3d" opacity="0.7"/>
<circle cx="78.45" cy="488.44" r="0.65" fill="#c51f3d" opacity="0.7"/>
<circle cx="85.33" cy="478.09" r="0.65" fill="#c51f3d" opacity="0.7"/>
<circle cx="71.79" cy="457.88" r="0.65" fill="#c51f3d" opacity="0.7"/>
<circle cx="85.32" cy="446.66" r="0.65" fill="#c51f3d" opacity="0.7"/>
<circle cx="82.76" cy="476.89" r="0.65" fill="#c51f3d" opacity="0.7"/>
<circle cx="80.24" cy="461.57" r="0.65" fill="#c51f3d" opacity="0.7"/>
<circle cx="79.11" cy="470.63" r="0.65" fill="#c51f3d" opacity="0.7"/>
<circle cx="83.68" cy="481.30" r="0.65" fill="#c51f3d" opacity="0.7"/>
<circle cx="80.42" cy="478.11" r="0.65" fill="#c51f3d" opacity="0.7"/>
<circle cx="68.88" cy="467.33" r="0.65" fill="#c51f3d" opacity="0.7"/>
<circle cx="84.93" cy="473.58" r="0.65" fill="#c51f3d" opacity="0.7"/>
<circle cx="71.72" cy="489.89" r="0.65" fill="#c51f3d" opacity="0.7"/>
<circle cx="83.42" cy="474.93" r="0.65" fill="#c51f3d" opacity="0.7"/>
<circle cx="65.20" cy="474.64" r="0.65" fill="#c51f3d" opacity="0.7"/>
<circle cx="66.56" cy="474.37" r="0.65" fill="#c51f3d" opacity="0.7"/>
<circle cx="80.54" cy="471.38" r="0.65" fill="#c51f3d" opacity="0.7"/>
<circle cx="81.16" cy="472.83" r="0.65" fill="#c51f3d" opacity="0.7"/>
<circle cx="69.77" cy="477.17" r="0.65" fill="#c51f3d" opacity="0.7"/>
<circle cx="75.04" cy="476.01" r="0.65" fill="#c51f3d" opacity="0.7"/>
<circle cx="81.61" cy="469.31" r="0.65" fill="#c51f3d" opacity="0.7"/>
<circle cx="93.07" cy="494.30" r="0.65" fill="#c51f3d" opacity="0.7"/>
<circle cx="82.71" cy="475.72" r="0.65" fill="#c51f3d" opacity="0.7"/>
<circle cx="98.45" cy="466.85" r="0.65" fill="#c51f3d" opacity="0.7"/>
<circle cx="65.46" cy="471.02" r="0.65" fill="#c51f3d" opacity="0.7"/>
<circle cx="74.97" cy="466.38" r="0.65" fill="#c51f3d" opacity="0.7"/>
<circle cx="70.47" cy="474.96" r="0.65" fill="#c51f3d" opacity="0.7"/>
<circle cx="78.23" cy="474.92" r="0.65" fill="#c51f3d" opacity="0.7"/>
<circle cx="74.43" cy="488.57" r="0.65" fill="#c51f3d" opacity="0.7"/>
<circle cx="83.20" cy="466.33" r="0.65" fill="#c51f3d" opacity="0.7"/>
<circle cx="78.76" cy="482.14" r="0.65" fill="#c51f3d" opacity="0.7"/>
<circle cx="81.04" cy="469.73" r="0.65" fill="#c51f3d" opacity="0.7"/>
<circle cx="77.86" cy="474.27" r="0.65" fill="#c51f3d" opacity="0.7"/>
<circle cx="91.17" cy="482.93" r="0.65" fill="#c51f3d" opacity="0.7"/>
<circle cx="74.65" cy="489.10" r="0.65" fill="#c51f3d" opacity="0.7"/>
<circle cx="73.46" cy="479.96" r="0.65" fill="#c51f3d" opacity="0.7"/>
<circle cx="71.27" cy="479.61" r="0.65" fill="#c51f3d" opacity="0.7"/>
<circle cx="94.43" cy="475.70" r="0.65" fill="#c51f3d" opacity="0.7"/>
<circle cx="78.38" cy="456.93" r="0.65" fill="#c51f3d" opacity="0.7"/>
<circle cx="78.83" cy="487.76" r="0.65" fill="#c51f3d" opacity="0.7"/>
<circle cx="82.72" cy="481.51" r="0.65" fill="#c51f3d" opacity="0.7"/>
<circle cx="93.10" cy="483.93" r="0.65" fill="#c51f3d" opacity="0.7"/>
<circle cx="74.46" cy="486.75" r="0.65" fill="#c51f3d" opacity="0.7"/>
<circle cx="80.16" cy="482.13" r="0.65" fill="#c51f3d" opacity="0.7"/>
<circle cx="78.79" cy="477.12" r="0.65" fill="#c51f3d" opacity="0.7"/>
<circle cx="74.19" cy="466.77" r="0.65" fill="#c51f3d" opacity="0.7"/>
<circle cx="87.19" cy="473.68" r="0.65" fill="#c51f3d" opacity="0.7"/>
<circle cx="71.78" cy="482.56" r="0.65" fill="#c51f3d" opacity="0.7"/>
<circle cx="81.60" cy="455.42" r="0.65" fill="#c51f3d" opacity="0.7"/>
<circle cx="75.50" cy="480.32" r="0.65" fill="#c51f3d" opacity="0.7"/>
<circle cx="73.48" cy="482.75" r="0.65" fill="#c51f3d" opacity="0.7"/>
<circle cx="71.17" cy="475.77" r="0.65" fill="#c51f3d" opacity="0.7"/>
<circle cx="91.38" cy="474.17" r="0.65" fill="#c51f3d" opacity="0.7"/>
<circle cx="75.05" cy="486.82" r="0.65" fill="#c51f3d" opacity="0.7"/>
<circle cx="81.13" cy="474.38" r="0.65" fill="#c51f3d" opacity="0.7"/>
<circle cx="69.04" cy="482.68" r="0.65" fill="#c51f3d" opacity="0.7"/>
<circle cx="78.98" cy="466.23" r="0.65" fill="#c51f3d" opacity="0.7"/>
<circle cx="84.60" cy="472.55" r="0.65" fill="#c51f3d" opacity="0.7"/>
<circle cx="76.62" cy="471.65" r="0.65" fill="#c51f3d" opacity="0.7"/>
<circle cx="79.24" cy="457.13" r="0.65" fill="#c51f3d" opacity="0.7"/>
<circle cx="69.83" cy="477.05" r="0.65" fill="#c51f3d" opacity="0.7"/>
<circle cx="89.99" cy="476.25" r="0.65" fill="#c51f3d" opacity="0.7"/>
<circle cx="91.30" cy="474.51" r="0.65" fill="#c51f3d" opacity="0.7"/>
<circle cx="80.56" cy="477.07" r="0.65" fill="#c51f3d" opacity="0.7"/>
<circle cx="67.74" cy="481.77" r="0.65" fill="#c51f3d" opacity="0.7"/>
<circle cx="97.94" cy="469.11" r="0.65" fill="#c51f3d" opacity="0.7"/>
<circle cx="84.43" cy="466.69" r="0.65" fill="#c51f3d" opacity="0.7"/>
<circle cx="84.12" cy="466.15" r="0.65" fill="#c51f3d" opacity="0.7"/>
<circle cx="77.10" cy="475.92" r="0.65" fill="#c51f3d" opacity="0.7"/>
<circle cx="87.60" cy="476.93" r="0.65" fill="#c51f3d" opacity="0.7"/>
<circle cx="68.16" cy="475.94" r="0.65" fill="#c51f3d" opacity="0.7"/>
<circle cx="74.76" cy="469.36" r="0.65" fill="#c51f3d" opacity="0.7"/>
<circle cx="73.29" cy="482.48" r="0.65" fill="#c51f3d" opacity="0.7"/>
<circle cx="76.55" cy="461.99" r="0.65" fill="#c51f3d" opacity="0.7"/>
<circle cx="78.94" cy="472.90" r="0.65" fill="#c51f3d" opacity="0.7"/>
<circle cx="79.42" cy="471.85" r="0.65" fill="#c51f3d" opacity="0.7"/>
<circle cx="87.13" cy="463.22" r="0.65" fill="#c51f3d" opacity="0.7"/>
<circle cx="65.53" cy="463.50" r="0.65" fill="#c51f3d" opacity="0.7"/>
<circle cx="79.31" cy="476.68" r="0.65" fill="#c51f3d" opacity="0.7"/>
<circle cx="99.48" cy="475.49" r="0.65" fill="#c51f3d" opacity="0.7"/>
<circle cx="95.67" cy="466.58" r="0.65" fill="#c51f3d" opacity="0.7"/>
<circle cx="70.69" cy="470.34" r="0.65" fill="#c51f3d" opacity="0.7"/>
<circle cx="85.53" cy="475.15" r="0.65" fill="#c51f3d" opacity="0.7"/>
<circle cx="59.79" cy="476.86" r="0.65" fill="#c51f3d" opacity="0.7"/>
<circle cx="77.73" cy="482.85" r="0.65" fill="#c51f3d" opacity="0.7"/>
<circle cx="94.67" cy="476.08" r="0.65" fill="#c51f3d" opacity="0.7"/>
<circle cx="76.03" cy="476.51" r="0.65" fill="#c51f3d" opacity="0.7"/>
<circle cx="72.76" cy="480.25" r="0.65" fill="#c51f3d" opacity="0.7"/>
<circle cx="80.13" cy="471.71" r="0.65" fill="#c51f3d" opacity="0.7"/>
<circle cx="75.08" cy="474.87" r="0.65" fill="#c51f3d" opacity="0.7"/>
<circle cx="67.66" cy="470.08" r="0.65" fill="#c51f3d" opacity="0.7"/>
<circle cx="73.04" cy="472.48" r="0.65" fill="#c51f3d" opacity="0.7"/>
<circle cx="71.72" cy="478.20" r="0.65" fill="#c51f3d" opacity="0.7"/>
<circle cx="81.14" cy="483.66" r="0.65" fill="#c51f3d" opacity="0.7"/>
<circle cx="100.08" cy="474.45" r="0.65" fill="#c51f3d" opacity="0.7"/>
<circle cx="78.73" cy="479.92" r="0.65" fill="#c51f3d" opacity="0.7"/>
<circle cx="92.73" cy="463.30" r="0.65" fill="#c51f3d" opacity="0.7"/>
<circle cx="81.85" cy="484.89" r="0.65" fill="#c51f3d" opacity="0.7"/>
<circle cx="75.10" cy="469.34" r="0.65" fill="#c51f3d" opacity="0.7"/>
<circle cx="75.04" cy="483.45" r="0.65" fill="#c51f3d" opacity="0.7"/>
<circle cx="69.36" cy="480.21" r="0.65" fill="#c51f3d" opacity="0.7"/>
<circle cx="79.45" cy="479.25" r="0.65" fill="#c51f3d" opacity="0.7"/>
<circle cx="79.49" cy="452.28" r="0.65" fill="#c51f3d" opacity="0.7"/>
<circle cx="94.23" cy="482.30" r="0.65" fill="#c51f3d" opacity="0.7"/>
<circle cx="82.22" cy="473.48" r="0.65" fill="#c51f3d" opacity="0.7"/>
<circle cx="78.18" cy="465.99" r="0.65" fill="#c51f3d" opacity="0.7"/>
<circle cx="76.55" cy="476.72" r="0.65" fill="#c51f3d" opacity="0.7"/>
<circle cx="76.19" cy="474.95" r="0.65" fill="#c51f3d" opacity="0.7"/>
<circle cx="90.14" cy="468.08" r="0.65" fill="#c51f3d" opacity="0.7"/>
<circle cx="68.07" cy="477.63" r="0.65" fill="#c51f3d" opacity="0.7"/>
<circle cx="72.64" cy="467.77" r="0.65" fill="#c51f3d" opacity="0.7"/>
<circle cx="81.23" cy="467.19" r="0.65" fill="#c51f3d" opacity="0.7"/>
<circle cx="78.82" cy="489.13" r="0.65" fill="#c51f3d" opacity="0.7"/>
<circle cx="83.13" cy="472.38" r="0.65" fill="#c51f3d" opacity="0.7"/>
<circle cx="83.60" cy="484.38" r="0.65" fill="#c51f3d" opacity="0.7"/>
<circle cx="80.02" cy="479.56" r="0.65" fill="#c51f3d" opacity="0.7"/>
<circle cx="73.57" cy="471.39" r="0.65" fill="#c51f3d" opacity="0.7"/>
<circle cx="82.30" cy="481.16" r="0.65" fill="#c51f3d" opacity="0.7"/>
<circle cx="64.96" cy="493.56" r="0.65" fill="#c51f3d" opacity="0.7"/>
<circle cx="74.51" cy="465.37" r="0.65" fill="#c51f3d" opacity="0.7"/>
<circle cx="78.88" cy="491.81" r="0.65" fill="#c51f3d" opacity="0.7"/>
<circle cx="72.09" cy="470.86" r="0.65" fill="#c51f3d" opacity="0.7"/>
<circle cx="93.38" cy="465.01" r="0.65" fill="#c51f3d" opacity="0.7"/>
<circle cx="82.42" cy="472.62" r="0.65" fill="#c51f3d" opacity="0.7"/>
<circle cx="70.44" cy="477.71" r="0.65" fill="#c51f3d" opacity="0.7"/>
<circle cx="76.54" cy="480.23" r="0.65" fill="#c51f3d" opacity="0.7"/>
<circle cx="79.87" cy="477.24" r="0.65" fill="#c51f3d" opacity="0.7"/>
<line x1="58.3" y1="466.5" x2="130.5" y2="500.0" stroke="#444" stroke-width="0.8"/>
</g>
<rect x="46.9" y="437.8" width="87.29999999999998" height="76.49999999999994" fill="none" stroke="#333" stroke-width="0.9"/>
<line x1="44.699999999999996" y1="441.0" x2="46.9" y2="441.0" stroke="#333" stroke-width="0.7"/>
<text x="43.6" y="443.3" font-size="6.5" fill="#333" text-anchor="end">1.00</text>
<line x1="44.699999999999996" y1="456.07500000000005" x2="46.9" y2="456.07500000000005" stroke="#333" stroke-width="0.7"/>
<text x="43.6" y="458.37500000000006" font-size="6.5" fill="#333" text-anchor="end">0.75</text>
<line x1="44.699999999999996" y1="471.15000000000003" x2="46.9" y2="471.15000000000003" stroke="#333" stroke-width="0.7"/>
<text x="43.6" y="473.45000000000005" font-size="6.5" fill="#333" text-anchor="end">0.50</text>
<line x1="44.699999999999996" y1="486.225" x2="46.9" y2="486.225" stroke="#333" stroke-width="0.7"/>
<text x="43.6" y="488.52500000000003" font-size="6.5" fill="#333" text-anchor="end">0.25</text>
<line x1="44.699999999999996" y1="501.3" x2="46.9" y2="501.3" stroke="#333" stroke-width="0.7"/>
<text x="43.6" y="503.6" font-size="6.5" fill="#333" text-anchor="end">0.00</text>
<line x1="77.4" y1="514.3" x2="77.4" y2="516.5" stroke="#333" stroke-width="0.7"/>
<text x="77.4" y="525.3" font-size="6.5" fill="#333" text-anchor="middle">0</text>
<line x1="109.7" y1="514.3" x2="109.7" y2="516.5" stroke="#333" stroke-width="0.7"/>
<text x="109.7" y="525.3" font-size="6.5" fill="#333" text-anchor="middle">5</text>
<text x="96" y="533.5" font-size="6.6" fill="#333" text-anchor="middle" textLength="69.5" lengthAdjust="spacingAndGlyphs">log<tspan font-size="4.8" dy="1.4">2</tspan><tspan dy="-1.4">(Menin/H2AK119ub)</tspan></text>
<text x="25.2" y="475.5" font-size="7.8" fill="#333" text-anchor="middle" textLength="39" lengthAdjust="spacingAndGlyphs" transform="rotate(-90 25.2 475.5)" stroke="#333" stroke-width="0.14">Rescue index</text>
<text x="100.0" y="446.6" font-size="6.6" fill="#333" textLength="27.2" lengthAdjust="spacingAndGlyphs"><tspan font-style="italic">R</tspan> = −0.55</text>
<text x="100.0" y="454.4" font-size="6.6" fill="#333" textLength="32.5" lengthAdjust="spacingAndGlyphs"><tspan font-style="italic">P</tspan> &lt; 2.2e-16</text>
<text x="58.3" y="453.2" font-size="5.9" fill="#c51f3d" font-style="italic">LRP5</text>
<text x="82.3" y="453.2" font-size="5.9" fill="#c51f3d" font-style="italic">MYC</text>
<text x="50.6" y="460.2" font-size="5.9" fill="#c51f3d" font-style="italic" textLength="16.4" lengthAdjust="spacingAndGlyphs">RUNX3</text>
<line x1="66" y1="455" x2="75.5" y2="466" stroke="#9a1a30" stroke-width="0.6"/>
<line x1="85.5" y1="455" x2="80.5" y2="466.5" stroke="#9a1a30" stroke-width="0.6"/>
<line x1="64" y1="461.5" x2="74.5" y2="470" stroke="#9a1a30" stroke-width="0.6"/>
<text x="117.9" y="490.7" font-size="5.9" fill="#52ade0" font-style="italic">MEIS1</text>
<text x="98.7" y="508.2" font-size="5.9" fill="#52ade0" font-style="italic">PBX3</text>
<text x="114.0" y="510.2" font-size="5.9" fill="#52ade0" font-style="italic" textLength="18" lengthAdjust="spacingAndGlyphs">MEF2C</text>
<line x1="117.5" y1="490" x2="110" y2="494.5" stroke="#2a6e9e" stroke-width="0.6"/>
<line x1="103" y1="504" x2="108" y2="497" stroke="#2a6e9e" stroke-width="0.6"/>
<line x1="118" y1="505.5" x2="112.5" y2="499" stroke="#2a6e9e" stroke-width="0.6"/>
<circle cx="51.30" cy="503.40" r="0.7" fill="#52ade0"/>
<text x="53.8" y="505.6" font-size="6.5" fill="#333" textLength="16.8" lengthAdjust="spacingAndGlyphs">Type I</text>
<circle cx="51.30" cy="509.80" r="0.7" fill="#c51f3d"/>
<text x="53.8" y="512.0" font-size="6.5" fill="#333" textLength="19.5" lengthAdjust="spacingAndGlyphs">Type II</text>
<text x="142.4" y="490.3" font-size="6.9" fill="#333" text-anchor="middle" textLength="29.4" lengthAdjust="spacingAndGlyphs" transform="rotate(-90 142.4 490.3)" stroke="#333" stroke-width="0.14">No rescue</text>
<text x="142.4" y="449.8" font-size="6.9" fill="#333" text-anchor="middle" textLength="26.4" lengthAdjust="spacingAndGlyphs" transform="rotate(-90 142.4 449.8)" stroke="#333" stroke-width="0.14">Full rescue</text>
<line x1="140.1" y1="467.5" x2="140.1" y2="472.0" stroke="#111" stroke-width="0.7"/>
<path d="M140.1,465.3 L138.6,468.0 L141.6,468.0 Z" fill="#111" stroke="none" stroke-width="0.6"/>
<path d="M140.1,474.2 L138.6,471.5 L141.6,471.5 Z" fill="#111" stroke="none" stroke-width="0.6"/>
<line x1="54.1" y1="514.8" x2="47.1" y2="536.3" stroke="#9a9a9a" stroke-width="0.6" stroke-dasharray="1.2,1.2"/>
<line x1="91.5" y1="514.8" x2="91.4" y2="536.3" stroke="#9a9a9a" stroke-width="0.6" stroke-dasharray="1.2,1.2"/>
<line x1="106.6" y1="514.8" x2="97.6" y2="536.0" stroke="#9a9a9a" stroke-width="0.6" stroke-dasharray="1.2,1.2"/>
<line x1="133.9" y1="514.8" x2="142.2" y2="536.0" stroke="#9a9a9a" stroke-width="0.6" stroke-dasharray="1.2,1.2"/>
<rect x="47.1" y="536.2" width="44.199999999999996" height="41.299999999999955" fill="none" stroke="#333" stroke-width="0.9"/>
<text x="48.7" y="544.0" font-size="6.2" fill="#c51f3d">10<tspan font-size="4" dy="-2">th</tspan><tspan dy="2"> pct</tspan></text>
<line x1="50.2" y1="577.5" x2="50.2" y2="579.8" stroke="#333" stroke-width="0.6"/>
<text x="50.2" y="589.3" font-size="7.3" fill="#333" text-anchor="middle">D</text>
<ellipse cx="50.20" cy="550.70" rx="2.0" ry="1.5" fill="#c51f3d"/>
<line x1="55.650000000000006" y1="577.5" x2="55.650000000000006" y2="579.8" stroke="#333" stroke-width="0.6"/>
<text x="55.650000000000006" y="589.3" font-size="7.3" fill="#333" text-anchor="middle">D</text>
<ellipse cx="55.65" cy="550.70" rx="2.0" ry="1.5" fill="#c51f3d"/>
<line x1="61.1" y1="577.5" x2="61.1" y2="579.8" stroke="#333" stroke-width="0.6"/>
<text x="61.1" y="589.3" font-size="7.3" fill="#333" text-anchor="middle">V</text>
<path d="M61.10,553.40 C63.71,556.20 64.29,560.12 61.10,564.60 C57.91,560.12 58.49,556.20 61.10,553.40 Z" fill="#c51f3d" stroke="none" stroke-width="0.6" opacity="0.95"/>
<line x1="61.1" y1="551.9" x2="61.1" y2="566.1" stroke="#a8142e" stroke-width="0.5"/>
<line x1="58.78" y1="558.44" x2="63.42" y2="558.44" stroke="#fff" stroke-width="0.6"/>
<circle cx="61.41" cy="546.94" r="0.55" fill="#c51f3d" opacity="0.55"/>
<circle cx="61.89" cy="568.57" r="0.55" fill="#c51f3d" opacity="0.55"/>
<circle cx="60.03" cy="567.30" r="0.55" fill="#c51f3d" opacity="0.55"/>
<circle cx="60.58" cy="569.54" r="0.55" fill="#c51f3d" opacity="0.55"/>
<circle cx="60.92" cy="550.47" r="0.55" fill="#c51f3d" opacity="0.55"/>
<circle cx="62.01" cy="568.23" r="0.55" fill="#c51f3d" opacity="0.55"/>
<line x1="66.55000000000001" y1="577.5" x2="66.55000000000001" y2="579.8" stroke="#333" stroke-width="0.6"/>
<text x="66.55000000000001" y="589.3" font-size="7.3" fill="#333" text-anchor="middle">V</text>
<path d="M66.55,553.40 C69.16,556.20 69.74,560.12 66.55,564.60 C63.36,560.12 63.94,556.20 66.55,553.40 Z" fill="#c51f3d" stroke="none" stroke-width="0.6" opacity="0.95"/>
<line x1="66.55000000000001" y1="551.9" x2="66.55000000000001" y2="566.1" stroke="#a8142e" stroke-width="0.5"/>
<line x1="64.23000000000002" y1="558.44" x2="68.87" y2="558.44" stroke="#fff" stroke-width="0.6"/>
<circle cx="65.71" cy="568.35" r="0.55" fill="#c51f3d" opacity="0.55"/>
<circle cx="67.54" cy="551.89" r="0.55" fill="#c51f3d" opacity="0.55"/>
<circle cx="66.24" cy="550.22" r="0.55" fill="#c51f3d" opacity="0.55"/>
<circle cx="67.27" cy="570.38" r="0.55" fill="#c51f3d" opacity="0.55"/>
<circle cx="66.67" cy="570.38" r="0.55" fill="#c51f3d" opacity="0.55"/>
<circle cx="67.33" cy="551.34" r="0.55" fill="#c51f3d" opacity="0.55"/>
<line x1="72.0" y1="577.5" x2="72.0" y2="579.8" stroke="#333" stroke-width="0.6"/>
<text x="72.0" y="589.3" font-size="7.3" fill="#333" text-anchor="middle">D</text>
<path d="M72.00,544.20 C74.61,546.70 75.19,550.20 72.00,554.20 C68.81,550.20 69.39,546.70 72.00,544.20 Z" fill="#c51f3d" stroke="none" stroke-width="0.6" opacity="0.95"/>
<line x1="72.0" y1="542.7" x2="72.0" y2="555.7" stroke="#a8142e" stroke-width="0.5"/>
<line x1="69.68" y1="548.7" x2="74.32" y2="548.7" stroke="#fff" stroke-width="0.6"/>
<circle cx="71.16" cy="560.07" r="0.55" fill="#c51f3d" opacity="0.55"/>
<circle cx="72.20" cy="539.94" r="0.55" fill="#c51f3d" opacity="0.55"/>
<circle cx="72.91" cy="539.29" r="0.55" fill="#c51f3d" opacity="0.55"/>
<circle cx="71.42" cy="539.71" r="0.55" fill="#c51f3d" opacity="0.55"/>
<circle cx="71.32" cy="541.19" r="0.55" fill="#c51f3d" opacity="0.55"/>
<circle cx="70.75" cy="537.81" r="0.55" fill="#c51f3d" opacity="0.55"/>
<line x1="77.45" y1="577.5" x2="77.45" y2="579.8" stroke="#333" stroke-width="0.6"/>
<text x="77.45" y="589.3" font-size="7.3" fill="#333" text-anchor="middle">D</text>
<path d="M77.45,544.20 C80.06,546.70 80.64,550.20 77.45,554.20 C74.26,550.20 74.84,546.70 77.45,544.20 Z" fill="#c51f3d" stroke="none" stroke-width="0.6" opacity="0.95"/>
<line x1="77.45" y1="542.7" x2="77.45" y2="555.7" stroke="#a8142e" stroke-width="0.5"/>
<line x1="75.13000000000001" y1="548.7" x2="79.77" y2="548.7" stroke="#fff" stroke-width="0.6"/>
<circle cx="78.40" cy="542.62" r="0.55" fill="#c51f3d" opacity="0.55"/>
<circle cx="76.61" cy="556.67" r="0.55" fill="#c51f3d" opacity="0.55"/>
<circle cx="77.13" cy="559.79" r="0.55" fill="#c51f3d" opacity="0.55"/>
<circle cx="76.95" cy="560.04" r="0.55" fill="#c51f3d" opacity="0.55"/>
<circle cx="77.56" cy="540.24" r="0.55" fill="#c51f3d" opacity="0.55"/>
<circle cx="78.69" cy="538.95" r="0.55" fill="#c51f3d" opacity="0.55"/>
<line x1="82.9" y1="577.5" x2="82.9" y2="579.8" stroke="#333" stroke-width="0.6"/>
<text x="82.9" y="589.3" font-size="7.3" fill="#333" text-anchor="middle">V</text>
<path d="M82.90,544.60 C85.51,547.10 86.09,550.60 82.90,554.60 C79.71,550.60 80.29,547.10 82.90,544.60 Z" fill="#c51f3d" stroke="none" stroke-width="0.6" opacity="0.95"/>
<line x1="82.9" y1="543.1" x2="82.9" y2="556.1" stroke="#a8142e" stroke-width="0.5"/>
<line x1="80.58000000000001" y1="549.1" x2="85.22" y2="549.1" stroke="#fff" stroke-width="0.6"/>
<circle cx="84.36" cy="560.14" r="0.55" fill="#c51f3d" opacity="0.55"/>
<circle cx="83.82" cy="560.72" r="0.55" fill="#c51f3d" opacity="0.55"/>
<circle cx="84.27" cy="538.27" r="0.55" fill="#c51f3d" opacity="0.55"/>
<circle cx="83.53" cy="540.46" r="0.55" fill="#c51f3d" opacity="0.55"/>
<circle cx="82.66" cy="541.07" r="0.55" fill="#c51f3d" opacity="0.55"/>
<line x1="88.35" y1="577.5" x2="88.35" y2="579.8" stroke="#333" stroke-width="0.6"/>
<text x="88.35" y="589.3" font-size="7.3" fill="#333" text-anchor="middle">V</text>
<path d="M88.35,545.00 C90.87,547.70 91.43,551.48 88.35,555.80 C85.27,551.48 85.83,547.70 88.35,545.00 Z" fill="#c51f3d" stroke="none" stroke-width="0.6" opacity="0.95"/>
<line x1="88.35" y1="543.5" x2="88.35" y2="557.3" stroke="#a8142e" stroke-width="0.5"/>
<line x1="86.11" y1="549.86" x2="90.58999999999999" y2="549.86" stroke="#fff" stroke-width="0.6"/>
<circle cx="87.34" cy="542.53" r="0.55" fill="#c51f3d" opacity="0.55"/>
<circle cx="87.81" cy="560.90" r="0.55" fill="#c51f3d" opacity="0.55"/>
<circle cx="87.73" cy="559.35" r="0.55" fill="#c51f3d" opacity="0.55"/>
<circle cx="89.04" cy="541.17" r="0.55" fill="#c51f3d" opacity="0.55"/>
<circle cx="89.18" cy="560.69" r="0.55" fill="#c51f3d" opacity="0.55"/>
<line x1="44.9" y1="538.1" x2="47.1" y2="538.1" stroke="#333" stroke-width="0.7"/>
<text x="43.6" y="540.4" font-size="6.6" fill="#333" text-anchor="end">1</text>
<line x1="44.9" y1="550.7" x2="47.1" y2="550.7" stroke="#333" stroke-width="0.7"/>
<text x="43.6" y="553.0" font-size="6.6" fill="#333" text-anchor="end">0</text>
<line x1="44.9" y1="563.3" x2="47.1" y2="563.3" stroke="#333" stroke-width="0.7"/>
<text x="43.6" y="565.5999999999999" font-size="6.6" fill="#333" text-anchor="end">−1</text>
<line x1="44.9" y1="575.8" x2="47.1" y2="575.8" stroke="#333" stroke-width="0.7"/>
<text x="43.6" y="578.0999999999999" font-size="6.6" fill="#333" text-anchor="end">−2</text>
<line x1="49.2" y1="592.4" x2="68.05000000000001" y2="592.4" stroke="#333" stroke-width="0.7"/>
<line x1="70.5" y1="592.4" x2="89.85" y2="592.4" stroke="#333" stroke-width="0.7"/>
<text x="56.87500000000001" y="601.6" font-size="7.4" fill="#333" text-anchor="middle" textLength="15.5" lengthAdjust="spacingAndGlyphs">sg<tspan font-style="italic">Luc</tspan></text>
<text x="80.77499999999999" y="601.6" font-size="7.4" fill="#333" text-anchor="middle" textLength="26" lengthAdjust="spacingAndGlyphs">sgPCGF1</text>
<rect x="97.6" y="536.2" width="44.70000000000002" height="41.299999999999955" fill="none" stroke="#333" stroke-width="0.9"/>
<text x="99.19999999999999" y="544.0" font-size="6.2" fill="#52ade0">90<tspan font-size="4" dy="-2">th</tspan><tspan dy="2"> pct</tspan></text>
<line x1="100.69999999999999" y1="577.5" x2="100.69999999999999" y2="579.8" stroke="#333" stroke-width="0.6"/>
<text x="100.69999999999999" y="589.3" font-size="7.3" fill="#333" text-anchor="middle">D</text>
<ellipse cx="100.70" cy="550.70" rx="2.0" ry="1.0" fill="#52ade0"/>
<line x1="106.14999999999999" y1="577.5" x2="106.14999999999999" y2="579.8" stroke="#333" stroke-width="0.6"/>
<text x="106.14999999999999" y="589.3" font-size="7.3" fill="#333" text-anchor="middle">D</text>
<ellipse cx="106.15" cy="550.70" rx="2.0" ry="1.0" fill="#52ade0"/>
<line x1="111.6" y1="577.5" x2="111.6" y2="579.8" stroke="#333" stroke-width="0.6"/>
<text x="111.6" y="589.3" font-size="7.3" fill="#333" text-anchor="middle">V</text>
<path d="M111.60,553.00 C113.85,558.25 114.35,565.60 111.60,574.00 C108.85,565.60 109.35,558.25 111.60,553.00 Z" fill="#6cbbe6" stroke="none" stroke-width="0.6" opacity="0.95"/>
<line x1="111.6" y1="551.5" x2="111.6" y2="575.5" stroke="#2a7db6" stroke-width="0.5"/>
<line x1="109.6" y1="562.45" x2="113.6" y2="562.45" stroke="#2a7db6" stroke-width="0.6"/>
<line x1="110.1" y1="557.725" x2="113.1" y2="557.725" stroke="#3d8fc6" stroke-width="0.5"/>
<line x1="110.1" y1="567.175" x2="113.1" y2="567.175" stroke="#3d8fc6" stroke-width="0.5"/>
<line x1="110.1" y1="569.8" x2="113.1" y2="569.8" stroke="#3d8fc6" stroke-width="0.5"/>
<line x1="117.04999999999998" y1="577.5" x2="117.04999999999998" y2="579.8" stroke="#333" stroke-width="0.6"/>
<text x="117.04999999999998" y="589.3" font-size="7.3" fill="#333" text-anchor="middle">V</text>
<path d="M117.05,553.00 C119.30,558.25 119.80,565.60 117.05,574.00 C114.30,565.60 114.80,558.25 117.05,553.00 Z" fill="#6cbbe6" stroke="none" stroke-width="0.6" opacity="0.95"/>
<line x1="117.04999999999998" y1="551.5" x2="117.04999999999998" y2="575.5" stroke="#2a7db6" stroke-width="0.5"/>
<line x1="115.04999999999998" y1="562.45" x2="119.04999999999998" y2="562.45" stroke="#2a7db6" stroke-width="0.6"/>
<line x1="115.54999999999998" y1="557.725" x2="118.54999999999998" y2="557.725" stroke="#3d8fc6" stroke-width="0.5"/>
<line x1="115.54999999999998" y1="567.175" x2="118.54999999999998" y2="567.175" stroke="#3d8fc6" stroke-width="0.5"/>
<line x1="115.54999999999998" y1="569.8" x2="118.54999999999998" y2="569.8" stroke="#3d8fc6" stroke-width="0.5"/>
<line x1="122.49999999999999" y1="577.5" x2="122.49999999999999" y2="579.8" stroke="#333" stroke-width="0.6"/>
<text x="122.49999999999999" y="589.3" font-size="7.3" fill="#333" text-anchor="middle">D</text>
<path d="M122.50,542.00 C124.75,547.50 125.25,555.20 122.50,564.00 C119.75,555.20 120.25,547.50 122.50,542.00 Z" fill="#6cbbe6" stroke="none" stroke-width="0.6" opacity="0.95"/>
<line x1="122.49999999999999" y1="540.5" x2="122.49999999999999" y2="565.5" stroke="#2a7db6" stroke-width="0.5"/>
<line x1="120.49999999999999" y1="551.9" x2="124.49999999999999" y2="551.9" stroke="#2a7db6" stroke-width="0.6"/>
<line x1="120.99999999999999" y1="546.95" x2="123.99999999999999" y2="546.95" stroke="#3d8fc6" stroke-width="0.5"/>
<line x1="120.99999999999999" y1="556.85" x2="123.99999999999999" y2="556.85" stroke="#3d8fc6" stroke-width="0.5"/>
<line x1="120.99999999999999" y1="559.6" x2="123.99999999999999" y2="559.6" stroke="#3d8fc6" stroke-width="0.5"/>
<line x1="127.94999999999999" y1="577.5" x2="127.94999999999999" y2="579.8" stroke="#333" stroke-width="0.6"/>
<text x="127.94999999999999" y="589.3" font-size="7.3" fill="#333" text-anchor="middle">D</text>
<path d="M127.95,541.50 C130.20,547.00 130.70,554.70 127.95,563.50 C125.20,554.70 125.70,547.00 127.95,541.50 Z" fill="#6cbbe6" stroke="none" stroke-width="0.6" opacity="0.95"/>
<line x1="127.94999999999999" y1="540.0" x2="127.94999999999999" y2="565.0" stroke="#2a7db6" stroke-width="0.5"/>
<line x1="125.94999999999999" y1="551.4" x2="129.95" y2="551.4" stroke="#2a7db6" stroke-width="0.6"/>
<line x1="126.44999999999999" y1="546.45" x2="129.45" y2="546.45" stroke="#3d8fc6" stroke-width="0.5"/>
<line x1="126.44999999999999" y1="556.35" x2="129.45" y2="556.35" stroke="#3d8fc6" stroke-width="0.5"/>
<line x1="126.44999999999999" y1="559.1" x2="129.45" y2="559.1" stroke="#3d8fc6" stroke-width="0.5"/>
<line x1="133.39999999999998" y1="577.5" x2="133.39999999999998" y2="579.8" stroke="#333" stroke-width="0.6"/>
<text x="133.39999999999998" y="589.3" font-size="7.3" fill="#333" text-anchor="middle">V</text>
<path d="M133.40,551.50 C135.65,557.00 136.15,564.70 133.40,573.50 C130.65,564.70 131.15,557.00 133.40,551.50 Z" fill="#6cbbe6" stroke="none" stroke-width="0.6" opacity="0.95"/>
<line x1="133.39999999999998" y1="550.0" x2="133.39999999999998" y2="575.0" stroke="#2a7db6" stroke-width="0.5"/>
<line x1="131.39999999999998" y1="561.4" x2="135.39999999999998" y2="561.4" stroke="#2a7db6" stroke-width="0.6"/>
<line x1="131.89999999999998" y1="556.45" x2="134.89999999999998" y2="556.45" stroke="#3d8fc6" stroke-width="0.5"/>
<line x1="131.89999999999998" y1="566.35" x2="134.89999999999998" y2="566.35" stroke="#3d8fc6" stroke-width="0.5"/>
<line x1="131.89999999999998" y1="569.1" x2="134.89999999999998" y2="569.1" stroke="#3d8fc6" stroke-width="0.5"/>
<line x1="138.85" y1="577.5" x2="138.85" y2="579.8" stroke="#333" stroke-width="0.6"/>
<text x="138.85" y="589.3" font-size="7.3" fill="#333" text-anchor="middle">V</text>
<path d="M138.85,551.50 C141.10,557.00 141.60,564.70 138.85,573.50 C136.10,564.70 136.60,557.00 138.85,551.50 Z" fill="#6cbbe6" stroke="none" stroke-width="0.6" opacity="0.95"/>
<line x1="138.85" y1="550.0" x2="138.85" y2="575.0" stroke="#2a7db6" stroke-width="0.5"/>
<line x1="136.85" y1="561.4" x2="140.85" y2="561.4" stroke="#2a7db6" stroke-width="0.6"/>
<line x1="137.35" y1="556.45" x2="140.35" y2="556.45" stroke="#3d8fc6" stroke-width="0.5"/>
<line x1="137.35" y1="566.35" x2="140.35" y2="566.35" stroke="#3d8fc6" stroke-width="0.5"/>
<line x1="137.35" y1="569.1" x2="140.35" y2="569.1" stroke="#3d8fc6" stroke-width="0.5"/>
<line x1="95.39999999999999" y1="538.1" x2="97.6" y2="538.1" stroke="#333" stroke-width="0.7"/>
<line x1="95.39999999999999" y1="550.7" x2="97.6" y2="550.7" stroke="#333" stroke-width="0.7"/>
<line x1="95.39999999999999" y1="563.3" x2="97.6" y2="563.3" stroke="#333" stroke-width="0.7"/>
<line x1="95.39999999999999" y1="575.8" x2="97.6" y2="575.8" stroke="#333" stroke-width="0.7"/>
<line x1="99.69999999999999" y1="592.4" x2="118.54999999999998" y2="592.4" stroke="#333" stroke-width="0.7"/>
<line x1="120.99999999999999" y1="592.4" x2="140.35" y2="592.4" stroke="#333" stroke-width="0.7"/>
<text x="107.37499999999999" y="601.6" font-size="7.4" fill="#333" text-anchor="middle" textLength="15.5" lengthAdjust="spacingAndGlyphs">sg<tspan font-style="italic">Luc</tspan></text>
<text x="131.27499999999998" y="601.6" font-size="7.4" fill="#333" text-anchor="middle" textLength="26" lengthAdjust="spacingAndGlyphs">sgPCGF1</text>
<text x="16.6" y="556.5" font-size="7.8" fill="#333" text-anchor="middle" textLength="21" lengthAdjust="spacingAndGlyphs" transform="rotate(-90 16.6 556.5)" stroke="#333" stroke-width="0.14">log2FC</text>
<text x="28.0" y="557.4" font-size="7.8" fill="#333" text-anchor="middle" textLength="45" lengthAdjust="spacingAndGlyphs" transform="rotate(-90 28.0 557.4)" stroke="#333" stroke-width="0.14">vs sg<tspan font-style="italic">Luc</tspan> DMSO</text>
<text x="156" y="418.0" font-size="10.5" fill="#111" font-weight="bold">J</text>
<rect x="169.20" y="425.90" width="3.00" height="3.00" fill="#33425e"/>
<text x="173.3" y="429.9" font-size="6.6" fill="#333" textLength="16.4" lengthAdjust="spacingAndGlyphs">sgLuc</text>
<rect x="169.20" y="433.20" width="3.00" height="3.00" fill="#e8961f"/>
<text x="173.3" y="437.3" font-size="6.4" fill="#333" textLength="25.9" lengthAdjust="spacingAndGlyphs">sgPCGF1</text>
<line x1="170.7" y1="439.6" x2="198.4" y2="439.6" stroke="#444" stroke-width="0.6"/>
<line x1="185.4" y1="439.6" x2="195.8" y2="445.3" stroke="#444" stroke-width="0.6"/>
<text x="224.1" y="429.4" font-size="6.8" fill="#333" text-anchor="middle" textLength="36.2" lengthAdjust="spacingAndGlyphs">Type I Menin</text>
<text x="223.8" y="436.8" font-size="6.6" fill="#333" text-anchor="middle">target</text>
<text x="279.3" y="429.4" font-size="6.6" fill="#333" text-anchor="middle" textLength="37" lengthAdjust="spacingAndGlyphs">Type II Menin</text>
<text x="279.3" y="436.8" font-size="6.6" fill="#333" text-anchor="middle">target</text>
<text x="238.2" y="446.4" font-size="7.0" fill="#111" textLength="15.6" lengthAdjust="spacingAndGlyphs">10 kb</text>
<line x1="244.8" y1="448.3" x2="247.9" y2="448.3" stroke="#111" stroke-width="0.9"/>
<text x="293.6" y="446.4" font-size="7.0" fill="#111" textLength="11" lengthAdjust="spacingAndGlyphs">1 kb</text>
<line x1="296.0" y1="448.3" x2="299.0" y2="448.3" stroke="#111" stroke-width="0.9"/>
<rect x="196.00" y="444.60" width="3.00" height="20.84" fill="#33425e"/>
<rect x="196.00" y="465.44" width="3.00" height="20.24" fill="#e8961f"/>
<rect x="196.00" y="486.28" width="3.00" height="20.84" fill="#33425e"/>
<rect x="196.00" y="507.12" width="3.00" height="20.24" fill="#e8961f"/>
<rect x="196.00" y="527.96" width="3.00" height="20.84" fill="#33425e"/>
<rect x="196.00" y="548.80" width="3.00" height="20.24" fill="#e8961f"/>
<text x="172.4" y="452.20000000000005" font-size="6.6" fill="#333" textLength="19" lengthAdjust="spacingAndGlyphs">DMSO</text>
<text x="172.4" y="462.62000000000006" font-size="6.6" fill="#333" textLength="11.5" lengthAdjust="spacingAndGlyphs">VTP</text>
<text x="172.4" y="473.04" font-size="6.6" fill="#333" textLength="19" lengthAdjust="spacingAndGlyphs">DMSO</text>
<text x="172.4" y="483.46000000000004" font-size="6.6" fill="#333" textLength="11.5" lengthAdjust="spacingAndGlyphs">VTP</text>
<text x="172.4" y="493.88000000000005" font-size="6.6" fill="#333" textLength="19" lengthAdjust="spacingAndGlyphs">DMSO</text>
<text x="172.4" y="504.30000000000007" font-size="6.6" fill="#333" textLength="11.5" lengthAdjust="spacingAndGlyphs">VTP</text>
<text x="172.4" y="514.72" font-size="6.6" fill="#333" textLength="19" lengthAdjust="spacingAndGlyphs">DMSO</text>
<text x="172.4" y="525.14" font-size="6.6" fill="#333" textLength="11.5" lengthAdjust="spacingAndGlyphs">VTP</text>
<text x="172.4" y="535.5600000000001" font-size="6.6" fill="#333" textLength="19" lengthAdjust="spacingAndGlyphs">DMSO</text>
<text x="172.4" y="545.98" font-size="6.6" fill="#333" textLength="11.5" lengthAdjust="spacingAndGlyphs">VTP</text>
<text x="172.4" y="556.4000000000001" font-size="6.6" fill="#333" textLength="19" lengthAdjust="spacingAndGlyphs">DMSO</text>
<text x="172.4" y="566.82" font-size="6.6" fill="#333" textLength="11.5" lengthAdjust="spacingAndGlyphs">VTP</text>
<line x1="169.9" y1="447.8" x2="169.9" y2="485.28000000000003" stroke="#666" stroke-width="0.6"/>
<text x="166.4" y="465.2" font-size="6.9" fill="#5cb3e3" text-anchor="middle" textLength="18" lengthAdjust="spacingAndGlyphs" transform="rotate(-90 166.4 465.2)">Menin</text>
<line x1="169.9" y1="489.48" x2="169.9" y2="526.96" stroke="#666" stroke-width="0.6"/>
<text x="166.4" y="507.7" font-size="6.9" fill="#c8213f" text-anchor="middle" textLength="36" lengthAdjust="spacingAndGlyphs" transform="rotate(-90 166.4 507.7)">H2AK119ub</text>
<line x1="169.9" y1="531.1600000000001" x2="169.9" y2="568.64" stroke="#666" stroke-width="0.6"/>
<text x="166.4" y="542.8" font-size="6.9" fill="#6a6a7a" text-anchor="middle" font-style="italic" textLength="24" lengthAdjust="spacingAndGlyphs" transform="rotate(-90 166.4 542.8)">RNA-seq</text>
<line x1="255.2" y1="442.5" x2="255.2" y2="571.5" stroke="#555" stroke-width="0.6"/>
<path d="M200.5,454.40 L200.50,454.40 L201.00,454.40 L201.50,454.40 L202.00,454.40 L202.50,454.40 L203.00,454.40 L203.50,454.40 L204.00,454.40 L204.50,454.40 L205.00,454.40 L205.50,454.39 L206.00,454.36 L206.50,454.23 L207.00,453.85 L207.50,453.02 L208.00,451.52 L208.50,449.90 L209.00,448.12 L209.50,448.68 L210.00,448.03 L210.50,447.75 L211.00,448.52 L211.50,448.18 L212.00,449.05 L212.50,448.48 L213.00,449.30 L213.50,450.15 L214.00,451.66 L214.50,453.17 L215.00,453.86 L215.50,454.21 L216.00,454.35 L216.50,454.39 L217.00,454.40 L217.50,454.40 L218.00,454.40 L218.50,454.40 L219.00,454.40 L219.50,454.40 L220.00,454.40 L220.50,454.40 L221.00,454.40 L221.50,454.40 L222.00,454.40 L222.50,454.40 L223.00,454.40 L223.50,454.40 L224.00,454.40 L224.50,454.40 L225.00,454.40 L225.50,454.40 L226.00,454.40 L226.50,454.40 L227.00,454.40 L227.50,454.40 L228.00,454.40 L228.50,454.39 L229.00,454.23 L229.50,453.63 L230.00,453.30 L230.50,453.63 L231.00,454.26 L231.50,454.39 L232.00,454.40 L232.50,454.40 L233.00,454.40 L233.50,454.40 L234.00,454.40 L234.50,454.40 L235.00,454.40 L235.50,454.40 L236.00,454.39 L236.50,454.33 L237.00,454.08 L237.50,453.60 L238.00,452.97 L238.50,452.22 L239.00,452.87 L239.50,453.51 L240.00,453.70 L240.50,453.34 L241.00,452.60 L241.50,451.14 L242.00,450.97 L242.50,451.34 L243.00,452.63 L243.50,453.25 L244.00,453.42 L244.50,452.54 L245.00,451.65 L245.50,452.14 L246.00,453.07 L246.50,453.96 L247.00,454.30 L247.50,454.39 L248.00,454.40 L248.50,454.40 L249.00,454.40 L249.50,454.40 L250.00,454.40 L250.50,454.40 L251.00,454.40 L251.2,454.40 Z" fill="#2f97d2" stroke="none" stroke-width="0.6"/>
<line x1="200.5" y1="454.4" x2="251.2" y2="454.4" stroke="#9ccbe9" stroke-width="0.5"/>
<path d="M257.5,454.40 L257.50,454.40 L258.00,454.40 L258.50,454.40 L259.00,454.39 L259.50,454.35 L260.00,454.26 L260.50,454.17 L261.00,454.02 L261.50,453.77 L262.00,453.54 L262.50,453.88 L263.00,453.77 L263.50,454.02 L264.00,454.06 L264.50,453.82 L265.00,453.69 L265.50,453.50 L266.00,453.10 L266.50,452.65 L267.00,453.15 L267.50,452.16 L268.00,453.16 L268.50,452.36 L269.00,452.08 L269.50,452.84 L270.00,451.44 L270.50,451.84 L271.00,451.40 L271.50,452.49 L272.00,452.67 L272.50,452.80 L273.00,452.22 L273.50,452.98 L274.00,451.94 L274.50,450.82 L275.00,449.73 L275.50,450.43 L276.00,450.15 L276.50,449.88 L277.00,449.82 L277.50,451.77 L278.00,450.58 L278.50,449.96 L279.00,448.78 L279.50,450.46 L280.00,447.00 L280.50,450.21 L281.00,450.08 L281.50,450.18 L282.00,450.06 L282.50,451.28 L283.00,449.68 L283.50,450.17 L284.00,450.63 L284.50,450.83 L285.00,451.60 L285.50,452.33 L286.00,452.70 L286.50,452.40 L287.00,452.12 L287.50,452.85 L288.00,452.80 L288.50,451.47 L289.00,452.30 L289.50,452.86 L290.00,453.46 L290.50,453.67 L291.00,453.86 L291.50,453.98 L292.00,453.86 L292.50,453.86 L293.00,453.39 L293.50,453.88 L294.00,453.89 L294.50,454.05 L295.00,454.26 L295.50,454.35 L296.00,454.39 L296.50,454.40 L297.00,454.40 L297.50,454.40 L298.00,454.40 L298.50,454.40 L299.00,454.40 L299.50,454.40 L300.00,454.40 L300.50,454.40 L301.00,454.40 L301.50,454.40 L302.00,454.40 L302.50,454.40 L303.00,454.40 L303.50,454.40 L304.00,454.40 L304.50,454.40 L305.00,454.40 L305.50,454.40 L306.00,454.40 L306.0,454.40 Z" fill="#2f97d2" stroke="none" stroke-width="0.6"/>
<line x1="257.5" y1="454.4" x2="306.0" y2="454.4" stroke="#9ccbe9" stroke-width="0.5"/>
<path d="M200.5,464.30 L200.50,464.30 L201.00,464.30 L201.50,464.30 L202.00,464.30 L202.50,464.30 L203.00,464.30 L203.50,464.30 L204.00,464.30 L204.50,464.30 L205.00,464.30 L205.50,464.30 L206.00,464.30 L206.50,464.30 L207.00,464.29 L207.50,464.26 L208.00,464.20 L208.50,464.14 L209.00,463.85 L209.50,463.59 L210.00,463.65 L210.50,463.65 L211.00,464.02 L211.50,464.09 L212.00,464.20 L212.50,464.26 L213.00,464.29 L213.50,464.30 L214.00,464.30 L214.50,464.30 L215.00,464.30 L215.50,464.30 L216.00,464.30 L216.50,464.30 L217.00,464.30 L217.50,464.30 L218.00,464.30 L218.50,464.30 L219.00,464.30 L219.50,464.30 L220.00,464.30 L220.50,464.30 L221.00,464.30 L221.50,464.30 L222.00,464.30 L222.50,464.30 L223.00,464.30 L223.50,464.30 L224.00,464.30 L224.50,464.30 L225.00,464.30 L225.50,464.30 L226.00,464.30 L226.50,464.30 L227.00,464.30 L227.50,464.30 L228.00,464.30 L228.50,464.30 L229.00,464.30 L229.50,464.30 L230.00,464.30 L230.50,464.30 L231.00,464.30 L231.50,464.30 L232.00,464.30 L232.50,464.30 L233.00,464.30 L233.50,464.30 L234.00,464.30 L234.50,464.30 L235.00,464.30 L235.50,464.30 L236.00,464.30 L236.50,464.30 L237.00,464.30 L237.50,464.30 L238.00,464.30 L238.50,464.30 L239.00,464.30 L239.50,464.30 L240.00,464.30 L240.50,464.30 L241.00,464.30 L241.50,464.30 L242.00,464.30 L242.50,464.30 L243.00,464.30 L243.50,464.30 L244.00,464.30 L244.50,464.30 L245.00,464.30 L245.50,464.30 L246.00,464.30 L246.50,464.30 L247.00,464.30 L247.50,464.30 L248.00,464.30 L248.50,464.30 L249.00,464.30 L249.50,464.30 L250.00,464.30 L250.50,464.30 L251.00,464.30 L251.2,464.30 Z" fill="#2f97d2" stroke="none" stroke-width="0.6"/>
<line x1="200.5" y1="464.3" x2="251.2" y2="464.3" stroke="#b5d8ef" stroke-width="0.5"/>
<path d="M257.5,464.30 L257.50,464.30 L258.00,464.30 L258.50,464.30 L259.00,464.30 L259.50,464.30 L260.00,464.30 L260.50,464.30 L261.00,464.30 L261.50,464.30 L262.00,464.29 L262.50,464.27 L263.00,464.24 L263.50,464.17 L264.00,464.13 L264.50,463.89 L265.00,463.89 L265.50,463.75 L266.00,463.51 L266.50,463.60 L267.00,463.67 L267.50,463.92 L268.00,463.98 L268.50,463.95 L269.00,463.93 L269.50,463.86 L270.00,463.64 L270.50,463.58 L271.00,463.27 L271.50,462.68 L272.00,462.64 L272.50,462.95 L273.00,463.18 L273.50,463.45 L274.00,463.72 L274.50,463.74 L275.00,463.54 L275.50,463.34 L276.00,463.33 L276.50,462.62 L277.00,462.18 L277.50,461.94 L278.00,461.84 L278.50,461.78 L279.00,462.46 L279.50,462.28 L280.00,462.82 L280.50,462.57 L281.00,462.09 L281.50,462.01 L282.00,462.47 L282.50,461.87 L283.00,462.57 L283.50,463.05 L284.00,463.70 L284.50,463.65 L285.00,463.81 L285.50,463.57 L286.00,463.50 L286.50,463.17 L287.00,463.21 L287.50,463.19 L288.00,463.59 L288.50,463.68 L289.00,463.88 L289.50,464.05 L290.00,464.19 L290.50,464.25 L291.00,464.28 L291.50,464.29 L292.00,464.30 L292.50,464.30 L293.00,464.30 L293.50,464.30 L294.00,464.30 L294.50,464.30 L295.00,464.30 L295.50,464.30 L296.00,464.30 L296.50,464.30 L297.00,464.30 L297.50,464.30 L298.00,464.30 L298.50,464.30 L299.00,464.30 L299.50,464.30 L300.00,464.30 L300.50,464.30 L301.00,464.30 L301.50,464.30 L302.00,464.30 L302.50,464.30 L303.00,464.30 L303.50,464.30 L304.00,464.30 L304.50,464.30 L305.00,464.30 L305.50,464.30 L306.00,464.30 L306.0,464.30 Z" fill="#2f97d2" stroke="none" stroke-width="0.6"/>
<line x1="257.5" y1="464.3" x2="306.0" y2="464.3" stroke="#9ccbe9" stroke-width="0.5"/>
<path d="M200.5,474.80 L200.50,474.80 L201.00,474.80 L201.50,474.80 L202.00,474.80 L202.50,474.80 L203.00,474.80 L203.50,474.80 L204.00,474.80 L204.50,474.80 L205.00,474.80 L205.50,474.79 L206.00,474.76 L206.50,474.64 L207.00,474.24 L207.50,473.39 L208.00,472.08 L208.50,470.06 L209.00,468.47 L209.50,468.32 L210.00,468.33 L210.50,469.27 L211.00,468.66 L211.50,468.53 L212.00,468.94 L212.50,468.56 L213.00,469.08 L213.50,470.36 L214.00,472.32 L214.50,473.31 L215.00,474.20 L215.50,474.60 L216.00,474.75 L216.50,474.79 L217.00,474.80 L217.50,474.80 L218.00,474.80 L218.50,474.80 L219.00,474.80 L219.50,474.80 L220.00,474.80 L220.50,474.80 L221.00,474.80 L221.50,474.80 L222.00,474.80 L222.50,474.80 L223.00,474.80 L223.50,474.80 L224.00,474.80 L224.50,474.80 L225.00,474.80 L225.50,474.80 L226.00,474.80 L226.50,474.80 L227.00,474.80 L227.50,474.80 L228.00,474.80 L228.50,474.79 L229.00,474.65 L229.50,474.06 L230.00,473.52 L230.50,474.06 L231.00,474.64 L231.50,474.79 L232.00,474.80 L232.50,474.80 L233.00,474.80 L233.50,474.80 L234.00,474.80 L234.50,474.80 L235.00,474.80 L235.50,474.80 L236.00,474.79 L236.50,474.73 L237.00,474.52 L237.50,474.00 L238.00,473.20 L238.50,472.73 L239.00,473.27 L239.50,473.80 L240.00,474.15 L240.50,473.94 L241.00,472.92 L241.50,472.06 L242.00,471.76 L242.50,472.12 L243.00,472.98 L243.50,473.84 L244.00,473.93 L244.50,473.31 L245.00,472.31 L245.50,472.49 L246.00,473.39 L246.50,474.31 L247.00,474.70 L247.50,474.79 L248.00,474.80 L248.50,474.80 L249.00,474.80 L249.50,474.80 L250.00,474.80 L250.50,474.80 L251.00,474.80 L251.2,474.80 Z" fill="#2f97d2" stroke="none" stroke-width="0.6"/>
<line x1="200.5" y1="474.8" x2="251.2" y2="474.8" stroke="#9ccbe9" stroke-width="0.5"/>
<path d="M257.5,474.80 L257.50,474.80 L258.00,474.80 L258.50,474.80 L259.00,474.79 L259.50,474.75 L260.00,474.66 L260.50,474.55 L261.00,474.16 L261.50,474.30 L262.00,474.04 L262.50,474.16 L263.00,474.26 L263.50,474.48 L264.00,474.34 L264.50,474.35 L265.00,474.28 L265.50,473.72 L266.00,473.80 L266.50,473.20 L267.00,473.26 L267.50,472.97 L268.00,472.58 L268.50,472.69 L269.00,472.97 L269.50,472.19 L270.00,472.06 L270.50,472.23 L271.00,472.55 L271.50,471.93 L272.00,472.34 L272.50,472.28 L273.00,472.61 L273.50,472.95 L274.00,472.86 L274.50,471.28 L275.00,472.22 L275.50,471.45 L276.00,469.96 L276.50,470.04 L277.00,471.72 L277.50,471.10 L278.00,470.70 L278.50,471.31 L279.00,470.37 L279.50,470.23 L280.00,469.69 L280.50,467.68 L281.00,470.37 L281.50,469.75 L282.00,470.47 L282.50,471.15 L283.00,471.58 L283.50,469.49 L284.00,470.57 L284.50,470.99 L285.00,471.71 L285.50,471.22 L286.00,472.65 L286.50,473.24 L287.00,473.07 L287.50,473.29 L288.00,472.45 L288.50,472.61 L289.00,472.99 L289.50,472.90 L290.00,473.47 L290.50,474.31 L291.00,474.34 L291.50,474.43 L292.00,474.09 L292.50,473.94 L293.00,474.12 L293.50,474.18 L294.00,474.39 L294.50,474.42 L295.00,474.66 L295.50,474.75 L296.00,474.79 L296.50,474.80 L297.00,474.80 L297.50,474.80 L298.00,474.80 L298.50,474.80 L299.00,474.80 L299.50,474.80 L300.00,474.80 L300.50,474.80 L301.00,474.80 L301.50,474.80 L302.00,474.80 L302.50,474.80 L303.00,474.80 L303.50,474.80 L304.00,474.80 L304.50,474.80 L305.00,474.80 L305.50,474.80 L306.00,474.80 L306.0,474.80 Z" fill="#2f97d2" stroke="none" stroke-width="0.6"/>
<line x1="257.5" y1="474.8" x2="306.0" y2="474.8" stroke="#9ccbe9" stroke-width="0.5"/>
<path d="M200.5,485.00 L200.50,485.00 L201.00,485.00 L201.50,485.00 L202.00,485.00 L202.50,485.00 L203.00,485.00 L203.50,485.00 L204.00,485.00 L204.50,485.00 L205.00,485.00 L205.50,485.00 L206.00,485.00 L206.50,485.00 L207.00,484.99 L207.50,484.96 L208.00,484.90 L208.50,484.81 L209.00,484.59 L209.50,484.47 L210.00,484.34 L210.50,484.42 L211.00,484.55 L211.50,484.84 L212.00,484.90 L212.50,484.96 L213.00,484.99 L213.50,485.00 L214.00,485.00 L214.50,485.00 L215.00,485.00 L215.50,485.00 L216.00,485.00 L216.50,485.00 L217.00,485.00 L217.50,485.00 L218.00,485.00 L218.50,485.00 L219.00,485.00 L219.50,485.00 L220.00,485.00 L220.50,485.00 L221.00,485.00 L221.50,485.00 L222.00,485.00 L222.50,485.00 L223.00,485.00 L223.50,485.00 L224.00,485.00 L224.50,485.00 L225.00,485.00 L225.50,485.00 L226.00,485.00 L226.50,485.00 L227.00,485.00 L227.50,485.00 L228.00,485.00 L228.50,485.00 L229.00,485.00 L229.50,485.00 L230.00,485.00 L230.50,485.00 L231.00,485.00 L231.50,485.00 L232.00,485.00 L232.50,485.00 L233.00,485.00 L233.50,485.00 L234.00,485.00 L234.50,485.00 L235.00,485.00 L235.50,485.00 L236.00,485.00 L236.50,485.00 L237.00,485.00 L237.50,485.00 L238.00,485.00 L238.50,485.00 L239.00,485.00 L239.50,485.00 L240.00,485.00 L240.50,485.00 L241.00,485.00 L241.50,485.00 L242.00,485.00 L242.50,485.00 L243.00,485.00 L243.50,485.00 L244.00,485.00 L244.50,485.00 L245.00,485.00 L245.50,485.00 L246.00,485.00 L246.50,485.00 L247.00,485.00 L247.50,485.00 L248.00,485.00 L248.50,485.00 L249.00,485.00 L249.50,485.00 L250.00,485.00 L250.50,485.00 L251.00,485.00 L251.2,485.00 Z" fill="#2f97d2" stroke="none" stroke-width="0.6"/>
<line x1="200.5" y1="485.0" x2="251.2" y2="485.0" stroke="#b5d8ef" stroke-width="0.5"/>
<path d="M257.5,485.00 L257.50,485.00 L258.00,485.00 L258.50,485.00 L259.00,485.00 L259.50,485.00 L260.00,485.00 L260.50,485.00 L261.00,485.00 L261.50,485.00 L262.00,484.99 L262.50,484.97 L263.00,484.94 L263.50,484.87 L264.00,484.74 L264.50,484.70 L265.00,484.52 L265.50,484.49 L266.00,484.47 L266.50,484.42 L267.00,484.52 L267.50,484.64 L268.00,484.63 L268.50,484.67 L269.00,484.73 L269.50,484.57 L270.00,484.32 L270.50,483.86 L271.00,483.63 L271.50,483.72 L272.00,484.08 L272.50,483.54 L273.00,483.93 L273.50,484.02 L274.00,484.14 L274.50,484.29 L275.00,484.36 L275.50,484.02 L276.00,484.01 L276.50,483.66 L277.00,482.80 L277.50,483.27 L278.00,483.03 L278.50,482.38 L279.00,483.52 L279.50,482.84 L280.00,483.10 L280.50,483.33 L281.00,483.34 L281.50,482.60 L282.00,482.40 L282.50,483.49 L283.00,483.43 L283.50,483.77 L284.00,484.16 L284.50,484.43 L285.00,484.54 L285.50,484.30 L286.00,484.03 L286.50,484.29 L287.00,484.16 L287.50,483.88 L288.00,484.08 L288.50,484.37 L289.00,484.74 L289.50,484.76 L290.00,484.89 L290.50,484.95 L291.00,484.98 L291.50,484.99 L292.00,485.00 L292.50,485.00 L293.00,485.00 L293.50,485.00 L294.00,485.00 L294.50,485.00 L295.00,485.00 L295.50,485.00 L296.00,485.00 L296.50,485.00 L297.00,485.00 L297.50,485.00 L298.00,485.00 L298.50,485.00 L299.00,485.00 L299.50,485.00 L300.00,485.00 L300.50,485.00 L301.00,485.00 L301.50,485.00 L302.00,485.00 L302.50,485.00 L303.00,485.00 L303.50,485.00 L304.00,485.00 L304.50,485.00 L305.00,485.00 L305.50,485.00 L306.00,485.00 L306.0,485.00 Z" fill="#2f97d2" stroke="none" stroke-width="0.6"/>
<line x1="257.5" y1="485.0" x2="306.0" y2="485.0" stroke="#9ccbe9" stroke-width="0.5"/>
<path d="M200.5,496.00 L200.50,496.00 L201.00,495.99 L201.50,495.96 L202.00,495.88 L202.50,495.66 L203.00,495.39 L203.50,495.29 L204.00,495.52 L204.50,495.22 L205.00,495.63 L205.50,495.68 L206.00,495.71 L206.50,495.70 L207.00,495.70 L207.50,495.54 L208.00,495.22 L208.50,495.59 L209.00,495.59 L209.50,495.79 L210.00,495.90 L210.50,495.96 L211.00,495.99 L211.50,496.00 L212.00,496.00 L212.50,496.00 L213.00,496.00 L213.50,496.00 L214.00,496.00 L214.50,496.00 L215.00,496.00 L215.50,496.00 L216.00,496.00 L216.50,496.00 L217.00,496.00 L217.50,496.00 L218.00,496.00 L218.50,496.00 L219.00,496.00 L219.50,496.00 L220.00,496.00 L220.50,496.00 L221.00,496.00 L221.50,496.00 L222.00,496.00 L222.50,496.00 L223.00,496.00 L223.50,496.00 L224.00,495.99 L224.50,495.97 L225.00,495.89 L225.50,495.82 L226.00,495.67 L226.50,495.84 L227.00,495.89 L227.50,495.97 L228.00,495.99 L228.50,496.00 L229.00,496.00 L229.50,496.00 L230.00,496.00 L230.50,496.00 L231.00,496.00 L231.50,496.00 L232.00,496.00 L232.50,496.00 L233.00,496.00 L233.50,496.00 L234.00,496.00 L234.50,496.00 L235.00,496.00 L235.50,496.00 L236.00,496.00 L236.50,496.00 L237.00,496.00 L237.50,496.00 L238.00,495.99 L238.50,495.97 L239.00,495.89 L239.50,495.83 L240.00,495.73 L240.50,495.84 L241.00,495.89 L241.50,495.97 L242.00,495.99 L242.50,496.00 L243.00,496.00 L243.50,496.00 L244.00,496.00 L244.50,496.00 L245.00,496.00 L245.50,496.00 L246.00,496.00 L246.50,496.00 L247.00,496.00 L247.50,496.00 L248.00,496.00 L248.50,496.00 L249.00,496.00 L249.50,496.00 L250.00,496.00 L250.50,496.00 L251.00,496.00 L251.2,496.00 Z" fill="#c1142e" stroke="none" stroke-width="0.6"/>
<line x1="200.5" y1="496.0" x2="251.2" y2="496.0" stroke="#e7a0ac" stroke-width="0.5" stroke-dasharray="1.5,1"/>
<path d="M257.5,496.00 L257.50,496.00 L258.00,496.00 L258.50,496.00 L259.00,496.00 L259.50,495.99 L260.00,495.97 L260.50,495.90 L261.00,495.83 L261.50,495.56 L262.00,495.41 L262.50,495.46 L263.00,495.80 L263.50,495.84 L264.00,495.80 L264.50,495.48 L265.00,495.10 L265.50,494.27 L266.00,494.61 L266.50,495.04 L267.00,494.76 L267.50,495.31 L268.00,494.83 L268.50,494.43 L269.00,493.14 L269.50,493.11 L270.00,492.75 L270.50,493.68 L271.00,493.71 L271.50,494.74 L272.00,494.86 L272.50,495.21 L273.00,495.17 L273.50,494.30 L274.00,492.77 L274.50,490.26 L275.00,491.73 L275.50,490.34 L276.00,492.09 L276.50,494.52 L277.00,494.06 L277.50,493.13 L278.00,491.34 L278.50,491.59 L279.00,494.53 L279.50,493.71 L280.00,493.46 L280.50,493.16 L281.00,491.77 L281.50,493.82 L282.00,492.98 L282.50,494.71 L283.00,494.98 L283.50,494.36 L284.00,494.31 L284.50,494.49 L285.00,494.52 L285.50,493.61 L286.00,494.57 L286.50,495.10 L287.00,495.75 L287.50,495.86 L288.00,495.89 L288.50,495.72 L289.00,495.46 L289.50,495.18 L290.00,494.94 L290.50,494.91 L291.00,495.46 L291.50,495.77 L292.00,495.91 L292.50,495.90 L293.00,495.78 L293.50,495.23 L294.00,495.12 L294.50,495.24 L295.00,495.72 L295.50,495.92 L296.00,495.99 L296.50,496.00 L297.00,496.00 L297.50,496.00 L298.00,496.00 L298.50,496.00 L299.00,496.00 L299.50,496.00 L300.00,496.00 L300.50,496.00 L301.00,496.00 L301.50,496.00 L302.00,496.00 L302.50,496.00 L303.00,496.00 L303.50,496.00 L304.00,496.00 L304.50,496.00 L305.00,496.00 L305.50,496.00 L306.00,496.00 L306.0,496.00 Z" fill="#c1142e" stroke="none" stroke-width="0.6"/>
<line x1="257.5" y1="496.0" x2="306.0" y2="496.0" stroke="#e7a0ac" stroke-width="0.5" stroke-dasharray="1.5,1"/>
<path d="M200.5,506.50 L200.50,506.49 L201.00,506.47 L201.50,506.41 L202.00,506.21 L202.50,505.98 L203.00,505.54 L203.50,505.18 L204.00,504.86 L204.50,505.33 L205.00,505.84 L205.50,506.10 L206.00,506.15 L206.50,506.14 L207.00,505.49 L207.50,505.43 L208.00,505.08 L208.50,505.80 L209.00,505.75 L209.50,505.94 L210.00,506.28 L210.50,506.43 L211.00,506.48 L211.50,506.49 L212.00,506.50 L212.50,506.50 L213.00,506.50 L213.50,506.50 L214.00,506.50 L214.50,506.50 L215.00,506.50 L215.50,506.50 L216.00,506.50 L216.50,506.50 L217.00,506.50 L217.50,506.50 L218.00,506.50 L218.50,506.50 L219.00,506.50 L219.50,506.50 L220.00,506.50 L220.50,506.50 L221.00,506.50 L221.50,506.50 L222.00,506.50 L222.50,506.50 L223.00,506.50 L223.50,506.50 L224.00,506.49 L224.50,506.47 L225.00,506.39 L225.50,506.28 L226.00,506.21 L226.50,506.33 L227.00,506.39 L227.50,506.47 L228.00,506.49 L228.50,506.50 L229.00,506.50 L229.50,506.50 L230.00,506.50 L230.50,506.50 L231.00,506.50 L231.50,506.50 L232.00,506.50 L232.50,506.50 L233.00,506.50 L233.50,506.50 L234.00,506.50 L234.50,506.50 L235.00,506.50 L235.50,506.50 L236.00,506.50 L236.50,506.50 L237.00,506.50 L237.50,506.50 L238.00,506.49 L238.50,506.47 L239.00,506.39 L239.50,506.32 L240.00,506.27 L240.50,506.29 L241.00,506.39 L241.50,506.47 L242.00,506.49 L242.50,506.50 L243.00,506.50 L243.50,506.50 L244.00,506.50 L244.50,506.50 L245.00,506.50 L245.50,506.50 L246.00,506.50 L246.50,506.50 L247.00,506.50 L247.50,506.50 L248.00,506.50 L248.50,506.50 L249.00,506.50 L249.50,506.50 L250.00,506.50 L250.50,506.50 L251.00,506.50 L251.2,506.50 Z" fill="#c1142e" stroke="none" stroke-width="0.6"/>
<line x1="200.5" y1="506.5" x2="251.2" y2="506.5" stroke="#e7a0ac" stroke-width="0.5" stroke-dasharray="1.5,1"/>
<path d="M257.5,506.50 L257.50,506.50 L258.00,506.50 L258.50,506.50 L259.00,506.50 L259.50,506.50 L260.00,506.48 L260.50,506.43 L261.00,506.34 L261.50,506.13 L262.00,506.24 L262.50,506.25 L263.00,506.34 L263.50,506.38 L264.00,506.38 L264.50,506.21 L265.00,505.99 L265.50,505.58 L266.00,505.78 L266.50,505.24 L267.00,505.81 L267.50,505.67 L268.00,505.65 L268.50,505.28 L269.00,504.98 L269.50,503.95 L270.00,504.96 L270.50,504.33 L271.00,505.18 L271.50,505.30 L272.00,505.71 L272.50,506.08 L273.00,505.88 L273.50,505.52 L274.00,504.48 L274.50,504.07 L275.00,502.92 L275.50,501.91 L276.00,504.26 L276.50,505.23 L277.00,505.31 L277.50,504.11 L278.00,501.36 L278.50,503.16 L279.00,505.54 L279.50,505.46 L280.00,504.48 L280.50,503.53 L281.00,503.80 L281.50,504.34 L282.00,504.07 L282.50,505.64 L283.00,505.84 L283.50,505.46 L284.00,505.52 L284.50,505.61 L285.00,505.03 L285.50,504.81 L286.00,505.59 L286.50,506.04 L287.00,506.33 L287.50,506.40 L288.00,506.42 L288.50,506.37 L289.00,505.96 L289.50,505.80 L290.00,505.40 L290.50,506.01 L291.00,506.16 L291.50,506.38 L292.00,506.44 L292.50,506.43 L293.00,506.31 L293.50,506.20 L294.00,506.04 L294.50,506.09 L295.00,506.32 L295.50,506.44 L296.00,506.49 L296.50,506.50 L297.00,506.50 L297.50,506.50 L298.00,506.50 L298.50,506.50 L299.00,506.50 L299.50,506.50 L300.00,506.50 L300.50,506.50 L301.00,506.50 L301.50,506.50 L302.00,506.50 L302.50,506.50 L303.00,506.50 L303.50,506.50 L304.00,506.50 L304.50,506.50 L305.00,506.50 L305.50,506.50 L306.00,506.50 L306.0,506.50 Z" fill="#c1142e" stroke="none" stroke-width="0.6"/>
<line x1="257.5" y1="506.5" x2="306.0" y2="506.5" stroke="#e7a0ac" stroke-width="0.5" stroke-dasharray="1.5,1"/>
<path d="M200.5,517.00 L200.50,517.00 L201.00,516.99 L201.50,516.96 L202.00,516.88 L202.50,516.82 L203.00,516.70 L203.50,516.17 L204.00,516.46 L204.50,516.37 L205.00,516.57 L205.50,516.70 L206.00,516.84 L206.50,516.77 L207.00,516.71 L207.50,516.44 L208.00,516.22 L208.50,516.43 L209.00,516.52 L209.50,516.82 L210.00,516.90 L210.50,516.96 L211.00,516.99 L211.50,517.00 L212.00,517.00 L212.50,517.00 L213.00,517.00 L213.50,517.00 L214.00,517.00 L214.50,517.00 L215.00,517.00 L215.50,517.00 L216.00,517.00 L216.50,517.00 L217.00,517.00 L217.50,517.00 L218.00,517.00 L218.50,517.00 L219.00,517.00 L219.50,517.00 L220.00,517.00 L220.50,517.00 L221.00,517.00 L221.50,517.00 L222.00,517.00 L222.50,517.00 L223.00,517.00 L223.50,517.00 L224.00,516.99 L224.50,516.97 L225.00,516.89 L225.50,516.85 L226.00,516.69 L226.50,516.77 L227.00,516.89 L227.50,516.97 L228.00,516.99 L228.50,517.00 L229.00,517.00 L229.50,517.00 L230.00,517.00 L230.50,517.00 L231.00,517.00 L231.50,517.00 L232.00,517.00 L232.50,517.00 L233.00,517.00 L233.50,517.00 L234.00,517.00 L234.50,517.00 L235.00,517.00 L235.50,517.00 L236.00,517.00 L236.50,517.00 L237.00,517.00 L237.50,517.00 L238.00,516.99 L238.50,516.97 L239.00,516.89 L239.50,516.75 L240.00,516.73 L240.50,516.75 L241.00,516.89 L241.50,516.97 L242.00,516.99 L242.50,517.00 L243.00,517.00 L243.50,517.00 L244.00,517.00 L244.50,517.00 L245.00,517.00 L245.50,517.00 L246.00,517.00 L246.50,517.00 L247.00,517.00 L247.50,517.00 L248.00,517.00 L248.50,517.00 L249.00,517.00 L249.50,517.00 L250.00,517.00 L250.50,517.00 L251.00,517.00 L251.2,517.00 Z" fill="#c1142e" stroke="none" stroke-width="0.6"/>
<line x1="200.5" y1="517.0" x2="251.2" y2="517.0" stroke="#e7a0ac" stroke-width="0.5" stroke-dasharray="1.5,1"/>
<path d="M257.5,517.00 L257.50,517.00 L258.00,517.00 L258.50,517.00 L259.00,517.00 L259.50,517.00 L260.00,516.98 L260.50,516.94 L261.00,516.87 L261.50,516.74 L262.00,516.66 L262.50,516.80 L263.00,516.86 L263.50,516.91 L264.00,516.88 L264.50,516.75 L265.00,516.41 L265.50,516.43 L266.00,516.41 L266.50,516.36 L267.00,516.59 L267.50,516.42 L268.00,516.30 L268.50,516.28 L269.00,516.12 L269.50,515.95 L270.00,515.69 L270.50,515.95 L271.00,515.88 L271.50,516.14 L272.00,516.57 L272.50,516.71 L273.00,516.32 L273.50,516.24 L274.00,515.51 L274.50,514.77 L275.00,514.33 L275.50,515.11 L276.00,515.22 L276.50,516.03 L277.00,515.91 L277.50,514.77 L278.00,512.70 L278.50,514.56 L279.00,515.86 L279.50,515.98 L280.00,515.68 L280.50,514.89 L281.00,514.93 L281.50,514.72 L282.00,515.39 L282.50,515.86 L283.00,516.39 L283.50,516.19 L284.00,516.27 L284.50,516.26 L285.00,516.25 L285.50,516.26 L286.00,516.43 L286.50,516.56 L287.00,516.85 L287.50,516.93 L288.00,516.94 L288.50,516.86 L289.00,516.78 L289.50,516.36 L290.00,516.33 L290.50,516.64 L291.00,516.78 L291.50,516.87 L292.00,516.95 L292.50,516.95 L293.00,516.88 L293.50,516.70 L294.00,516.47 L294.50,516.56 L295.00,516.83 L295.50,516.96 L296.00,516.99 L296.50,517.00 L297.00,517.00 L297.50,517.00 L298.00,517.00 L298.50,517.00 L299.00,517.00 L299.50,517.00 L300.00,517.00 L300.50,517.00 L301.00,517.00 L301.50,517.00 L302.00,517.00 L302.50,517.00 L303.00,517.00 L303.50,517.00 L304.00,517.00 L304.50,517.00 L305.00,517.00 L305.50,517.00 L306.00,517.00 L306.0,517.00 Z" fill="#c1142e" stroke="none" stroke-width="0.6"/>
<line x1="257.5" y1="517.0" x2="306.0" y2="517.0" stroke="#e7a0ac" stroke-width="0.5" stroke-dasharray="1.5,1"/>
<path d="M200.5,527.30 L200.50,527.30 L201.00,527.29 L201.50,527.26 L202.00,527.18 L202.50,527.09 L203.00,526.87 L203.50,526.73 L204.00,526.68 L204.50,526.89 L205.00,526.81 L205.50,526.94 L206.00,527.05 L206.50,527.11 L207.00,526.89 L207.50,526.88 L208.00,526.61 L208.50,526.78 L209.00,526.80 L209.50,527.03 L210.00,527.20 L210.50,527.26 L211.00,527.29 L211.50,527.30 L212.00,527.30 L212.50,527.30 L213.00,527.30 L213.50,527.30 L214.00,527.30 L214.50,527.30 L215.00,527.30 L215.50,527.30 L216.00,527.30 L216.50,527.30 L217.00,527.30 L217.50,527.30 L218.00,527.30 L218.50,527.30 L219.00,527.30 L219.50,527.30 L220.00,527.30 L220.50,527.30 L221.00,527.30 L221.50,527.30 L222.00,527.30 L222.50,527.30 L223.00,527.30 L223.50,527.30 L224.00,527.29 L224.50,527.27 L225.00,527.19 L225.50,527.13 L226.00,527.04 L226.50,527.00 L227.00,527.19 L227.50,527.27 L228.00,527.29 L228.50,527.30 L229.00,527.30 L229.50,527.30 L230.00,527.30 L230.50,527.30 L231.00,527.30 L231.50,527.30 L232.00,527.30 L232.50,527.30 L233.00,527.30 L233.50,527.30 L234.00,527.30 L234.50,527.30 L235.00,527.30 L235.50,527.30 L236.00,527.30 L236.50,527.30 L237.00,527.30 L237.50,527.30 L238.00,527.29 L238.50,527.27 L239.00,527.19 L239.50,527.07 L240.00,527.01 L240.50,527.08 L241.00,527.19 L241.50,527.27 L242.00,527.29 L242.50,527.30 L243.00,527.30 L243.50,527.30 L244.00,527.30 L244.50,527.30 L245.00,527.30 L245.50,527.30 L246.00,527.30 L246.50,527.30 L247.00,527.30 L247.50,527.30 L248.00,527.30 L248.50,527.30 L249.00,527.30 L249.50,527.30 L250.00,527.30 L250.50,527.30 L251.00,527.30 L251.2,527.30 Z" fill="#c1142e" stroke="none" stroke-width="0.6"/>
<line x1="200.5" y1="527.3" x2="251.2" y2="527.3" stroke="#e7a0ac" stroke-width="0.5" stroke-dasharray="1.5,1"/>
<path d="M257.5,527.30 L257.50,527.30 L258.00,527.30 L258.50,527.30 L259.00,527.30 L259.50,527.30 L260.00,527.29 L260.50,527.25 L261.00,527.19 L261.50,527.08 L262.00,527.02 L262.50,527.11 L263.00,527.19 L263.50,527.23 L264.00,527.20 L264.50,527.02 L265.00,526.88 L265.50,526.88 L266.00,526.50 L266.50,526.73 L267.00,526.98 L267.50,526.77 L268.00,526.99 L268.50,526.59 L269.00,526.35 L269.50,525.77 L270.00,526.10 L270.50,526.34 L271.00,526.49 L271.50,526.78 L272.00,526.86 L272.50,527.00 L273.00,526.73 L273.50,526.56 L274.00,525.92 L274.50,525.54 L275.00,524.11 L275.50,524.66 L276.00,525.40 L276.50,526.32 L277.00,526.60 L277.50,525.99 L278.00,523.93 L278.50,525.52 L279.00,526.77 L279.50,526.70 L280.00,526.50 L280.50,525.68 L281.00,525.36 L281.50,526.19 L282.00,525.94 L282.50,526.59 L283.00,526.64 L283.50,526.62 L284.00,526.59 L284.50,526.32 L285.00,526.50 L285.50,526.79 L286.00,526.74 L286.50,526.96 L287.00,527.15 L287.50,527.24 L288.00,527.25 L288.50,527.19 L289.00,527.10 L289.50,526.90 L290.00,526.85 L290.50,527.01 L291.00,527.07 L291.50,527.19 L292.00,527.26 L292.50,527.26 L293.00,527.17 L293.50,527.05 L294.00,526.96 L294.50,526.99 L295.00,527.17 L295.50,527.26 L296.00,527.29 L296.50,527.30 L297.00,527.30 L297.50,527.30 L298.00,527.30 L298.50,527.30 L299.00,527.30 L299.50,527.30 L300.00,527.30 L300.50,527.30 L301.00,527.30 L301.50,527.30 L302.00,527.30 L302.50,527.30 L303.00,527.30 L303.50,527.30 L304.00,527.30 L304.50,527.30 L305.00,527.30 L305.50,527.30 L306.00,527.30 L306.0,527.30 Z" fill="#c1142e" stroke="none" stroke-width="0.6"/>
<line x1="257.5" y1="527.3" x2="306.0" y2="527.3" stroke="#e7a0ac" stroke-width="0.5" stroke-dasharray="1.5,1"/>
<path d="M200.5,538.00 L200.50,538.00 L201.00,538.00 L201.50,538.00 L202.00,538.00 L202.50,538.00 L203.00,538.00 L203.50,538.00 L204.00,538.00 L204.50,538.00 L205.00,538.00 L205.50,538.00 L206.00,538.00 L206.50,538.00 L207.00,538.00 L207.50,538.00 L208.00,538.00 L208.50,537.98 L209.00,537.87 L209.50,537.60 L210.00,537.37 L210.50,537.58 L211.00,537.87 L211.50,537.98 L212.00,538.00 L212.50,538.00 L213.00,538.00 L213.50,538.00 L214.00,538.00 L214.50,538.00 L215.00,538.00 L215.50,538.00 L216.00,538.00 L216.50,538.00 L217.00,538.00 L217.50,538.00 L218.00,538.00 L218.50,538.00 L219.00,538.00 L219.50,538.00 L220.00,538.00 L220.50,538.00 L221.00,538.00 L221.50,538.00 L222.00,538.00 L222.50,538.00 L223.00,538.00 L223.50,538.00 L224.00,538.00 L224.50,538.00 L225.00,538.00 L225.50,538.00 L226.00,538.00 L226.50,538.00 L227.00,538.00 L227.50,538.00 L228.00,538.00 L228.50,538.00 L229.00,538.00 L229.50,538.00 L230.00,538.00 L230.50,538.00 L231.00,538.00 L231.50,538.00 L232.00,538.00 L232.50,538.00 L233.00,538.00 L233.50,538.00 L234.00,538.00 L234.50,538.00 L235.00,538.00 L235.50,538.00 L236.00,538.00 L236.50,538.00 L237.00,538.00 L237.50,538.00 L238.00,538.00 L238.50,538.00 L239.00,538.00 L239.50,538.00 L240.00,538.00 L240.50,538.00 L241.00,538.00 L241.50,538.00 L242.00,538.00 L242.50,538.00 L243.00,538.00 L243.50,538.00 L244.00,538.00 L244.50,538.00 L245.00,538.00 L245.50,538.00 L246.00,538.00 L246.50,538.00 L247.00,538.00 L247.50,538.00 L248.00,538.00 L248.50,538.00 L249.00,538.00 L249.50,538.00 L250.00,537.10 L250.50,534.99 L251.00,537.83 L251.2,538.00 Z" fill="#3a3a3a" stroke="none" stroke-width="0.6"/>
<line x1="200.5" y1="538.0" x2="251.2" y2="538.0" stroke="#3a3a3a" stroke-width="0.5"/>
<path d="M270.05,538.0 L270.45,535.40 Q270.45,534.80 271.05,534.80 L271.35,534.80 Q271.95,534.80 271.95,535.40 L272.35,538.0 Z" fill="#3a3a3a" stroke="none" stroke-width="0.6"/>
<path d="M278.00,538.0 L278.40,533.00 Q278.40,532.40 279.00,532.40 L281.60,532.40 Q282.20,532.40 282.20,533.00 L282.60,538.0 Z" fill="#3a3a3a" stroke="none" stroke-width="0.6"/>
<path d="M287.10,538.0 L287.50,534.00 Q287.50,533.40 288.10,533.40 L290.10,533.40 Q290.70,533.40 290.70,534.00 L291.10,538.0 Z" fill="#3a3a3a" stroke="none" stroke-width="0.6"/>
<line x1="257.5" y1="538.0" x2="306.0" y2="538.0" stroke="#3a3a3a" stroke-width="0.6"/>
<path d="M200.5,548.60 L200.50,548.60 L201.00,548.60 L201.50,548.60 L202.00,548.60 L202.50,548.60 L203.00,548.60 L203.50,548.60 L204.00,548.60 L204.50,548.60 L205.00,548.60 L205.50,548.60 L206.00,548.60 L206.50,548.60 L207.00,548.60 L207.50,548.60 L208.00,548.60 L208.50,548.59 L209.00,548.56 L209.50,548.46 L210.00,548.40 L210.50,548.46 L211.00,548.56 L211.50,548.59 L212.00,548.60 L212.50,548.60 L213.00,548.60 L213.50,548.60 L214.00,548.60 L214.50,548.60 L215.00,548.60 L215.50,548.60 L216.00,548.60 L216.50,548.60 L217.00,548.60 L217.50,548.60 L218.00,548.60 L218.50,548.60 L219.00,548.60 L219.50,548.60 L220.00,548.60 L220.50,548.60 L221.00,548.60 L221.50,548.60 L222.00,548.60 L222.50,548.60 L223.00,548.60 L223.50,548.60 L224.00,548.60 L224.50,548.60 L225.00,548.60 L225.50,548.60 L226.00,548.60 L226.50,548.60 L227.00,548.60 L227.50,548.60 L228.00,548.60 L228.50,548.60 L229.00,548.60 L229.50,548.60 L230.00,548.60 L230.50,548.60 L231.00,548.60 L231.50,548.60 L232.00,548.60 L232.50,548.60 L233.00,548.60 L233.50,548.60 L234.00,548.60 L234.50,548.60 L235.00,548.60 L235.50,548.60 L236.00,548.60 L236.50,548.60 L237.00,548.60 L237.50,548.60 L238.00,548.60 L238.50,548.60 L239.00,548.60 L239.50,548.60 L240.00,548.60 L240.50,548.60 L241.00,548.60 L241.50,548.60 L242.00,548.60 L242.50,548.60 L243.00,548.60 L243.50,548.60 L244.00,548.60 L244.50,548.60 L245.00,548.60 L245.50,548.60 L246.00,548.60 L246.50,548.60 L247.00,548.60 L247.50,548.60 L248.00,548.60 L248.50,548.60 L249.00,548.60 L249.50,548.60 L250.00,548.43 L250.50,548.05 L251.00,548.57 L251.2,548.60 Z" fill="#3a3a3a" stroke="none" stroke-width="0.6"/>
<line x1="200.5" y1="548.6" x2="251.2" y2="548.6" stroke="#3a3a3a" stroke-width="0.5"/>
<path d="M270.05,548.6 L270.45,547.00 Q270.45,546.40 271.05,546.40 L271.35,546.40 Q271.95,546.40 271.95,547.00 L272.35,548.6 Z" fill="#3a3a3a" stroke="none" stroke-width="0.6"/>
<path d="M278.00,548.6 L278.40,546.00 Q278.40,545.40 279.00,545.40 L281.60,545.40 Q282.20,545.40 282.20,546.00 L282.60,548.6 Z" fill="#3a3a3a" stroke="none" stroke-width="0.6"/>
<path d="M287.10,548.6 L287.50,546.40 Q287.50,545.80 288.10,545.80 L290.10,545.80 Q290.70,545.80 290.70,546.40 L291.10,548.6 Z" fill="#3a3a3a" stroke="none" stroke-width="0.6"/>
<line x1="257.5" y1="548.6" x2="306.0" y2="548.6" stroke="#3a3a3a" stroke-width="0.6"/>
<path d="M200.5,559.10 L200.50,559.10 L201.00,559.10 L201.50,559.10 L202.00,559.10 L202.50,559.10 L203.00,559.10 L203.50,559.10 L204.00,559.10 L204.50,559.10 L205.00,559.10 L205.50,559.10 L206.00,559.10 L206.50,559.10 L207.00,559.10 L207.50,559.10 L208.00,559.10 L208.50,559.08 L209.00,558.97 L209.50,558.69 L210.00,558.49 L210.50,558.69 L211.00,558.97 L211.50,559.08 L212.00,559.10 L212.50,559.10 L213.00,559.10 L213.50,559.10 L214.00,559.10 L214.50,559.10 L215.00,559.10 L215.50,559.10 L216.00,559.10 L216.50,559.10 L217.00,559.10 L217.50,559.10 L218.00,559.10 L218.50,559.10 L219.00,559.10 L219.50,559.10 L220.00,559.10 L220.50,559.10 L221.00,559.10 L221.50,559.10 L222.00,559.10 L222.50,559.10 L223.00,559.10 L223.50,559.10 L224.00,559.10 L224.50,559.10 L225.00,559.10 L225.50,559.10 L226.00,559.10 L226.50,559.10 L227.00,559.10 L227.50,559.10 L228.00,559.10 L228.50,559.10 L229.00,559.10 L229.50,559.10 L230.00,559.10 L230.50,559.10 L231.00,559.10 L231.50,559.10 L232.00,559.10 L232.50,559.10 L233.00,559.10 L233.50,559.10 L234.00,559.10 L234.50,559.10 L235.00,559.10 L235.50,559.10 L236.00,559.10 L236.50,559.10 L237.00,559.10 L237.50,559.10 L238.00,559.10 L238.50,559.10 L239.00,559.10 L239.50,559.10 L240.00,559.10 L240.50,559.10 L241.00,559.10 L241.50,559.10 L242.00,559.10 L242.50,559.10 L243.00,559.10 L243.50,559.10 L244.00,559.10 L244.50,559.10 L245.00,559.10 L245.50,559.10 L246.00,559.10 L246.50,559.10 L247.00,559.10 L247.50,559.10 L248.00,559.10 L248.50,559.10 L249.00,559.10 L249.50,559.10 L250.00,558.25 L250.50,556.28 L251.00,558.94 L251.2,559.10 Z" fill="#3a3a3a" stroke="none" stroke-width="0.6"/>
<line x1="200.5" y1="559.1" x2="251.2" y2="559.1" stroke="#3a3a3a" stroke-width="0.5"/>
<path d="M270.05,559.1 L270.45,556.10 Q270.45,555.50 271.05,555.50 L271.35,555.50 Q271.95,555.50 271.95,556.10 L272.35,559.1 Z" fill="#3a3a3a" stroke="none" stroke-width="0.6"/>
<path d="M278.00,559.1 L278.40,554.30 Q278.40,553.70 279.00,553.70 L281.60,553.70 Q282.20,553.70 282.20,554.30 L282.60,559.1 Z" fill="#3a3a3a" stroke="none" stroke-width="0.6"/>
<path d="M287.10,559.1 L287.50,554.90 Q287.50,554.30 288.10,554.30 L290.10,554.30 Q290.70,554.30 290.70,554.90 L291.10,559.1 Z" fill="#3a3a3a" stroke="none" stroke-width="0.6"/>
<line x1="257.5" y1="559.1" x2="306.0" y2="559.1" stroke="#3a3a3a" stroke-width="0.6"/>
<path d="M200.5,569.80 L200.50,569.80 L201.00,569.80 L201.50,569.80 L202.00,569.80 L202.50,569.80 L203.00,569.80 L203.50,569.80 L204.00,569.80 L204.50,569.80 L205.00,569.80 L205.50,569.80 L206.00,569.80 L206.50,569.80 L207.00,569.80 L207.50,569.80 L208.00,569.80 L208.50,569.79 L209.00,569.76 L209.50,569.66 L210.00,569.60 L210.50,569.66 L211.00,569.76 L211.50,569.79 L212.00,569.80 L212.50,569.80 L213.00,569.80 L213.50,569.80 L214.00,569.80 L214.50,569.80 L215.00,569.80 L215.50,569.80 L216.00,569.80 L216.50,569.80 L217.00,569.80 L217.50,569.80 L218.00,569.80 L218.50,569.80 L219.00,569.80 L219.50,569.80 L220.00,569.80 L220.50,569.80 L221.00,569.80 L221.50,569.80 L222.00,569.80 L222.50,569.80 L223.00,569.80 L223.50,569.80 L224.00,569.80 L224.50,569.80 L225.00,569.80 L225.50,569.80 L226.00,569.80 L226.50,569.80 L227.00,569.80 L227.50,569.80 L228.00,569.80 L228.50,569.80 L229.00,569.80 L229.50,569.80 L230.00,569.80 L230.50,569.80 L231.00,569.80 L231.50,569.80 L232.00,569.80 L232.50,569.80 L233.00,569.80 L233.50,569.80 L234.00,569.80 L234.50,569.80 L235.00,569.80 L235.50,569.80 L236.00,569.80 L236.50,569.80 L237.00,569.80 L237.50,569.80 L238.00,569.80 L238.50,569.80 L239.00,569.80 L239.50,569.80 L240.00,569.80 L240.50,569.80 L241.00,569.80 L241.50,569.80 L242.00,569.80 L242.50,569.80 L243.00,569.80 L243.50,569.80 L244.00,569.80 L244.50,569.80 L245.00,569.80 L245.50,569.80 L246.00,569.80 L246.50,569.80 L247.00,569.80 L247.50,569.80 L248.00,569.80 L248.50,569.80 L249.00,569.80 L249.50,569.80 L250.00,569.64 L250.50,569.23 L251.00,569.77 L251.2,569.80 Z" fill="#3a3a3a" stroke="none" stroke-width="0.6"/>
<line x1="200.5" y1="569.8" x2="251.2" y2="569.8" stroke="#3a3a3a" stroke-width="0.5"/>
<path d="M270.05,569.8 L270.45,565.40 Q270.45,564.80 271.05,564.80 L271.35,564.80 Q271.95,564.80 271.95,565.40 L272.35,569.8 Z" fill="#3a3a3a" stroke="none" stroke-width="0.6"/>
<path d="M278.00,569.8 L278.40,562.20 Q278.40,561.60 279.00,561.60 L281.60,561.60 Q282.20,561.60 282.20,562.20 L282.60,569.8 Z" fill="#3a3a3a" stroke="none" stroke-width="0.6"/>
<path d="M287.10,569.8 L287.50,562.80 Q287.50,562.20 288.10,562.20 L290.10,562.20 Q290.70,562.20 290.70,562.80 L291.10,569.8 Z" fill="#3a3a3a" stroke="none" stroke-width="0.6"/>
<line x1="257.5" y1="569.8" x2="306.0" y2="569.8" stroke="#3a3a3a" stroke-width="0.6"/>
<text x="199.8" y="446.6" font-size="5.6" fill="#6fb5e0">23.1</text>
<text x="199.8" y="454.0" font-size="5.6" fill="#6fb5e0">0</text>
<text x="256.0" y="446.6" font-size="5.6" fill="#6fb5e0">2.6</text>
<text x="256.0" y="454.0" font-size="5.6" fill="#6fb5e0">0</text>
<text x="199.8" y="488.6" font-size="5.6" fill="#c8213f">2.2</text>
<text x="199.8" y="496.0" font-size="5.6" fill="#c8213f">0</text>
<text x="256.0" y="488.6" font-size="5.6" fill="#c8213f">2.2</text>
<text x="256.0" y="496.0" font-size="5.6" fill="#c8213f">0</text>
<text x="199.8" y="532.4" font-size="5.6" fill="#555">1056.5</text>
<text x="199.8" y="538.6" font-size="5.6" fill="#555">0</text>
<text x="256.0" y="532.4" font-size="5.6" fill="#555">130732.3</text>
<text x="256.0" y="538.6" font-size="5.6" fill="#555">0</text>
<line x1="207.7" y1="574.0" x2="251.0" y2="574.0" stroke="#333" stroke-width="0.6"/>
<path d="M209.5,572.8 L207.7,574 L209.5,575.2" fill="none" stroke="#333" stroke-width="0.5"/>
<line x1="207.7" y1="572.2" x2="207.7" y2="575.5" stroke="#333" stroke-width="0.6"/>
<line x1="262.5" y1="574.0" x2="294.4" y2="574.0" stroke="#333" stroke-width="0.6"/>
<rect x="265.30" y="572.60" width="2.40" height="2.80" fill="#222"/>
<rect x="270.40" y="572.60" width="1.60" height="2.80" fill="#222"/>
<rect x="278.50" y="572.60" width="3.60" height="2.80" fill="#222"/>
<rect x="287.60" y="572.60" width="3.00" height="2.80" fill="#222"/>
<path d="M274.7,573 L276.1,574 L274.7,575" fill="none" stroke="#333" stroke-width="0.5"/>
<path d="M284.2,573 L285.6,574 L284.2,575" fill="none" stroke="#333" stroke-width="0.5"/>
<text x="226.7" y="583.0" font-size="6.8" fill="#333" text-anchor="middle" font-style="italic" textLength="17" lengthAdjust="spacingAndGlyphs">MEIS1</text>
<text x="281.7" y="583.0" font-size="6.8" fill="#333" text-anchor="middle" font-style="italic" textLength="11" lengthAdjust="spacingAndGlyphs">MYC</text>
<defs><radialGradient id="menG" cx="0.5" cy="0.5" r="0.55"><stop offset="0" stop-color="#9fd3f3"/><stop offset="0.55" stop-color="#4ea6e0"/><stop offset="1" stop-color="#2a80c6"/></radialGradient><radialGradient id="prcG" cx="0.4" cy="0.35" r="0.7"><stop offset="0" stop-color="#fde2da"/><stop offset="0.5" stop-color="#eea092"/><stop offset="1" stop-color="#cf4a42"/></radialGradient><linearGradient id="kBlueCol" x1="0" x2="0" y1="0" y2="1"><stop offset="0" stop-color="#f3f8fc"/><stop offset="1" stop-color="#eaf3fa"/></linearGradient></defs>
<text x="316" y="418.6" font-size="10.5" fill="#111" font-weight="bold">K</text>
<rect x="313.8" y="423.5" width="94" height="178.8" rx="5" fill="#ebf3fa"/>
<rect x="407.8" y="423.5" width="91.3" height="178.8" rx="5" fill="#fbeeed"/>
<rect x="313.80" y="423.50" width="94.00" height="23.20" fill="#f5f9fc" rx="5"/>
<rect x="407.80" y="423.50" width="91.30" height="23.20" fill="#fdf4f3" rx="5"/>
<rect x="313.80" y="446.70" width="94.00" height="8.30" fill="#eff6fb"/>
<rect x="407.80" y="446.70" width="91.30" height="8.30" fill="#fcf1f0"/>
<rect x="313.80" y="446.70" width="185.30" height="0.80" fill="#f8fbfd"/>
<rect x="313.80" y="496.50" width="94.00" height="9.00" fill="#eff6fb"/>
<rect x="407.80" y="496.50" width="91.30" height="9.00" fill="#fcf1f0"/>
<rect x="313.80" y="496.50" width="185.30" height="0.80" fill="#f8fbfd"/>
<rect x="313.80" y="548.50" width="94.00" height="9.00" fill="#eff6fb"/>
<rect x="407.80" y="548.50" width="91.30" height="9.00" fill="#fcf1f0"/>
<rect x="313.80" y="548.50" width="185.30" height="0.80" fill="#f8fbfd"/>
<text x="360.0" y="435.4" font-size="7.0" fill="#222" text-anchor="middle" textLength="57.7" lengthAdjust="spacingAndGlyphs">Type I Menin targets</text>
<text x="360.0" y="441.0" font-size="5.0" fill="#333" text-anchor="middle" textLength="73.4" lengthAdjust="spacingAndGlyphs">Menin dependent transcription</text>
<text x="453.7" y="435.8" font-size="7.0" fill="#222" text-anchor="middle" textLength="59.3" lengthAdjust="spacingAndGlyphs">Type II Menin targets</text>
<text x="453.2" y="441.6" font-size="5.0" fill="#333" text-anchor="middle" textLength="89.9" lengthAdjust="spacingAndGlyphs">Menin/K119ub balanced transcription</text>
<text x="409.6" y="452.6" font-size="6.8" fill="#666" text-anchor="middle" textLength="51.2" lengthAdjust="spacingAndGlyphs">PRC1.1 proficient</text>
<text x="411.6" y="503.0" font-size="6.8" fill="#666" text-anchor="middle" textLength="86" lengthAdjust="spacingAndGlyphs">PRC1.1 proficient + VTP50469</text>
<text x="410.6" y="555.8" font-size="6.8" fill="#666" text-anchor="middle" textLength="80" lengthAdjust="spacingAndGlyphs">PRC1.1 deficient + VTP50469</text>
<ellipse cx="333.50" cy="485.80" rx="2.5" ry="6.40" fill="none" stroke="#222" stroke-width="0.85" transform="rotate(14 333.50 485.80)"/>
<ellipse cx="335.80" cy="485.80" rx="2.5" ry="6.40" fill="none" stroke="#222" stroke-width="0.85" transform="rotate(14 335.80 485.80)"/>
<ellipse cx="338.10" cy="485.80" rx="2.5" ry="6.40" fill="none" stroke="#222" stroke-width="0.85" transform="rotate(14 338.10 485.80)"/>
<ellipse cx="346.30" cy="485.80" rx="2.5" ry="6.40" fill="none" stroke="#222" stroke-width="0.85" transform="rotate(14 346.30 485.80)"/>
<ellipse cx="348.60" cy="485.80" rx="2.5" ry="6.40" fill="none" stroke="#222" stroke-width="0.85" transform="rotate(14 348.60 485.80)"/>
<ellipse cx="350.90" cy="485.80" rx="2.5" ry="6.40" fill="none" stroke="#222" stroke-width="0.85" transform="rotate(14 350.90 485.80)"/>
<ellipse cx="359.10" cy="485.80" rx="2.5" ry="6.40" fill="none" stroke="#222" stroke-width="0.85" transform="rotate(14 359.10 485.80)"/>
<ellipse cx="361.40" cy="485.80" rx="2.5" ry="6.40" fill="none" stroke="#222" stroke-width="0.85" transform="rotate(14 361.40 485.80)"/>
<ellipse cx="363.70" cy="485.80" rx="2.5" ry="6.40" fill="none" stroke="#222" stroke-width="0.85" transform="rotate(14 363.70 485.80)"/>
<path d="M328.1,494.4 Q330.6,492.2 332.1,491.4 M339.6,491.2 Q342.3,494.6 344.6,491.6 M352.4,491.2 Q355.1,494.6 357.4,491.6 " fill="none" stroke="#222" stroke-width="0.8"/>
<ellipse cx="331.60" cy="473.50" rx="7.6" ry="5.2" fill="url(#menG)" stroke="#1e69ad" stroke-width="0.6"/>
<text x="331.6" y="474.7" font-size="3.8" fill="#1a4f86" text-anchor="middle" textLength="9.12" lengthAdjust="spacingAndGlyphs">Menin</text>
<ellipse cx="361.50" cy="473.50" rx="7.6" ry="5.2" fill="url(#menG)" stroke="#1e69ad" stroke-width="0.6"/>
<text x="361.5" y="474.7" font-size="3.8" fill="#1a4f86" text-anchor="middle" textLength="9.12" lengthAdjust="spacingAndGlyphs">Menin</text>
<ellipse cx="347.20" cy="473.50" rx="7.6" ry="5.2" fill="url(#menG)" stroke="#1e69ad" stroke-width="0.6"/>
<text x="347.2" y="474.7" font-size="3.8" fill="#1a4f86" text-anchor="middle" textLength="9.12" lengthAdjust="spacingAndGlyphs">Menin</text>
<path d="M365.6,491.4 Q369.6,493.59999999999997 373.8,493.2" fill="none" stroke="#262626" stroke-width="0.7"/>
<path d="M373.8,493.2 L373.8,484.6 L379.0,484.6" fill="none" stroke="#3a9e3e" stroke-width="0.9"/>
<path d="M381.0,484.6 L378.0,482.8 L378.0,486.40000000000003 Z" fill="#3a9e3e" stroke="none" stroke-width="0.6"/>
<text x="384.0" y="482.2" font-size="5.9" fill="#3ea5dc">MEF2C</text>
<text x="384.0" y="488.2" font-size="5.9" fill="#3ea5dc">MEIS1</text>
<text x="384.0" y="494.2" font-size="5.9" fill="#3ea5dc">PBX3</text>
<circle cx="422.50" cy="463.50" r="3.8" fill="url(#prcG)" stroke="#d06a62" stroke-width="0.3"/>
<circle cx="429.50" cy="461.00" r="4.0" fill="url(#prcG)" stroke="#d06a62" stroke-width="0.3"/>
<circle cx="426.50" cy="467.50" r="3.8" fill="url(#prcG)" stroke="#d06a62" stroke-width="0.3"/>
<circle cx="433.50" cy="466.50" r="3.5" fill="url(#prcG)" stroke="#d06a62" stroke-width="0.3"/>
<circle cx="434.50" cy="462.50" r="3.2" fill="url(#prcG)" stroke="#d06a62" stroke-width="0.3"/>
<ellipse cx="428.70" cy="484.40" rx="2.5" ry="6.40" fill="none" stroke="#222" stroke-width="0.85" transform="rotate(14 428.70 484.40)"/>
<ellipse cx="431.00" cy="484.40" rx="2.5" ry="6.40" fill="none" stroke="#222" stroke-width="0.85" transform="rotate(14 431.00 484.40)"/>
<ellipse cx="433.30" cy="484.40" rx="2.5" ry="6.40" fill="none" stroke="#222" stroke-width="0.85" transform="rotate(14 433.30 484.40)"/>
<ellipse cx="441.50" cy="484.40" rx="2.5" ry="6.40" fill="none" stroke="#222" stroke-width="0.85" transform="rotate(14 441.50 484.40)"/>
<ellipse cx="443.80" cy="484.40" rx="2.5" ry="6.40" fill="none" stroke="#222" stroke-width="0.85" transform="rotate(14 443.80 484.40)"/>
<ellipse cx="446.10" cy="484.40" rx="2.5" ry="6.40" fill="none" stroke="#222" stroke-width="0.85" transform="rotate(14 446.10 484.40)"/>
<ellipse cx="454.30" cy="484.40" rx="2.5" ry="6.40" fill="none" stroke="#222" stroke-width="0.85" transform="rotate(14 454.30 484.40)"/>
<ellipse cx="456.60" cy="484.40" rx="2.5" ry="6.40" fill="none" stroke="#222" stroke-width="0.85" transform="rotate(14 456.60 484.40)"/>
<ellipse cx="458.90" cy="484.40" rx="2.5" ry="6.40" fill="none" stroke="#222" stroke-width="0.85" transform="rotate(14 458.90 484.40)"/>
<path d="M423.3,493.0 Q425.8,490.8 427.3,490.0 M434.8,489.8 Q437.5,493.2 439.8,490.2 M447.6,489.8 Q450.3,493.2 452.6,490.2 " fill="none" stroke="#222" stroke-width="0.8"/>
<ellipse cx="427.10" cy="474.40" rx="6.6" ry="4.3" fill="url(#menG)" stroke="#1e69ad" stroke-width="0.6"/>
<text x="427.1" y="475.59999999999997" font-size="3.8" fill="#1a4f86" text-anchor="middle" textLength="7.919999999999999" lengthAdjust="spacingAndGlyphs">Menin</text>
<ellipse cx="442.60" cy="474.40" rx="6.6" ry="4.3" fill="url(#menG)" stroke="#1e69ad" stroke-width="0.6"/>
<text x="442.6" y="475.59999999999997" font-size="3.8" fill="#1a4f86" text-anchor="middle" textLength="7.919999999999999" lengthAdjust="spacingAndGlyphs">Menin</text>
<ellipse cx="457.40" cy="474.40" rx="6.6" ry="4.3" fill="url(#menG)" stroke="#1e69ad" stroke-width="0.6"/>
<text x="457.4" y="475.59999999999997" font-size="3.8" fill="#1a4f86" text-anchor="middle" textLength="7.919999999999999" lengthAdjust="spacingAndGlyphs">Menin</text>
<circle cx="435.50" cy="478.40" r="1.0" fill="#e37b72"/>
<circle cx="450.80" cy="478.40" r="1.0" fill="#e37b72"/>
<circle cx="463.00" cy="478.40" r="1.0" fill="#e37b72"/>
<path d="M437.5,470.8 Q434,474 437,478" fill="none" stroke="#333" stroke-width="0.5"/>
<text x="464.2" y="473.8" font-size="6.6" fill="#222" textLength="27.5" lengthAdjust="spacingAndGlyphs">H2AK119ub</text>
<path d="M460.8,490.0 Q464.8,492.2 468.8,491.8" fill="none" stroke="#262626" stroke-width="0.7"/>
<path d="M468.8,491.8 L468.8,484.5 L474.0,484.5" fill="none" stroke="#3a9e3e" stroke-width="0.9"/>
<path d="M476.0,484.5 L473.0,482.7 L473.0,486.3 Z" fill="#3a9e3e" stroke="none" stroke-width="0.6"/>
<text x="481.0" y="482.6" font-size="5.5" fill="#cc3355" font-style="italic">MYC</text>
<text x="481.0" y="488.6" font-size="5.5" fill="#cc3355" font-style="italic">LRP5</text>
<text x="481.0" y="494.6" font-size="5.5" fill="#cc3355" font-style="italic">RUNX3</text>
<ellipse cx="338.60" cy="517.60" rx="8.8" ry="5.0" fill="url(#menG)" stroke="#1e69ad" stroke-width="0.6"/>
<text x="338.6" y="518.8000000000001" font-size="3.8" fill="#1a4f86" text-anchor="middle" textLength="10.56" lengthAdjust="spacingAndGlyphs">Menin</text>
<text x="351.5" y="517.8" font-size="6.3" fill="#222" textLength="24.6" lengthAdjust="spacingAndGlyphs">VTP50469</text>
<line x1="352.3" y1="519.6" x2="346.2" y2="524.4" stroke="#333" stroke-width="0.6"/>
<line x1="345.2105754218483" y1="523.1426062652655" x2="347.18942457815166" y2="525.6573937347345" stroke="#c8213f" stroke-width="0.9"/>
<ellipse cx="331.90" cy="535.60" rx="2.5" ry="6.80" fill="none" stroke="#222" stroke-width="0.85" transform="rotate(14 331.90 535.60)"/>
<ellipse cx="334.20" cy="535.60" rx="2.5" ry="6.80" fill="none" stroke="#222" stroke-width="0.85" transform="rotate(14 334.20 535.60)"/>
<ellipse cx="336.50" cy="535.60" rx="2.5" ry="6.80" fill="none" stroke="#222" stroke-width="0.85" transform="rotate(14 336.50 535.60)"/>
<ellipse cx="344.70" cy="535.60" rx="2.5" ry="6.80" fill="none" stroke="#222" stroke-width="0.85" transform="rotate(14 344.70 535.60)"/>
<ellipse cx="347.00" cy="535.60" rx="2.5" ry="6.80" fill="none" stroke="#222" stroke-width="0.85" transform="rotate(14 347.00 535.60)"/>
<ellipse cx="349.30" cy="535.60" rx="2.5" ry="6.80" fill="none" stroke="#222" stroke-width="0.85" transform="rotate(14 349.30 535.60)"/>
<ellipse cx="357.50" cy="535.60" rx="2.5" ry="6.80" fill="none" stroke="#222" stroke-width="0.85" transform="rotate(14 357.50 535.60)"/>
<ellipse cx="359.80" cy="535.60" rx="2.5" ry="6.80" fill="none" stroke="#222" stroke-width="0.85" transform="rotate(14 359.80 535.60)"/>
<ellipse cx="362.10" cy="535.60" rx="2.5" ry="6.80" fill="none" stroke="#222" stroke-width="0.85" transform="rotate(14 362.10 535.60)"/>
<path d="M326.5,544.6 Q329.0,542.4 330.5,541.6 M338.0,541.4 Q340.7,544.8 343.0,541.8 M350.8,541.4 Q353.5,544.8 355.8,541.8 " fill="none" stroke="#222" stroke-width="0.8"/>
<path d="M365.0,541.6 Q368.0,543.8000000000001 373.2,543.1" fill="none" stroke="#2a2a2a" stroke-width="0.6"/>
<path d="M373.2,543.1 L373.2,535.0 L381.5,535.0" fill="none" stroke="#c8213f" stroke-width="1.0"/>
<line x1="381.5" y1="533.0" x2="381.5" y2="537.0" stroke="#c8213f" stroke-width="1.0"/>
<text x="383.8" y="532.3" font-size="5.9" fill="#3ea5dc">MEF2C</text>
<text x="383.8" y="538.3" font-size="5.9" fill="#3ea5dc">MEIS1</text>
<text x="383.8" y="544.3" font-size="5.9" fill="#3ea5dc">PBX3</text>
<circle cx="422.00" cy="514.00" r="3.8" fill="url(#prcG)" stroke="#d06a62" stroke-width="0.3"/>
<circle cx="429.00" cy="511.50" r="4.0" fill="url(#prcG)" stroke="#d06a62" stroke-width="0.3"/>
<circle cx="426.00" cy="518.00" r="3.8" fill="url(#prcG)" stroke="#d06a62" stroke-width="0.3"/>
<circle cx="433.00" cy="517.00" r="3.5" fill="url(#prcG)" stroke="#d06a62" stroke-width="0.3"/>
<circle cx="434.00" cy="513.00" r="3.2" fill="url(#prcG)" stroke="#d06a62" stroke-width="0.3"/>
<path d="M436,522 Q433,525 436.5,528" fill="none" stroke="#333" stroke-width="0.5"/>
<circle cx="436.50" cy="528.60" r="1.0" fill="#e37b72"/>
<ellipse cx="452.40" cy="515.70" rx="6.3" ry="3.8" fill="url(#menG)" stroke="#1e69ad" stroke-width="0.6"/>
<text x="452.4" y="516.9000000000001" font-size="3.8" fill="#1a4f86" text-anchor="middle" textLength="7.56" lengthAdjust="spacingAndGlyphs">Menin</text>
<text x="463.6" y="514.4" font-size="6.3" fill="#222" textLength="24.2" lengthAdjust="spacingAndGlyphs">VTP50469</text>
<line x1="465.0" y1="516.2" x2="458.6" y2="521.6" stroke="#333" stroke-width="0.6"/>
<line x1="457.5682064972644" y1="520.3771336263874" x2="459.63179350273566" y2="522.8228663736127" stroke="#c8213f" stroke-width="0.9"/>
<ellipse cx="428.30" cy="535.60" rx="2.5" ry="6.80" fill="none" stroke="#222" stroke-width="0.85" transform="rotate(14 428.30 535.60)"/>
<ellipse cx="430.60" cy="535.60" rx="2.5" ry="6.80" fill="none" stroke="#222" stroke-width="0.85" transform="rotate(14 430.60 535.60)"/>
<ellipse cx="432.90" cy="535.60" rx="2.5" ry="6.80" fill="none" stroke="#222" stroke-width="0.85" transform="rotate(14 432.90 535.60)"/>
<ellipse cx="441.10" cy="535.60" rx="2.5" ry="6.80" fill="none" stroke="#222" stroke-width="0.85" transform="rotate(14 441.10 535.60)"/>
<ellipse cx="443.40" cy="535.60" rx="2.5" ry="6.80" fill="none" stroke="#222" stroke-width="0.85" transform="rotate(14 443.40 535.60)"/>
<ellipse cx="445.70" cy="535.60" rx="2.5" ry="6.80" fill="none" stroke="#222" stroke-width="0.85" transform="rotate(14 445.70 535.60)"/>
<ellipse cx="453.90" cy="535.60" rx="2.5" ry="6.80" fill="none" stroke="#222" stroke-width="0.85" transform="rotate(14 453.90 535.60)"/>
<ellipse cx="456.20" cy="535.60" rx="2.5" ry="6.80" fill="none" stroke="#222" stroke-width="0.85" transform="rotate(14 456.20 535.60)"/>
<ellipse cx="458.50" cy="535.60" rx="2.5" ry="6.80" fill="none" stroke="#222" stroke-width="0.85" transform="rotate(14 458.50 535.60)"/>
<path d="M422.9,544.6 Q425.4,542.4 426.9,541.6 M434.4,541.4 Q437.1,544.8 439.4,541.8 M447.2,541.4 Q449.9,544.8 452.2,541.8 " fill="none" stroke="#222" stroke-width="0.8"/>
<circle cx="446.00" cy="528.80" r="0.9" fill="#e37b72"/>
<circle cx="459.00" cy="528.80" r="0.9" fill="#e37b72"/>
<path d="M461.4,541.6 Q464.4,543.8000000000001 469.6,542.9" fill="none" stroke="#2a2a2a" stroke-width="0.6"/>
<path d="M469.6,542.9 L469.6,534.4 L476.7,534.4" fill="none" stroke="#c8213f" stroke-width="1.0"/>
<line x1="476.7" y1="532.4" x2="476.7" y2="536.4" stroke="#c8213f" stroke-width="1.0"/>
<path d="M463.8,530 Q466.5,525.5 470.5,527.5" fill="none" stroke="#c8213f" stroke-width="0.8"/>
<text x="478.7" y="532.4" font-size="5.5" fill="#cc3355" font-style="italic">MYC</text>
<text x="478.7" y="537.6" font-size="5.5" fill="#cc3355" font-style="italic">LRP5</text>
<text x="478.7" y="542.8" font-size="5.5" fill="#cc3355" font-style="italic">RUNX3</text>
<ellipse cx="338.60" cy="570.70" rx="8.8" ry="5.0" fill="url(#menG)" stroke="#1e69ad" stroke-width="0.6"/>
<text x="338.6" y="571.9000000000001" font-size="3.8" fill="#1a4f86" text-anchor="middle" textLength="10.56" lengthAdjust="spacingAndGlyphs">Menin</text>
<text x="351.5" y="570.8" font-size="6.3" fill="#222" textLength="24.6" lengthAdjust="spacingAndGlyphs">VTP50469</text>
<line x1="352.3" y1="572.6" x2="346.2" y2="577.4" stroke="#333" stroke-width="0.6"/>
<line x1="345.2105754218483" y1="576.1426062652655" x2="347.18942457815166" y2="578.6573937347345" stroke="#c8213f" stroke-width="0.9"/>
<ellipse cx="331.90" cy="588.80" rx="2.5" ry="6.80" fill="none" stroke="#222" stroke-width="0.85" transform="rotate(14 331.90 588.80)"/>
<ellipse cx="334.20" cy="588.80" rx="2.5" ry="6.80" fill="none" stroke="#222" stroke-width="0.85" transform="rotate(14 334.20 588.80)"/>
<ellipse cx="336.50" cy="588.80" rx="2.5" ry="6.80" fill="none" stroke="#222" stroke-width="0.85" transform="rotate(14 336.50 588.80)"/>
<ellipse cx="344.70" cy="588.80" rx="2.5" ry="6.80" fill="none" stroke="#222" stroke-width="0.85" transform="rotate(14 344.70 588.80)"/>
<ellipse cx="347.00" cy="588.80" rx="2.5" ry="6.80" fill="none" stroke="#222" stroke-width="0.85" transform="rotate(14 347.00 588.80)"/>
<ellipse cx="349.30" cy="588.80" rx="2.5" ry="6.80" fill="none" stroke="#222" stroke-width="0.85" transform="rotate(14 349.30 588.80)"/>
<ellipse cx="357.50" cy="588.80" rx="2.5" ry="6.80" fill="none" stroke="#222" stroke-width="0.85" transform="rotate(14 357.50 588.80)"/>
<ellipse cx="359.80" cy="588.80" rx="2.5" ry="6.80" fill="none" stroke="#222" stroke-width="0.85" transform="rotate(14 359.80 588.80)"/>
<ellipse cx="362.10" cy="588.80" rx="2.5" ry="6.80" fill="none" stroke="#222" stroke-width="0.85" transform="rotate(14 362.10 588.80)"/>
<path d="M326.5,597.8 Q329.0,595.6 330.5,594.8 M338.0,594.6 Q340.7,598.0 343.0,595.0 M350.8,594.6 Q353.5,598.0 355.8,595.0 " fill="none" stroke="#222" stroke-width="0.8"/>
<path d="M365.0,594.8 Q368.0,597.0 373.2,596.3" fill="none" stroke="#2a2a2a" stroke-width="0.6"/>
<path d="M373.2,596.3 L373.2,588.0 L381.5,588.0" fill="none" stroke="#c8213f" stroke-width="1.0"/>
<line x1="381.5" y1="586.0" x2="381.5" y2="590.0" stroke="#c8213f" stroke-width="1.0"/>
<text x="383.8" y="585.3" font-size="5.9" fill="#3ea5dc">MEF2C</text>
<text x="383.8" y="591.3" font-size="5.9" fill="#3ea5dc">MEIS1</text>
<text x="383.8" y="597.3" font-size="5.9" fill="#3ea5dc">PBX3</text>
<circle cx="422.00" cy="567.00" r="3.8" fill="url(#prcG)" stroke="#d06a62" stroke-width="0.3"/>
<circle cx="429.00" cy="564.50" r="4.0" fill="url(#prcG)" stroke="#d06a62" stroke-width="0.3"/>
<circle cx="426.00" cy="571.00" r="3.8" fill="url(#prcG)" stroke="#d06a62" stroke-width="0.3"/>
<circle cx="433.00" cy="570.00" r="3.5" fill="url(#prcG)" stroke="#d06a62" stroke-width="0.3"/>
<circle cx="434.00" cy="566.00" r="3.2" fill="url(#prcG)" stroke="#d06a62" stroke-width="0.3"/>
<line x1="422.0" y1="562.0" x2="435.0" y2="575.0" stroke="#222" stroke-width="0.9"/>
<line x1="435.0" y1="562.0" x2="422.0" y2="575.0" stroke="#222" stroke-width="0.9"/>
<ellipse cx="452.40" cy="569.70" rx="6.3" ry="3.8" fill="url(#menG)" stroke="#1e69ad" stroke-width="0.6"/>
<text x="452.4" y="570.9000000000001" font-size="3.8" fill="#1a4f86" text-anchor="middle" textLength="7.56" lengthAdjust="spacingAndGlyphs">Menin</text>
<text x="463.6" y="566.8" font-size="6.3" fill="#222" textLength="24.2" lengthAdjust="spacingAndGlyphs">VTP50469</text>
<line x1="465.0" y1="568.6" x2="458.6" y2="574.0" stroke="#333" stroke-width="0.6"/>
<line x1="457.5682064972644" y1="572.7771336263874" x2="459.63179350273566" y2="575.2228663736126" stroke="#c8213f" stroke-width="0.9"/>
<ellipse cx="428.30" cy="588.80" rx="2.5" ry="6.80" fill="none" stroke="#222" stroke-width="0.85" transform="rotate(14 428.30 588.80)"/>
<ellipse cx="430.60" cy="588.80" rx="2.5" ry="6.80" fill="none" stroke="#222" stroke-width="0.85" transform="rotate(14 430.60 588.80)"/>
<ellipse cx="432.90" cy="588.80" rx="2.5" ry="6.80" fill="none" stroke="#222" stroke-width="0.85" transform="rotate(14 432.90 588.80)"/>
<ellipse cx="441.10" cy="588.80" rx="2.5" ry="6.80" fill="none" stroke="#222" stroke-width="0.85" transform="rotate(14 441.10 588.80)"/>
<ellipse cx="443.40" cy="588.80" rx="2.5" ry="6.80" fill="none" stroke="#222" stroke-width="0.85" transform="rotate(14 443.40 588.80)"/>
<ellipse cx="445.70" cy="588.80" rx="2.5" ry="6.80" fill="none" stroke="#222" stroke-width="0.85" transform="rotate(14 445.70 588.80)"/>
<ellipse cx="453.90" cy="588.80" rx="2.5" ry="6.80" fill="none" stroke="#222" stroke-width="0.85" transform="rotate(14 453.90 588.80)"/>
<ellipse cx="456.20" cy="588.80" rx="2.5" ry="6.80" fill="none" stroke="#222" stroke-width="0.85" transform="rotate(14 456.20 588.80)"/>
<ellipse cx="458.50" cy="588.80" rx="2.5" ry="6.80" fill="none" stroke="#222" stroke-width="0.85" transform="rotate(14 458.50 588.80)"/>
<path d="M422.9,597.8 Q425.4,595.6 426.9,594.8 M434.4,594.6 Q437.1,598.0 439.4,595.0 M447.2,594.6 Q449.9,598.0 452.2,595.0 " fill="none" stroke="#222" stroke-width="0.8"/>
<path d="M461.4,594.8 Q464.4,597.0 469.6,596.0999999999999" fill="none" stroke="#2a2a2a" stroke-width="0.6"/>
<path d="M469.6,596.0999999999999 L469.6,588.5 L476.0,588.5" fill="none" stroke="#3a9e3e" stroke-width="0.9"/>
<path d="M478.0,588.5 L475.0,586.7 L475.0,590.3 Z" fill="#3a9e3e" stroke="none" stroke-width="0.6"/>
<text x="480.0" y="584.0" font-size="5.5" fill="#cc3355" font-style="italic">MYC</text>
<text x="480.0" y="589.8" font-size="5.5" fill="#cc3355" font-style="italic">LRP5</text>
<text x="480.0" y="595.6" font-size="5.5" fill="#cc3355" font-style="italic">RUNX3</text>
<rect x="0.5" y="0.5" width="519" height="609" fill="none" stroke="#4d4d4d" stroke-width="1"/>
</svg>
</body></html>
